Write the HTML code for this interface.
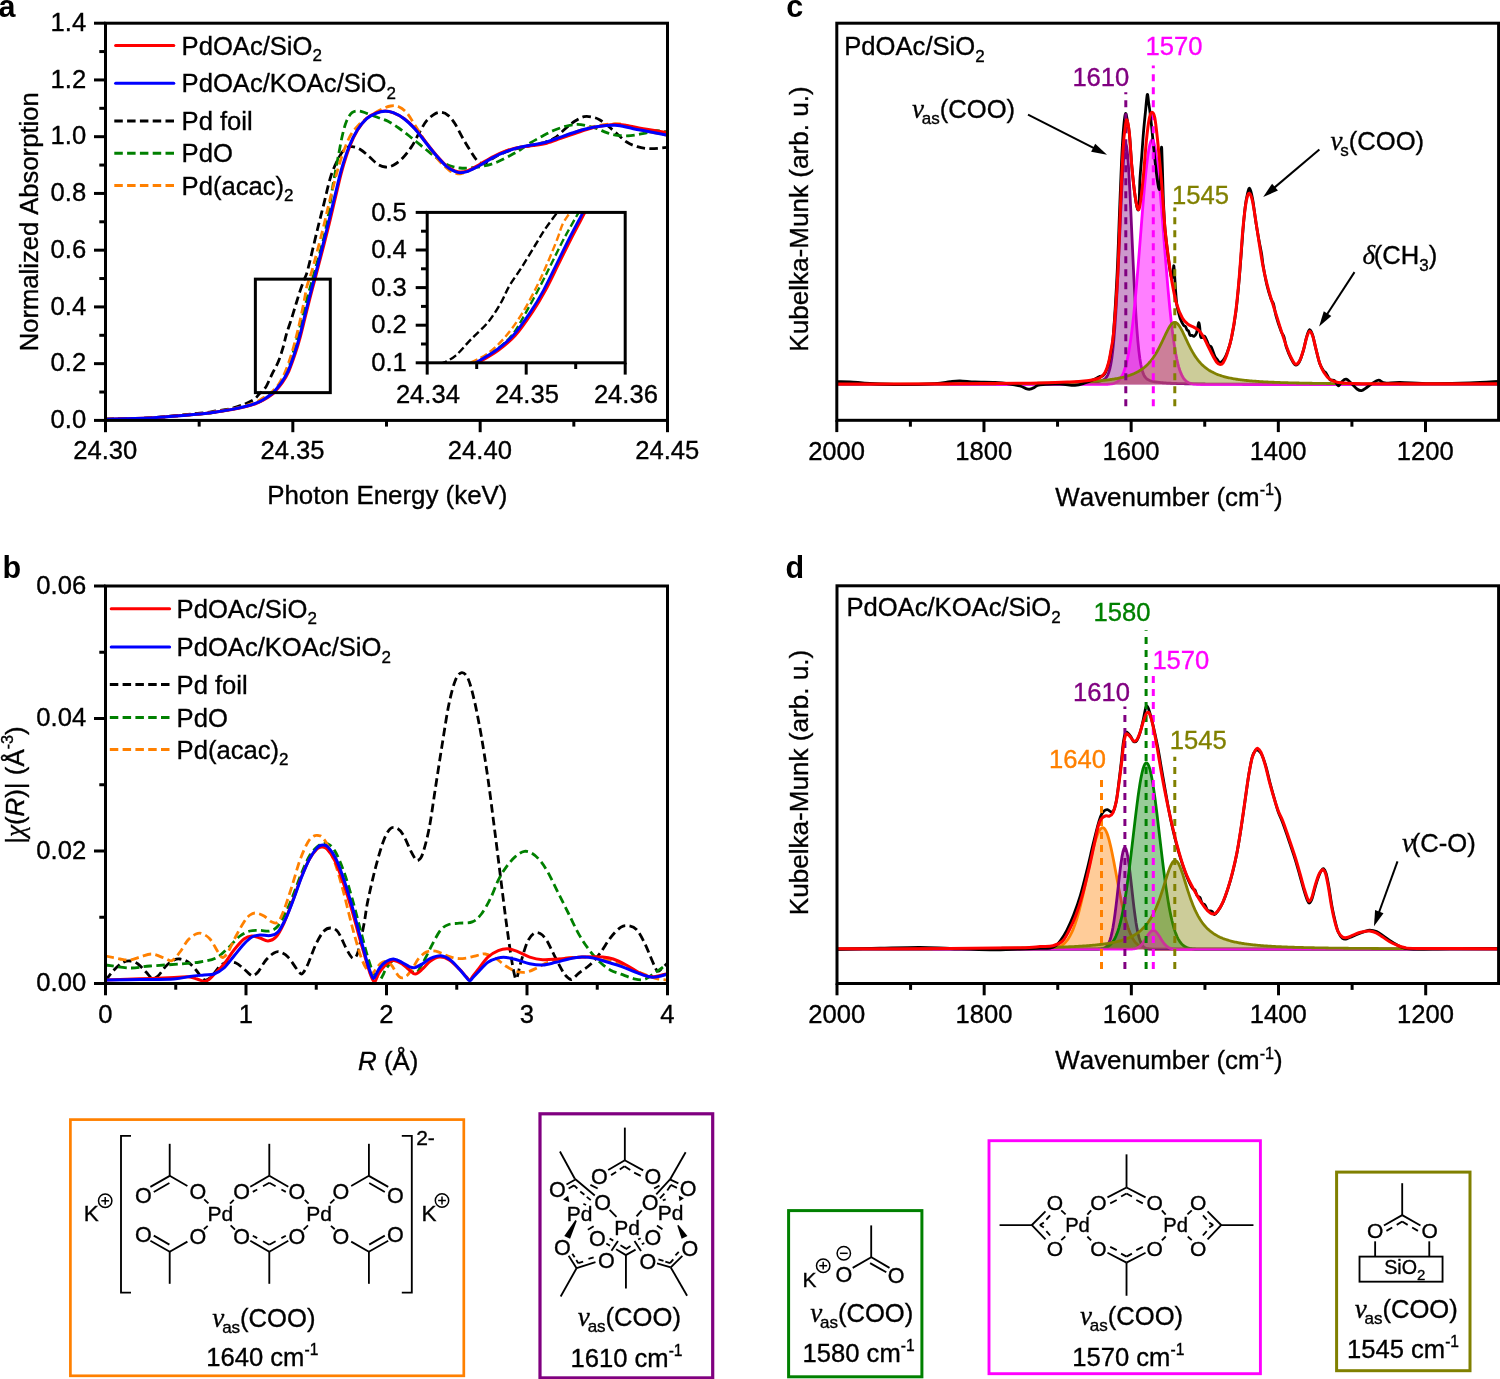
<!DOCTYPE html>
<html><head><meta charset="utf-8"><title>figure</title>
<style>
html,body{margin:0;padding:0;background:#fff;}
body{width:1500px;height:1379px;overflow:hidden;font-family:"Liberation Sans",sans-serif;}
svg{display:block;will-change:transform;}
text{white-space:pre;font-kerning:none;}
</style></head><body>
<svg width="1500" height="1379" viewBox="0 0 1500 1379">
<rect x="0" y="0" width="1500" height="1379" fill="#ffffff"/>
<clipPath id="ca"><rect x="105.5" y="23.2" width="562" height="397.2"/></clipPath>
<clipPath id="ci"><rect x="427.2" y="212.4" width="198" height="150.4"/></clipPath>
<g clip-path="url(#ca)">
<path d="M105.5 419.2C112.92 418.97 134.25 418.8 150 417.8C165.75 416.8 189 414.33 200 413.2C211 412.07 210.93 411.73 216 411C221.07 410.27 225.6 409.97 230.4 408.8C235.2 407.63 240.8 405.6 244.8 404C248.8 402.4 252.08 400.79 254.4 399.2C256.72 397.61 257.46 395.69 258.7 394.44C259.94 393.2 260.58 393.07 261.84 391.73C263.1 390.38 264.58 389.27 266.27 386.37C267.95 383.46 269.92 378.45 271.94 374.3C273.96 370.15 276.5 366.03 278.38 361.47C280.26 356.9 281.88 351.47 283.22 346.91C284.56 342.34 285.1 338.63 286.44 334.08C287.77 329.53 289.62 324.68 291.24 319.59C292.86 314.5 294.68 308.35 296.16 303.52C297.65 298.69 298.77 294.78 300.18 290.62C301.58 286.45 303.32 282.11 304.6 278.54C305.89 274.97 305.78 277.28 307.9 269.19C310.01 261.1 314.62 240.98 317.3 230C319.98 219.02 321.77 212.18 324 203.3C326.23 194.42 328.25 184.25 330.7 176.7C333.15 169.15 336.27 162.67 338.7 158C341.13 153.33 343.08 150.58 345.3 148.7C347.52 146.82 349.55 146.6 352 146.7C354.45 146.8 357.12 147.63 360 149.3C362.88 150.97 366.42 154.25 369.3 156.7C372.18 159.15 374.63 162.28 377.3 164C379.97 165.72 382.63 166.78 385.3 167C387.97 167.22 390.4 166.8 393.3 165.3C396.2 163.8 399.58 161.22 402.7 158C405.82 154.78 409.12 150.45 412 146C414.88 141.55 417.55 135.52 420 131.3C422.45 127.08 424.25 123.58 426.7 120.7C429.15 117.82 432.27 115.38 434.7 114C437.13 112.62 439.08 112.18 441.3 112.4C443.52 112.62 445.77 113.48 448 115.3C450.23 117.12 452.25 119.52 454.7 123.3C457.15 127.08 460.03 133.33 462.7 138C465.37 142.67 468.27 147.52 470.7 151.3C473.13 155.08 475.08 158.62 477.3 160.7C479.52 162.78 481.55 164.12 484 163.8C486.45 163.48 489 160.5 492 158.8C495 157.1 498.33 155.17 502 153.6C505.67 152.03 510 150.57 514 149.4C518 148.23 522.33 147.43 526 146.6C529.67 145.77 533 145.07 536 144.4C539 143.73 540.88 143.67 544 142.6C547.12 141.53 551.15 140.32 554.7 138C558.25 135.68 561.97 131.48 565.3 128.7C568.63 125.92 571.58 123.3 574.7 121.3C577.82 119.3 580.9 117.37 584 116.7C587.1 116.03 590.63 116.75 593.3 117.3C595.97 117.85 597.55 118.55 600 120C602.45 121.45 605.12 123.67 608 126C610.88 128.33 614.18 131.33 617.3 134C620.42 136.67 623.37 139.88 626.7 142C630.03 144.12 633.3 145.58 637.3 146.7C641.3 147.82 645.67 148.6 650.7 148.7C655.73 148.8 664.7 147.53 667.5 147.3" fill="none" stroke="#000000" stroke-width="2.8" stroke-dasharray="8.5 4.3"/>
<path d="M105.5 419.2C112.92 419 134.25 418.87 150 418C165.75 417.13 189 415 200 414C211 413 210.67 412.77 216 412C221.33 411.23 227.33 410.27 232 409.4C236.67 408.53 240 407.83 244 406.8C248 405.77 252.67 404.47 256 403.2C259.33 401.93 261.41 400.72 264 399.2C266.59 397.68 269.91 395.31 271.56 394.07C273.22 392.82 272.29 393.73 273.95 391.73C275.61 389.73 279.23 385.59 281.52 382.07C283.81 378.55 285.79 375.38 287.69 370.6C289.58 365.82 291.1 359.75 292.91 353.4C294.72 347.04 296.93 338.67 298.55 332.49C300.16 326.32 301.12 322.24 302.6 316.35C304.08 310.45 305.76 303.41 307.44 297.11C309.13 290.8 311.36 283.32 312.7 278.54C314.04 273.76 313.32 276.52 315.46 268.43C317.61 260.34 322.63 244.19 325.6 230C328.57 215.81 331.12 195.97 333.3 183.3C335.48 170.63 337.13 162.22 338.7 154C340.27 145.78 341.37 139.55 342.7 134C344.03 128.45 345.15 124.25 346.7 120.7C348.25 117.15 350 114.32 352 112.7C354 111.08 356.25 110.9 358.7 111C361.15 111.1 363.6 112.25 366.7 113.3C369.8 114.35 373.75 115.97 377.3 117.3C380.85 118.63 384.43 119.52 388 121.3C391.57 123.08 395.15 125.55 398.7 128C402.25 130.45 405.75 133.22 409.3 136C412.85 138.78 416.43 141.82 420 144.7C423.57 147.58 427.15 150.53 430.7 153.3C434.25 156.07 437.97 159.18 441.3 161.3C444.63 163.42 447.58 164.88 450.7 166C453.82 167.12 456.9 167.67 460 168C463.1 168.33 465.3 168.33 469.3 168C473.3 167.67 479.33 167 484 166C488.67 165 492.85 163.78 497.3 162C501.75 160.22 506.92 157.3 510.7 155.3C514.48 153.3 516.67 152.1 520 150C523.33 147.9 526.92 145.03 530.7 142.7C534.48 140.37 538.7 138.12 542.7 136C546.7 133.88 550.7 131.67 554.7 130C558.7 128.33 562.93 126.93 566.7 126C570.47 125.07 573.97 124.45 577.3 124.4C580.63 124.35 583.37 124.98 586.7 125.7C590.03 126.42 593.97 127.53 597.3 128.7C600.63 129.87 603.37 131.6 606.7 132.7C610.03 133.8 613.3 134.82 617.3 135.3C621.3 135.78 626.25 135.93 630.7 135.6C635.15 135.27 639.78 134.12 644 133.3C648.22 132.48 652.08 130.92 656 130.7C659.92 130.48 665.58 131.78 667.5 132" fill="none" stroke="#008000" stroke-width="2.8" stroke-dasharray="8.5 4.3"/>
<path d="M105.5 419.2C112.92 419 134.25 418.9 150 418C165.75 417.1 189 414.85 200 413.8C211 412.75 210.67 412.5 216 411.7C221.33 410.9 227.33 409.92 232 409C236.67 408.08 240 407.33 244 406.2C248 405.07 252.83 403.57 256 402.2C259.17 400.83 260.91 399.29 263 398C265.09 396.71 267.05 395.49 268.54 394.44C270.03 393.4 270.3 393.34 271.94 391.73C273.58 390.12 276.23 387.95 278.38 384.78C280.52 381.62 282.67 377.68 284.81 372.71C286.95 367.74 289.23 361.42 291.24 354.98C293.26 348.54 295.3 340.52 296.92 334.08C298.54 327.64 299.69 322.26 300.97 316.35C302.25 310.44 303.66 303.46 304.6 298.61C305.55 293.77 305.85 290.64 306.65 287.3C307.45 283.95 308.44 281.56 309.41 278.54C310.37 275.52 310.22 277.28 312.44 269.19C314.65 261.1 319.66 242.08 322.7 230C325.74 217.92 327.82 208.03 330.7 196.7C333.58 185.37 336.9 171.83 340 162C343.1 152.17 346.18 143.87 349.3 137.7C352.42 131.53 355.37 128.5 358.7 125C362.03 121.5 365.75 119.2 369.3 116.7C372.85 114.2 376.43 111.78 380 110C383.57 108.22 387.58 106.55 390.7 106C393.82 105.45 396.03 105.58 398.7 106.7C401.37 107.82 404.03 109.7 406.7 112.7C409.37 115.7 411.65 119.98 414.7 124.7C417.75 129.42 421.23 135.33 425 141C428.77 146.67 433.25 153.82 437.3 158.7C441.35 163.58 446.02 167.82 449.3 170.3C452.58 172.78 454.88 173.08 457 173.6C459.12 174.12 460.17 173.78 462 173.4C463.83 173.02 465.22 172.53 468 171.3C470.78 170.07 474.48 168.33 478.7 166C482.92 163.67 488.63 159.87 493.3 157.3C497.97 154.73 502.25 152.27 506.7 150.6C511.15 148.93 515.57 148.28 520 147.3C524.43 146.32 528.85 145.58 533.3 144.7C537.75 143.82 542.25 143.23 546.7 142C551.15 140.77 555.57 138.85 560 137.3C564.43 135.75 568.85 134.22 573.3 132.7C577.75 131.18 582.25 129.43 586.7 128.2C591.15 126.97 595.57 126.03 600 125.3C604.43 124.57 609.97 124.02 613.3 123.8C616.63 123.58 616.67 123.38 620 124C623.33 124.62 628.85 126.28 633.3 127.5C637.75 128.72 641 130 646.7 131.3C652.4 132.6 664.03 134.63 667.5 135.3" fill="none" stroke="#ff8000" stroke-width="2.8" stroke-dasharray="8.5 4.3"/>
<path d="M105.5 419.2C112.92 419 134.25 418.87 150 418C165.75 417.13 189 414.98 200 414C211 413.02 210.67 412.83 216 412.1C221.33 411.37 227.33 410.43 232 409.6C236.67 408.77 240 408.1 244 407.1C248 406.1 252.67 404.82 256 403.6C259.33 402.38 261.29 401.35 264 399.8C266.71 398.25 270.51 395.6 272.28 394.29C274.06 392.98 273 393.9 274.67 391.95C276.34 390 279.96 386.04 282.31 382.6C284.67 379.15 286.63 376.11 288.78 371.28C290.94 366.45 293.37 359.24 295.26 353.62C297.14 348 298.48 343.45 300.1 337.55C301.71 331.65 303.34 324.68 304.94 318.23C306.55 311.78 308.07 305.42 309.75 298.84C311.43 292.26 313.72 283.8 315.05 278.77C316.37 273.74 315.59 276.79 317.7 268.66C319.81 260.53 324.72 241.99 327.7 230C330.68 218.01 333.2 206.7 335.6 196.7C338 186.7 339.72 178.45 342.1 170C344.48 161.55 347.32 152.67 349.9 146C352.48 139.33 354.8 134.62 357.6 130C360.4 125.38 363.63 121.17 366.7 118.3C369.77 115.43 372.9 114.02 376 112.8C379.1 111.58 382.38 110.98 385.3 111C388.22 111.02 390.32 111.62 393.5 112.9C396.68 114.18 400.8 116.07 404.4 118.7C408 121.33 411.55 124.82 415.1 128.7C418.65 132.58 422.15 137.57 425.7 142C429.25 146.43 432.85 151.23 436.4 155.3C439.95 159.37 443.9 163.8 447 166.4C450.1 169 452.75 169.95 455 170.9C457.25 171.85 458.33 172.15 460.5 172.1C462.67 172.05 464.97 171.78 468 170.6C471.03 169.42 474.48 167.35 478.7 165C482.92 162.65 488.63 158.88 493.3 156.5C497.97 154.12 502.25 152.23 506.7 150.7C511.15 149.17 515.57 148.15 520 147.3C524.43 146.45 528.85 146.28 533.3 145.6C537.75 144.92 542.25 144.35 546.7 143.2C551.15 142.05 555.57 140.23 560 138.7C564.43 137.17 568.85 135.53 573.3 134C577.75 132.47 582.25 130.78 586.7 129.5C591.15 128.22 595.57 127.13 600 126.3C604.43 125.47 609.97 124.78 613.3 124.5C616.63 124.22 616.67 124.22 620 124.6C623.33 124.98 628.85 126.02 633.3 126.8C637.75 127.58 641 128.32 646.7 129.3C652.4 130.28 664.03 132.13 667.5 132.7" fill="none" stroke="#ff0000" stroke-width="3"/>
<path d="M105.5 419.2C112.92 419 134.25 418.87 150 418C165.75 417.13 189 415 200 414C211 413 210.67 412.77 216 412C221.33 411.23 227.33 410.27 232 409.4C236.67 408.53 240 407.83 244 406.8C248 405.77 252.67 404.47 256 403.2C259.33 401.93 261.41 400.72 264 399.2C266.59 397.68 269.91 395.31 271.56 394.07C273.22 392.82 272.28 393.68 273.95 391.73C275.62 389.78 279.24 385.82 281.59 382.37C283.95 378.92 285.91 375.88 288.06 371.05C290.22 366.22 292.65 359.02 294.54 353.4C296.42 347.77 297.77 343.22 299.38 337.32C301 331.42 302.62 324.46 304.22 318.01C305.83 311.55 307.35 305.19 309.03 298.61C310.72 292.04 313 283.57 314.33 278.54C315.65 273.51 314.92 276.52 316.98 268.43C319.04 260.34 323.75 241.96 326.7 230C329.65 218.04 332.27 206.7 334.7 196.7C337.13 186.7 338.87 178.45 341.3 170C343.73 161.55 346.63 152.67 349.3 146C351.97 139.33 354.4 134.55 357.3 130C360.2 125.45 363.58 121.48 366.7 118.7C369.82 115.92 372.9 114.53 376 113.3C379.1 112.07 382.42 111.4 385.3 111.3C388.18 111.2 390.18 111.47 393.3 112.7C396.42 113.93 400.43 116.03 404 118.7C407.57 121.37 411.15 124.82 414.7 128.7C418.25 132.58 421.75 137.57 425.3 142C428.85 146.43 432.43 151.18 436 155.3C439.57 159.42 443.58 164.03 446.7 166.7C449.82 169.37 452.48 170.3 454.7 171.3C456.92 172.3 457.78 172.7 460 172.7C462.22 172.7 464.88 172.42 468 171.3C471.12 170.18 474.48 168.33 478.7 166C482.92 163.67 488.63 159.75 493.3 157.3C497.97 154.85 502.25 152.97 506.7 151.3C511.15 149.63 515.57 148.4 520 147.3C524.43 146.2 528.85 145.58 533.3 144.7C537.75 143.82 542.25 143.23 546.7 142C551.15 140.77 555.57 138.85 560 137.3C564.43 135.75 568.85 134.13 573.3 132.7C577.75 131.27 582.25 129.77 586.7 128.7C591.15 127.63 595.57 126.87 600 126.3C604.43 125.73 609.97 125.4 613.3 125.3C616.63 125.2 616.67 125.13 620 125.7C623.33 126.27 628.85 127.77 633.3 128.7C637.75 129.63 641 130.2 646.7 131.3C652.4 132.4 664.03 134.63 667.5 135.3" fill="none" stroke="#0000ff" stroke-width="3"/>
</g>
<g clip-path="url(#ci)">
<path d="M399.28 378.67C403.51 377.61 418.53 374.42 424.65 372.3C430.77 370.19 432.72 367.65 436 366C439.28 364.35 440.97 364.18 444.3 362.4C447.63 360.62 451.55 359.15 456 355.3C460.45 351.45 465.67 344.8 471 339.3C476.33 333.8 483.03 328.35 488 322.3C492.97 316.25 497.25 309.05 500.8 303C504.35 296.95 505.77 292.03 509.3 286C512.83 279.97 517.72 273.55 522 266.8C526.28 260.05 531.07 251.9 535 245.5C538.93 239.1 541.88 233.92 545.6 228.4C549.32 222.88 553.9 217.13 557.3 212.4C560.7 207.67 560.41 210.72 566 200C571.59 189.28 583.76 162.62 590.85 148.07C597.94 133.51 602.65 124.46 608.55 112.68C614.45 100.91 619.78 87.44 626.26 77.43C632.73 67.42 640.97 58.83 647.4 52.65C653.83 46.46 661.93 42.38 664.84 40.32" fill="none" stroke="#000000" stroke-width="2.4" stroke-dasharray="7.5 3.4"/>
<path d="M397.17 382.38C402.45 381.58 420.07 379.28 428.87 377.61C437.68 375.93 443.16 374.32 450.01 372.3C456.87 370.29 465.62 367.15 470 365.5C474.38 363.85 471.92 365.05 476.3 362.4C480.68 359.75 490.25 354.27 496.3 349.6C502.35 344.93 507.58 340.73 512.6 334.4C517.62 328.07 521.62 320.02 526.4 311.6C531.18 303.18 537.03 292.08 541.3 283.9C545.57 275.72 548.08 270.32 552 262.5C555.92 254.68 560.35 245.35 564.8 237C569.25 228.65 575.17 218.73 578.7 212.4C582.23 206.07 580.32 209.72 586 199C591.68 188.28 604.93 166.87 612.78 148.07C620.64 129.26 627.36 102.96 633.13 86.18C638.9 69.39 643.26 58.24 647.4 47.35C651.54 36.46 654.44 28.2 657.97 20.84C661.49 13.49 666.77 6.15 668.53 3.21" fill="none" stroke="#008000" stroke-width="2.4" stroke-dasharray="7.5 3.4"/>
<path d="M397.17 381.58C402.45 380.7 420.51 378.09 428.87 376.28C437.24 374.47 441.85 372.43 447.37 370.71C452.89 369 458.06 367.39 462 366C465.94 364.61 466.67 364.53 471 362.4C475.33 360.27 482.33 357.4 488 353.2C493.67 349 499.33 343.78 505 337.2C510.67 330.62 516.67 322.23 522 313.7C527.33 305.17 532.72 294.53 537 286C541.28 277.47 544.32 270.33 547.7 262.5C551.08 254.67 554.8 245.42 557.3 239C559.8 232.58 560.58 228.43 562.7 224C564.82 219.57 567.45 216.4 570 212.4C572.55 208.4 572.15 210.72 578 200C583.85 189.28 597.08 164.08 605.12 148.07C613.16 132.06 618.64 118.96 626.26 103.94C633.88 88.92 646.74 65.61 650.83 57.95" fill="none" stroke="#ff8000" stroke-width="2.4" stroke-dasharray="7.5 3.4"/>
<path d="M397.17 382.77C402.45 382 420.07 379.75 428.87 378.14C437.68 376.52 442.84 375.16 450.01 373.1C457.18 371.04 467.2 367.53 471.9 365.8C476.6 364.07 473.78 365.28 478.2 362.7C482.62 360.12 492.18 354.87 498.4 350.3C504.62 345.73 509.8 341.7 515.5 335.3C521.2 328.9 527.62 319.35 532.6 311.9C537.58 304.45 541.13 298.42 545.4 290.6C549.67 282.78 553.95 273.55 558.2 265C562.45 256.45 566.45 248.02 570.9 239.3C575.35 230.58 581.4 219.37 584.9 212.7C588.4 206.03 586.33 210.07 591.9 199.3C597.47 188.53 610.45 163.96 618.33 148.07C626.21 132.17 632.86 117.19 639.2 103.94C645.55 90.68 653.52 74.45 656.38 68.55" fill="none" stroke="#ff0000" stroke-width="2.8"/>
<path d="M397.17 382.38C402.45 381.58 420.07 379.28 428.87 377.61C437.68 375.93 443.16 374.32 450.01 372.3C456.87 370.29 465.62 367.15 470 365.5C474.38 363.85 471.88 364.98 476.3 362.4C480.72 359.82 490.28 354.57 496.5 350C502.72 345.43 507.9 341.4 513.6 335C519.3 328.6 525.72 319.05 530.7 311.6C535.68 304.15 539.23 298.12 543.5 290.3C547.77 282.48 552.05 273.25 556.3 264.7C560.55 256.15 564.55 247.72 569 239C573.45 230.28 579.5 219.07 583 212.4C586.5 205.73 584.55 209.72 590 199C595.45 188.28 607.88 163.91 615.69 148.07C623.49 132.22 630.4 117.19 636.83 103.94C643.26 90.68 651.36 74.45 654.27 68.55" fill="none" stroke="#0000ff" stroke-width="2.8"/>
</g>
<rect x="255.37" y="279.14" width="74.93" height="113.49" fill="none" stroke="#000" stroke-width="3"/>
<rect x="105.5" y="23.2" width="562" height="397.2" fill="none" stroke="#000" stroke-width="3"/>
<line x1="94" y1="420.4" x2="105.5" y2="420.4" stroke="#000" stroke-width="3" />
<text x="86.2" y="428.1" font-family='"Liberation Sans", sans-serif' font-size="25.6" text-anchor="end" fill="#000" stroke="#000" stroke-width="0.35" >0.0</text>
<line x1="99.3" y1="392.03" x2="105.5" y2="392.03" stroke="#000" stroke-width="3" />
<line x1="94" y1="363.66" x2="105.5" y2="363.66" stroke="#000" stroke-width="3" />
<text x="86.2" y="371.36" font-family='"Liberation Sans", sans-serif' font-size="25.6" text-anchor="end" fill="#000" stroke="#000" stroke-width="0.35" >0.2</text>
<line x1="99.3" y1="335.29" x2="105.5" y2="335.29" stroke="#000" stroke-width="3" />
<line x1="94" y1="306.91" x2="105.5" y2="306.91" stroke="#000" stroke-width="3" />
<text x="86.2" y="314.61" font-family='"Liberation Sans", sans-serif' font-size="25.6" text-anchor="end" fill="#000" stroke="#000" stroke-width="0.35" >0.4</text>
<line x1="99.3" y1="278.54" x2="105.5" y2="278.54" stroke="#000" stroke-width="3" />
<line x1="94" y1="250.17" x2="105.5" y2="250.17" stroke="#000" stroke-width="3" />
<text x="86.2" y="257.87" font-family='"Liberation Sans", sans-serif' font-size="25.6" text-anchor="end" fill="#000" stroke="#000" stroke-width="0.35" >0.6</text>
<line x1="99.3" y1="221.8" x2="105.5" y2="221.8" stroke="#000" stroke-width="3" />
<line x1="94" y1="193.43" x2="105.5" y2="193.43" stroke="#000" stroke-width="3" />
<text x="86.2" y="201.13" font-family='"Liberation Sans", sans-serif' font-size="25.6" text-anchor="end" fill="#000" stroke="#000" stroke-width="0.35" >0.8</text>
<line x1="99.3" y1="165.06" x2="105.5" y2="165.06" stroke="#000" stroke-width="3" />
<line x1="94" y1="136.69" x2="105.5" y2="136.69" stroke="#000" stroke-width="3" />
<text x="86.2" y="144.39" font-family='"Liberation Sans", sans-serif' font-size="25.6" text-anchor="end" fill="#000" stroke="#000" stroke-width="0.35" >1.0</text>
<line x1="99.3" y1="108.31" x2="105.5" y2="108.31" stroke="#000" stroke-width="3" />
<line x1="94" y1="79.94" x2="105.5" y2="79.94" stroke="#000" stroke-width="3" />
<text x="86.2" y="87.64" font-family='"Liberation Sans", sans-serif' font-size="25.6" text-anchor="end" fill="#000" stroke="#000" stroke-width="0.35" >1.2</text>
<line x1="99.3" y1="51.57" x2="105.5" y2="51.57" stroke="#000" stroke-width="3" />
<line x1="94" y1="23.2" x2="105.5" y2="23.2" stroke="#000" stroke-width="3" />
<text x="86.2" y="30.9" font-family='"Liberation Sans", sans-serif' font-size="25.6" text-anchor="end" fill="#000" stroke="#000" stroke-width="0.35" >1.4</text>
<line x1="105.5" y1="420.4" x2="105.5" y2="432.2" stroke="#000" stroke-width="3" />
<text x="105.2" y="459.4" font-family='"Liberation Sans", sans-serif' font-size="25.6" text-anchor="middle" fill="#000" stroke="#000" stroke-width="0.35" >24.30</text>
<line x1="199.17" y1="420.4" x2="199.17" y2="426.6" stroke="#000" stroke-width="3" />
<line x1="292.83" y1="420.4" x2="292.83" y2="432.2" stroke="#000" stroke-width="3" />
<text x="292.53" y="459.4" font-family='"Liberation Sans", sans-serif' font-size="25.6" text-anchor="middle" fill="#000" stroke="#000" stroke-width="0.35" >24.35</text>
<line x1="386.5" y1="420.4" x2="386.5" y2="426.6" stroke="#000" stroke-width="3" />
<line x1="480.17" y1="420.4" x2="480.17" y2="432.2" stroke="#000" stroke-width="3" />
<text x="479.87" y="459.4" font-family='"Liberation Sans", sans-serif' font-size="25.6" text-anchor="middle" fill="#000" stroke="#000" stroke-width="0.35" >24.40</text>
<line x1="573.83" y1="420.4" x2="573.83" y2="426.6" stroke="#000" stroke-width="3" />
<line x1="667.5" y1="420.4" x2="667.5" y2="432.2" stroke="#000" stroke-width="3" />
<text x="667.2" y="459.4" font-family='"Liberation Sans", sans-serif' font-size="25.6" text-anchor="middle" fill="#000" stroke="#000" stroke-width="0.35" >24.45</text>
<rect x="427.2" y="212.4" width="198" height="150.4" fill="none" stroke="#000" stroke-width="3"/>
<line x1="415.7" y1="362.8" x2="427.2" y2="362.8" stroke="#000" stroke-width="3" />
<text x="406.8" y="370.9" font-family='"Liberation Sans", sans-serif' font-size="25.6" text-anchor="end" fill="#000" stroke="#000" stroke-width="0.35" >0.1</text>
<line x1="421" y1="344" x2="427.2" y2="344" stroke="#000" stroke-width="3" />
<line x1="415.7" y1="325.2" x2="427.2" y2="325.2" stroke="#000" stroke-width="3" />
<text x="406.8" y="333.3" font-family='"Liberation Sans", sans-serif' font-size="25.6" text-anchor="end" fill="#000" stroke="#000" stroke-width="0.35" >0.2</text>
<line x1="421" y1="306.4" x2="427.2" y2="306.4" stroke="#000" stroke-width="3" />
<line x1="415.7" y1="287.6" x2="427.2" y2="287.6" stroke="#000" stroke-width="3" />
<text x="406.8" y="295.7" font-family='"Liberation Sans", sans-serif' font-size="25.6" text-anchor="end" fill="#000" stroke="#000" stroke-width="0.35" >0.3</text>
<line x1="421" y1="268.8" x2="427.2" y2="268.8" stroke="#000" stroke-width="3" />
<line x1="415.7" y1="250" x2="427.2" y2="250" stroke="#000" stroke-width="3" />
<text x="406.8" y="258.1" font-family='"Liberation Sans", sans-serif' font-size="25.6" text-anchor="end" fill="#000" stroke="#000" stroke-width="0.35" >0.4</text>
<line x1="421" y1="231.2" x2="427.2" y2="231.2" stroke="#000" stroke-width="3" />
<line x1="415.7" y1="212.4" x2="427.2" y2="212.4" stroke="#000" stroke-width="3" />
<text x="406.8" y="220.5" font-family='"Liberation Sans", sans-serif' font-size="25.6" text-anchor="end" fill="#000" stroke="#000" stroke-width="0.35" >0.5</text>
<line x1="427.2" y1="362.8" x2="427.2" y2="374.6" stroke="#000" stroke-width="3" />
<text x="427.9" y="403.2" font-family='"Liberation Sans", sans-serif' font-size="25.6" text-anchor="middle" fill="#000" stroke="#000" stroke-width="0.35" >24.34</text>
<line x1="476.7" y1="362.8" x2="476.7" y2="369" stroke="#000" stroke-width="3" />
<line x1="526.2" y1="362.8" x2="526.2" y2="374.6" stroke="#000" stroke-width="3" />
<text x="526.9" y="403.2" font-family='"Liberation Sans", sans-serif' font-size="25.6" text-anchor="middle" fill="#000" stroke="#000" stroke-width="0.35" >24.35</text>
<line x1="575.7" y1="362.8" x2="575.7" y2="369" stroke="#000" stroke-width="3" />
<line x1="625.2" y1="362.8" x2="625.2" y2="374.6" stroke="#000" stroke-width="3" />
<text x="625.9" y="403.2" font-family='"Liberation Sans", sans-serif' font-size="25.6" text-anchor="middle" fill="#000" stroke="#000" stroke-width="0.35" >24.36</text>
<text x="-1.6" y="17" font-family='"Liberation Sans", sans-serif' font-size="30.5" text-anchor="start" fill="#000" font-weight="bold" >a</text>
<text x="387.3" y="503.6" font-family='"Liberation Sans", sans-serif' font-size="25.9" text-anchor="middle" fill="#000" stroke="#000" stroke-width="0.35" >Photon Energy (keV)</text>
<text transform="translate(38.4,221.8) rotate(-90)" font-family='"Liberation Sans", sans-serif' font-size="25.6" text-anchor="middle" stroke="#000" stroke-width="0.35">Normalized Absorption</text>
<path d="M115.6 45.4 H173.8" fill="none" stroke="#ff0000" stroke-width="3" stroke-linecap="round"/>
<text x="181.6" y="54.5" font-family='"Liberation Sans", sans-serif' font-size="25.6" text-anchor="start" fill="#000" stroke="#000" stroke-width="0.35" >PdOAc/SiO<tspan font-size="17" dy="6.5">2</tspan><tspan dy="-6.5" font-size="1">&#8203;</tspan></text>
<path d="M115.6 83.3 H173.8" fill="none" stroke="#0000ff" stroke-width="3" stroke-linecap="round"/>
<text x="181.6" y="92.4" font-family='"Liberation Sans", sans-serif' font-size="25.6" text-anchor="start" fill="#000" stroke="#000" stroke-width="0.35" >PdOAc/KOAc/SiO<tspan font-size="17" dy="6.5">2</tspan><tspan dy="-6.5" font-size="1">&#8203;</tspan></text>
<path d="M114.3 121 H175.4" fill="none" stroke="#000000" stroke-width="3" stroke-dasharray="8.5 4.3"/>
<text x="181.6" y="130.1" font-family='"Liberation Sans", sans-serif' font-size="25.6" text-anchor="start" fill="#000" stroke="#000" stroke-width="0.35" >Pd foil</text>
<path d="M114.3 153.3 H175.4" fill="none" stroke="#008000" stroke-width="3" stroke-dasharray="8.5 4.3"/>
<text x="181.6" y="162.4" font-family='"Liberation Sans", sans-serif' font-size="25.6" text-anchor="start" fill="#000" stroke="#000" stroke-width="0.35" >PdO</text>
<path d="M114.3 185.4 H175.4" fill="none" stroke="#ff8000" stroke-width="3" stroke-dasharray="8.5 4.3"/>
<text x="181.6" y="194.5" font-family='"Liberation Sans", sans-serif' font-size="25.6" text-anchor="start" fill="#000" stroke="#000" stroke-width="0.35" >Pd(acac)<tspan font-size="17" dy="6.5">2</tspan><tspan dy="-6.5" font-size="1">&#8203;</tspan></text>
<clipPath id="cb"><rect x="105.5" y="586" width="562" height="397.5"/></clipPath>
<g clip-path="url(#cb)">
<path d="M105.5 980.5C106.92 978.75 111.25 972.92 114 970C116.75 967.08 119.33 964.5 122 963C124.67 961.5 127.33 960.83 130 961C132.67 961.17 135.33 962.17 138 964C140.67 965.83 143.67 969.67 146 972C148.33 974.33 150 977.33 152 978C154 978.67 155.67 978 158 976C160.33 974 163.33 968.67 166 966C168.67 963.33 171.67 961.17 174 960C176.33 958.83 177.67 958.67 180 959C182.33 959.33 185.33 960.17 188 962C190.67 963.83 193.67 967.33 196 970C198.33 972.67 200.33 976.33 202 978C203.67 979.67 204.33 980.33 206 980C207.67 979.67 209.67 978.33 212 976C214.33 973.67 217.33 968.33 220 966C222.67 963.67 225.33 962.5 228 962C230.67 961.5 233.33 961.83 236 963C238.67 964.17 241.67 967.08 244 969C246.33 970.92 248.5 973.42 250 974.5C251.5 975.58 251.67 975.92 253 975.5C254.33 975.08 255.83 974.58 258 972C260.17 969.42 263.33 963.17 266 960C268.67 956.83 271.67 954.33 274 953C276.33 951.67 277.67 951.33 280 952C282.33 952.67 285.33 954.33 288 957C290.67 959.67 293.92 965.25 296 968C298.08 970.75 299.33 972.67 300.5 973.5C301.67 974.33 301.75 974.58 303 973C304.25 971.42 305.83 968.83 308 964C310.17 959.17 313.33 949.5 316 944C318.67 938.5 321.5 933.67 324 931C326.5 928.33 328.67 927.83 331 928C333.33 928.17 335.5 928.67 338 932C340.5 935.33 343.83 943.92 346 948C348.17 952.08 349.67 954.83 351 956.5C352.33 958.17 352.83 958.75 354 958C355.17 957.25 356.33 957.67 358 952C359.67 946.33 362.37 932.5 364 924C365.63 915.5 365.85 910.5 367.8 901C369.75 891.5 373.08 877 375.7 867C378.32 857 381.12 847.33 383.5 841C385.88 834.67 387.83 831.17 390 829C392.17 826.83 394.33 827.08 396.5 828C398.67 828.92 400.58 830.6 403 834.5C405.42 838.4 408.92 847.32 411 851.4C413.08 855.48 414.25 857.57 415.5 859C416.75 860.43 417.32 860.83 418.5 860C419.68 859.17 420.82 859.33 422.6 854C424.38 848.67 427.02 839.3 429.2 828C431.38 816.7 433.53 800.13 435.7 786.2C437.87 772.27 440.03 757.88 442.2 744.4C444.37 730.92 446.52 715.95 448.7 705.3C450.88 694.65 453.12 685.95 455.3 680.5C457.48 675.05 459.63 672.82 461.8 672.6C463.97 672.38 466.13 674.2 468.3 679.2C470.47 684.2 472.62 693.03 474.8 702.6C476.98 712.17 479.22 723.98 481.4 736.6C483.58 749.22 485.73 763.07 487.9 778.3C490.07 793.53 492.23 811.05 494.4 828C496.57 844.95 498.93 864.33 500.9 880C502.87 895.67 504.45 908.93 506.2 922C507.95 935.07 510.02 949.57 511.4 958.4C512.78 967.23 513.7 971.57 514.5 975C515.3 978.43 515.62 979.17 516.2 979C516.78 978.83 517.28 976.55 518 974C518.72 971.45 519 968.9 520.5 963.7C522 958.5 524.82 947.82 527 942.8C529.18 937.78 531.42 935.13 533.6 933.6C535.78 932.07 537.93 932.5 540.1 933.6C542.27 934.7 544.2 936.5 546.6 940.2C549 943.9 551.67 950.37 554.5 955.8C557.33 961.23 561.18 969.02 563.6 972.8C566.02 976.58 567.52 977.47 569 978.5C570.48 979.53 570.8 979.95 572.5 979C574.2 978.05 576.33 975.13 579.2 972.8C582.07 970.47 586.22 968.27 589.7 965C593.18 961.73 596.62 957.77 600.1 953.2C603.58 948.63 607.12 941.95 610.6 937.6C614.08 933.25 617.97 929.07 621 927.1C624.03 925.13 626.18 925.37 628.8 925.8C631.42 926.23 634.08 926.87 636.7 929.7C639.32 932.53 641.9 937.58 644.5 942.8C647.1 948.02 650.3 956.47 652.3 961C654.3 965.53 655.38 968.33 656.5 970C657.62 971.67 657.95 971.4 659 971C660.05 970.6 661.38 968.93 662.8 967.6C664.22 966.27 666.72 963.77 667.5 963" fill="none" stroke="#000000" stroke-width="2.8" stroke-dasharray="8.5 4.3"/>
<path d="M105.5 965C109.58 965.5 122.58 967.83 130 968C137.42 968.17 141.67 966.67 150 966C158.33 965.33 171.67 964.67 180 964C188.33 963.33 194 963 200 962C206 961 211.33 960.33 216 958C220.67 955.67 224 951.67 228 948C232 944.33 236.33 938.83 240 936C243.67 933.17 246.67 931.93 250 931C253.33 930.07 256.67 930.4 260 930.4C263.33 930.4 267 931.73 270 931C273 930.27 275.33 929.17 278 926C280.67 922.83 283.33 917.5 286 912C288.67 906.5 291.33 899.67 294 893C296.67 886.33 299.33 878.33 302 872C304.67 865.67 307.33 859.33 310 855C312.67 850.67 315.67 847.93 318 846C320.33 844.07 322 843.57 324 843.4C326 843.23 328 843.4 330 845C332 846.6 333.67 848.5 336 853C338.33 857.5 341.33 864.5 344 872C346.67 879.5 349.33 888.67 352 898C354.67 907.33 357.33 918 360 928C362.67 938 365.67 950.33 368 958C370.33 965.67 372.07 970.42 374 974C375.93 977.58 378.1 979.33 379.6 979.5C381.1 979.67 381.92 976.77 383 975C384.08 973.23 384.27 971.45 386.1 968.9C387.93 966.35 391.35 960.68 394 959.7C396.65 958.72 399.5 961.37 402 963C404.5 964.63 406.65 967.87 409 969.5C411.35 971.13 414.18 973.22 416.1 972.8C418.02 972.38 418.97 969.4 420.5 967C422.03 964.6 423.2 962.43 425.3 958.4C427.4 954.37 430.5 947.58 433.1 942.8C435.7 938.02 438.3 932.75 440.9 929.7C443.5 926.65 445.65 925.58 448.7 924.5C451.75 923.42 455.28 923.63 459.2 923.2C463.12 922.77 468.5 923.43 472.2 921.9C475.9 920.37 478.35 917.92 481.4 914C484.45 910.08 487.68 904.05 490.5 898.4C493.32 892.75 495.68 885.32 498.3 880.1C500.92 874.88 503.37 871.02 506.2 867.1C509.03 863.18 512.27 859.22 515.3 856.6C518.33 853.98 521.57 851.92 524.4 851.4C527.23 850.88 529.68 851.97 532.3 853.5C534.92 855.03 537.5 857.47 540.1 860.6C542.7 863.73 544.85 866.87 547.9 872.3C550.95 877.73 554.92 886.25 558.4 893.2C561.88 900.15 565.33 907.05 568.8 914C572.27 920.95 575.72 928.8 579.2 934.9C582.68 941 586.22 946.03 589.7 950.6C593.18 955.17 596.62 959.03 600.1 962.3C603.58 965.57 607.12 968.23 610.6 970.2C614.08 972.17 617.08 972.67 621 974.1C624.92 975.53 630.18 977.93 634.1 978.8C638.02 979.67 641.02 980.3 644.5 979.3C647.98 978.3 651.17 975.4 655 972.8C658.83 970.2 665.42 965.22 667.5 963.7" fill="none" stroke="#008000" stroke-width="2.8" stroke-dasharray="8.5 4.3"/>
<path d="M105.5 956C107.92 956.5 115.92 958.33 120 959C124.08 959.67 126.67 960.33 130 960C133.33 959.67 136.33 958 140 957C143.67 956 148 953.83 152 954C156 954.17 160.67 956.9 164 958C167.33 959.1 169.33 961.6 172 960.6C174.67 959.6 177.33 955.43 180 952C182.67 948.57 185.33 943 188 940C190.67 937 193.67 935.07 196 934C198.33 932.93 199.67 932.77 202 933.6C204.33 934.43 207.33 935.93 210 939C212.67 942.07 215.92 948.92 218 952C220.08 955.08 220.83 957.5 222.5 957.5C224.17 957.5 225.75 955.58 228 952C230.25 948.42 233.33 941 236 936C238.67 931 241.67 925.5 244 922C246.33 918.5 248 916.5 250 915C252 913.5 253.67 912.83 256 913C258.33 913.17 261.33 914.5 264 916C266.67 917.5 269.67 921 272 922C274.33 923 276 924 278 922C280 920 281.67 916 284 910C286.33 904 289.33 894.33 292 886C294.67 877.67 297.33 867.33 300 860C302.67 852.67 305.67 846 308 842C310.33 838 312.33 837.08 314 836C315.67 834.92 316.67 835.33 318 835.5C319.33 835.67 320.33 835.25 322 837C323.67 838.75 325.67 841.17 328 846C330.33 850.83 333.33 858 336 866C338.67 874 341.33 884 344 894C346.67 904 349.33 916 352 926C354.67 936 357.67 947 360 954C362.33 961 364 964.75 366 968C368 971.25 370.33 973.33 372 973.5C373.67 973.67 374.67 970.58 376 969C377.33 967.42 378.5 965.25 380 964C381.5 962.75 383.12 961.33 385 961.5C386.88 961.67 388.93 962.47 391.3 965C393.67 967.53 396.8 974.75 399.2 976.7C401.6 978.65 403.53 978 405.7 976.7C407.87 975.4 410.03 971.95 412.2 968.9C414.37 965.85 416.3 961.23 418.7 958.4C421.1 955.57 423.77 953.12 426.6 951.9C429.43 950.68 432.45 950.53 435.7 951.1C438.95 951.67 442.62 954.08 446.1 955.3C449.58 956.52 453.12 957.97 456.6 958.4C460.08 958.83 463.52 958.42 467 957.9C470.48 957.38 474.45 955.95 477.5 955.3C480.55 954.65 482.27 953.48 485.3 954C488.33 954.52 492.22 956.35 495.7 958.4C499.18 960.45 502.72 964.12 506.2 966.3C509.68 968.48 513.13 970.55 516.6 971.5C520.07 972.45 523.52 972.65 527 972C530.48 971.35 534.02 969.22 537.5 967.6C540.98 965.98 543.55 963.83 547.9 962.3C552.25 960.77 557.93 959.27 563.6 958.4C569.27 957.53 575.38 957 581.9 957.1C588.42 957.2 596.18 957.68 602.7 959C609.22 960.32 615.77 963.13 621 965C626.23 966.87 629.75 968.47 634.1 970.2C638.45 971.93 643.2 973.97 647.1 975.4C651 976.83 654.1 978.02 657.5 978.8C660.9 979.58 665.83 979.88 667.5 980.1" fill="none" stroke="#ff8000" stroke-width="2.8" stroke-dasharray="8.5 4.3"/>
<path d="M105.5 980C111.25 979.8 128.58 979.2 140 978.8C151.42 978.4 166 977.93 174 977.6C182 977.27 184.17 976.57 188 976.8C191.83 977.03 194.33 978.23 197 979C199.67 979.77 202 981.33 204 981.4C206 981.47 207.33 980.57 209 979.4C210.67 978.23 211.5 976.97 214 974.4C216.5 971.83 220.67 968.07 224 964C227.33 959.93 230.67 954.17 234 950C237.33 945.83 241 941.33 244 939C247 936.67 249.33 936.17 252 936C254.67 935.83 257.33 937.17 260 938C262.67 938.83 265.33 941.17 268 941C270.67 940.83 273.33 940 276 937C278.67 934 281.17 929.17 284 923C286.83 916.83 290.17 907.5 293 900C295.83 892.5 298.33 884.67 301 878C303.67 871.33 306.33 864.83 309 860C311.67 855.17 314.83 851.17 317 849C319.17 846.83 320.33 847 322 847C323.67 847 324.83 846.67 327 849C329.17 851.33 332.33 855.5 335 861C337.67 866.5 340.33 874.33 343 882C345.67 889.67 348.33 898 351 907C353.67 916 356.42 926.83 359 936C361.58 945.17 364.5 955.33 366.5 962C368.5 968.67 369.68 972.67 371 976C372.32 979.33 373.32 982 374.4 982C375.48 982 376.42 977.97 377.5 976C378.58 974.03 379.03 972.48 380.9 970.2C382.77 967.92 386.52 963.92 388.7 962.3C390.88 960.68 391.82 960.27 394 960.5C396.18 960.73 399.2 962.08 401.8 963.7C404.4 965.32 407.35 968.47 409.6 970.2C411.85 971.93 413.13 974.32 415.3 974.1C417.47 973.88 420.07 971.08 422.6 968.9C425.13 966.72 427.67 962.97 430.5 961C433.33 959.03 436.57 957.32 439.6 957.1C442.63 956.88 445.43 957.73 448.7 959.7C451.97 961.67 456.32 966.1 459.2 968.9C462.08 971.7 464.27 974.65 466 976.5C467.73 978.35 468.43 980.08 469.6 980C470.77 979.92 471.68 977.63 473 976C474.32 974.37 475.02 973.35 477.5 970.2C479.98 967.05 484.43 960.37 487.9 957.1C491.37 953.83 495.03 951.98 498.3 950.6C501.57 949.22 504.45 948.72 507.5 948.8C510.55 948.88 512.9 949.72 516.6 951.1C520.3 952.48 525.35 955.67 529.7 957.1C534.05 958.53 537.92 959.38 542.7 959.7C547.48 960.02 551.87 959.43 558.4 959C564.93 958.57 574.52 957.42 581.9 957.1C589.28 956.78 597.48 956.78 602.7 957.1C607.92 957.42 609.28 957.68 613.2 959C617.12 960.32 621.85 962.7 626.2 965C630.55 967.3 635.38 970.85 639.3 972.8C643.22 974.75 646.22 976.27 649.7 976.7C653.18 977.13 657.23 975.92 660.2 975.4C663.17 974.88 666.28 973.9 667.5 973.6" fill="none" stroke="#ff0000" stroke-width="3"/>
<path d="M105.5 980C111.25 979.93 128.58 979.77 140 979.6C151.42 979.43 165.67 979.53 174 979C182.33 978.47 185 977.07 190 976.4C195 975.73 200 975.4 204 975C208 974.6 210.67 975.17 214 974C217.33 972.83 220.67 971 224 968C227.33 965 230.67 960 234 956C237.33 952 241 947.17 244 944C247 940.83 249.33 938.5 252 937C254.67 935.5 257 935.23 260 935C263 934.77 267 936.1 270 935.6C273 935.1 275.33 934.93 278 932C280.67 929.07 283.33 923.67 286 918C288.67 912.33 291.33 905 294 898C296.67 891 299.33 882.67 302 876C304.67 869.33 307.33 862.83 310 858C312.67 853.17 315.83 849.17 318 847C320.17 844.83 321.33 845 323 845C324.67 845 325.83 844.67 328 847C330.17 849.33 333.33 853.5 336 859C338.67 864.5 341.33 872.17 344 880C346.67 887.83 349.33 896.67 352 906C354.67 915.33 357.58 927 360 936C362.42 945 364.75 953.92 366.5 960C368.25 966.08 369.33 969.42 370.5 972.5C371.67 975.58 372.5 978.33 373.5 978.5C374.5 978.67 375.42 975.33 376.5 973.5C377.58 971.67 378.4 969.48 380 967.5C381.6 965.52 383.87 963.02 386.1 961.6C388.33 960.18 390.78 958.88 393.4 959C396.02 959.12 399.1 961 401.8 962.3C404.5 963.6 407.43 965.92 409.6 966.8C411.77 967.68 412.63 968.12 414.8 967.6C416.97 967.08 419.98 965.23 422.6 963.7C425.22 962.17 427.45 959.72 430.5 958.4C433.55 957.08 437.63 955.58 440.9 955.8C444.17 956.02 447.05 957.52 450.1 959.7C453.15 961.88 456.55 966.02 459.2 968.9C461.85 971.78 464.27 975.02 466 977C467.73 978.98 468.43 980.72 469.6 980.8C470.77 980.88 471.68 978.83 473 977.5C474.32 976.17 475.02 975.33 477.5 972.8C479.98 970.27 484.43 964.78 487.9 962.3C491.37 959.82 495.25 958.72 498.3 957.9C501.35 957.08 503.15 957.1 506.2 957.4C509.25 957.7 512.68 958.65 516.6 959.7C520.52 960.75 525.35 962.82 529.7 963.7C534.05 964.58 538.35 965.23 542.7 965C547.05 964.77 551.45 963.3 555.8 962.3C560.15 961.3 564.45 959.87 568.8 959C573.15 958.13 577.55 957.2 581.9 957.1C586.25 957 590.55 957.53 594.9 958.4C599.25 959.27 603.65 960.98 608 962.3C612.35 963.62 616.65 964.77 621 966.3C625.35 967.83 630.18 969.98 634.1 971.5C638.02 973.02 641.47 974.45 644.5 975.4C647.53 976.35 649.68 977.07 652.3 977.2C654.92 977.33 657.67 976.72 660.2 976.2C662.73 975.68 666.28 974.45 667.5 974.1" fill="none" stroke="#0000ff" stroke-width="3"/>
</g>
<rect x="105.5" y="586" width="562" height="397.5" fill="none" stroke="#000" stroke-width="3"/>
<line x1="94" y1="983.5" x2="105.5" y2="983.5" stroke="#000" stroke-width="3" />
<text x="86.2" y="991.2" font-family='"Liberation Sans", sans-serif' font-size="25.6" text-anchor="end" fill="#000" stroke="#000" stroke-width="0.35" >0.00</text>
<line x1="99.3" y1="917.25" x2="105.5" y2="917.25" stroke="#000" stroke-width="3" />
<line x1="94" y1="851" x2="105.5" y2="851" stroke="#000" stroke-width="3" />
<text x="86.2" y="858.7" font-family='"Liberation Sans", sans-serif' font-size="25.6" text-anchor="end" fill="#000" stroke="#000" stroke-width="0.35" >0.02</text>
<line x1="99.3" y1="784.75" x2="105.5" y2="784.75" stroke="#000" stroke-width="3" />
<line x1="94" y1="718.5" x2="105.5" y2="718.5" stroke="#000" stroke-width="3" />
<text x="86.2" y="726.2" font-family='"Liberation Sans", sans-serif' font-size="25.6" text-anchor="end" fill="#000" stroke="#000" stroke-width="0.35" >0.04</text>
<line x1="99.3" y1="652.25" x2="105.5" y2="652.25" stroke="#000" stroke-width="3" />
<line x1="94" y1="586" x2="105.5" y2="586" stroke="#000" stroke-width="3" />
<text x="86.2" y="593.7" font-family='"Liberation Sans", sans-serif' font-size="25.6" text-anchor="end" fill="#000" stroke="#000" stroke-width="0.35" >0.06</text>
<line x1="105.5" y1="983.5" x2="105.5" y2="995.3" stroke="#000" stroke-width="3" />
<text x="105.3" y="1022.8" font-family='"Liberation Sans", sans-serif' font-size="25.6" text-anchor="middle" fill="#000" stroke="#000" stroke-width="0.35" >0</text>
<line x1="175.75" y1="983.5" x2="175.75" y2="989.7" stroke="#000" stroke-width="3" />
<line x1="246" y1="983.5" x2="246" y2="995.3" stroke="#000" stroke-width="3" />
<text x="245.8" y="1022.8" font-family='"Liberation Sans", sans-serif' font-size="25.6" text-anchor="middle" fill="#000" stroke="#000" stroke-width="0.35" >1</text>
<line x1="316.25" y1="983.5" x2="316.25" y2="989.7" stroke="#000" stroke-width="3" />
<line x1="386.5" y1="983.5" x2="386.5" y2="995.3" stroke="#000" stroke-width="3" />
<text x="386.3" y="1022.8" font-family='"Liberation Sans", sans-serif' font-size="25.6" text-anchor="middle" fill="#000" stroke="#000" stroke-width="0.35" >2</text>
<line x1="456.75" y1="983.5" x2="456.75" y2="989.7" stroke="#000" stroke-width="3" />
<line x1="527" y1="983.5" x2="527" y2="995.3" stroke="#000" stroke-width="3" />
<text x="526.8" y="1022.8" font-family='"Liberation Sans", sans-serif' font-size="25.6" text-anchor="middle" fill="#000" stroke="#000" stroke-width="0.35" >3</text>
<line x1="597.25" y1="983.5" x2="597.25" y2="989.7" stroke="#000" stroke-width="3" />
<line x1="667.5" y1="983.5" x2="667.5" y2="995.3" stroke="#000" stroke-width="3" />
<text x="667.3" y="1022.8" font-family='"Liberation Sans", sans-serif' font-size="25.6" text-anchor="middle" fill="#000" stroke="#000" stroke-width="0.35" >4</text>
<text x="2.6" y="578.4" font-family='"Liberation Sans", sans-serif' font-size="30.5" text-anchor="start" fill="#000" font-weight="bold" >b</text>
<text x="358" y="1070" font-family='"Liberation Sans", sans-serif' font-size="25.9" stroke="#000" stroke-width="0.35"><tspan font-style="italic">R</tspan> (&#197;)</text>
<text transform="translate(23.8,785) rotate(-90)" font-family='"Liberation Sans", sans-serif' font-size="25.9" text-anchor="middle" stroke="#000" stroke-width="0.35">|<tspan font-family='"Liberation Serif", serif' font-style="italic" font-size="27">&#967;</tspan>(<tspan font-style="italic">R</tspan>)| (&#197;<tspan font-size="16.2" dy="-10.8">-3</tspan><tspan dy="10.8" font-size="1">&#8203;</tspan>)</text>
<path d="M111.2 608.8 H169.6" fill="none" stroke="#ff0000" stroke-width="3" stroke-linecap="round"/>
<text x="176.6" y="617.9" font-family='"Liberation Sans", sans-serif' font-size="25.6" text-anchor="start" fill="#000" stroke="#000" stroke-width="0.35" >PdOAc/SiO<tspan font-size="17" dy="6.5">2</tspan><tspan dy="-6.5" font-size="1">&#8203;</tspan></text>
<path d="M111.2 647 H169.6" fill="none" stroke="#0000ff" stroke-width="3" stroke-linecap="round"/>
<text x="176.6" y="656.1" font-family='"Liberation Sans", sans-serif' font-size="25.6" text-anchor="start" fill="#000" stroke="#000" stroke-width="0.35" >PdOAc/KOAc/SiO<tspan font-size="17" dy="6.5">2</tspan><tspan dy="-6.5" font-size="1">&#8203;</tspan></text>
<path d="M109.8 684.5 H171" fill="none" stroke="#000000" stroke-width="3" stroke-dasharray="8.5 4.3"/>
<text x="176.6" y="693.6" font-family='"Liberation Sans", sans-serif' font-size="25.6" text-anchor="start" fill="#000" stroke="#000" stroke-width="0.35" >Pd foil</text>
<path d="M109.8 717.5 H171" fill="none" stroke="#008000" stroke-width="3" stroke-dasharray="8.5 4.3"/>
<text x="176.6" y="726.6" font-family='"Liberation Sans", sans-serif' font-size="25.6" text-anchor="start" fill="#000" stroke="#000" stroke-width="0.35" >PdO</text>
<path d="M109.8 749.5 H171" fill="none" stroke="#ff8000" stroke-width="3" stroke-dasharray="8.5 4.3"/>
<text x="176.6" y="758.6" font-family='"Liberation Sans", sans-serif' font-size="25.6" text-anchor="start" fill="#000" stroke="#000" stroke-width="0.35" >Pd(acac)<tspan font-size="17" dy="6.5">2</tspan><tspan dy="-6.5" font-size="1">&#8203;</tspan></text>
<clipPath id="cc"><rect x="836.8" y="23.2" width="663.2" height="397.1"/></clipPath>
<g clip-path="url(#cc)">
<path d="M836.8 384.37L837.8 384.37L838.8 384.37L839.8 384.37L840.8 384.37L841.8 384.37L842.8 384.37L843.8 384.37L844.8 384.37L845.8 384.37L846.8 384.37L847.8 384.37L848.8 384.37L849.8 384.37L850.8 384.37L851.8 384.37L852.8 384.37L853.8 384.37L854.8 384.37L855.8 384.37L856.8 384.37L857.8 384.37L858.8 384.37L859.8 384.37L860.8 384.37L861.8 384.37L862.8 384.37L863.8 384.37L864.8 384.37L865.8 384.36L866.8 384.36L867.8 384.36L868.8 384.36L869.8 384.36L870.8 384.36L871.8 384.36L872.8 384.36L873.8 384.36L874.8 384.36L875.8 384.36L876.8 384.36L877.8 384.36L878.8 384.36L879.8 384.36L880.8 384.36L881.8 384.36L882.8 384.36L883.8 384.36L884.8 384.36L885.8 384.36L886.8 384.36L887.8 384.36L888.8 384.36L889.8 384.36L890.8 384.36L891.8 384.36L892.8 384.36L893.8 384.36L894.8 384.36L895.8 384.36L896.8 384.35L897.8 384.35L898.8 384.35L899.8 384.35L900.8 384.35L901.8 384.35L902.8 384.35L903.8 384.35L904.8 384.35L905.8 384.35L906.8 384.35L907.8 384.35L908.8 384.35L909.8 384.35L910.8 384.35L911.8 384.35L912.8 384.35L913.8 384.35L914.8 384.35L915.8 384.35L916.8 384.35L917.8 384.35L918.8 384.34L919.8 384.34L920.8 384.34L921.8 384.34L922.8 384.34L923.8 384.34L924.8 384.34L925.8 384.34L926.8 384.34L927.8 384.34L928.8 384.34L929.8 384.34L930.8 384.34L931.8 384.34L932.8 384.34L933.8 384.34L934.8 384.34L935.8 384.33L936.8 384.33L937.8 384.33L938.8 384.33L939.8 384.33L940.8 384.33L941.8 384.33L942.8 384.33L943.8 384.33L944.8 384.33L945.8 384.33L946.8 384.33L947.8 384.33L948.8 384.32L949.8 384.32L950.8 384.32L951.8 384.32L952.8 384.32L953.8 384.32L954.8 384.32L955.8 384.32L956.8 384.32L957.8 384.32L958.8 384.32L959.8 384.31L960.8 384.31L961.8 384.31L962.8 384.31L963.8 384.31L964.8 384.31L965.8 384.31L966.8 384.31L967.8 384.31L968.8 384.3L969.8 384.3L970.8 384.3L971.8 384.3L972.8 384.3L973.8 384.3L974.8 384.3L975.8 384.29L976.8 384.29L977.8 384.29L978.8 384.29L979.8 384.29L980.8 384.29L981.8 384.29L982.8 384.28L983.8 384.28L984.8 384.28L985.8 384.28L986.8 384.28L987.8 384.28L988.8 384.27L989.8 384.27L990.8 384.27L991.8 384.27L992.8 384.27L993.8 384.26L994.8 384.26L995.8 384.26L996.8 384.26L997.8 384.26L998.8 384.25L999.8 384.25L1000.8 384.25L1001.8 384.25L1002.8 384.24L1003.8 384.24L1004.8 384.24L1005.8 384.24L1006.8 384.23L1007.8 384.23L1008.8 384.23L1009.8 384.22L1010.8 384.22L1011.8 384.22L1012.8 384.22L1013.8 384.21L1014.8 384.21L1015.8 384.2L1016.8 384.2L1017.8 384.2L1018.8 384.19L1019.8 384.19L1020.8 384.19L1021.8 384.18L1022.8 384.18L1023.8 384.17L1024.8 384.17L1025.8 384.16L1026.8 384.16L1027.8 384.15L1028.8 384.15L1029.8 384.14L1030.8 384.14L1031.8 384.13L1032.8 384.13L1033.8 384.12L1034.8 384.12L1035.8 384.11L1036.8 384.1L1037.8 384.1L1038.8 384.09L1039.8 384.08L1040.8 384.07L1041.8 384.07L1042.8 384.06L1043.8 384.05L1044.8 384.04L1045.8 384.03L1046.8 384.02L1047.8 384.01L1048.8 384L1049.8 383.99L1050.8 383.98L1051.8 383.97L1052.8 383.96L1053.8 383.95L1054.8 383.93L1055.8 383.92L1056.8 383.91L1057.8 383.89L1058.8 383.88L1059.8 383.86L1060.8 383.85L1061.8 383.83L1062.8 383.81L1063.8 383.79L1064.8 383.77L1065.8 383.75L1066.8 383.73L1067.8 383.71L1068.8 383.68L1069.8 383.66L1070.8 383.63L1071.8 383.6L1072.8 383.57L1073.8 383.54L1074.8 383.51L1075.8 383.47L1076.8 383.43L1077.8 383.39L1078.8 383.35L1079.8 383.31L1080.8 383.26L1081.8 383.21L1082.8 383.15L1083.8 383.1L1084.8 383.03L1085.8 382.97L1086.8 382.9L1087.8 382.82L1088.8 382.73L1089.8 382.65L1090.8 382.55L1091.8 382.44L1092.8 382.33L1093.8 382.2L1094.8 382.07L1095.8 381.91L1096.8 381.75L1097.8 381.56L1098.8 381.36L1099.8 381.12L1100.8 380.84L1101.8 380.5L1102.8 380.09L1103.8 379.56L1104.8 378.86L1105.8 377.91L1106.8 376.61L1107.8 374.81L1108.8 372.33L1109.8 368.93L1110.8 364.34L1111.8 358.25L1112.8 350.35L1113.8 340.33L1114.8 327.97L1115.8 313.13L1116.8 295.85L1117.8 276.38L1118.8 255.18L1119.8 232.98L1120.8 210.75L1121.8 189.69L1122.8 171.15L1123.8 156.54L1124.8 147.15L1125.8 143.9L1126.8 147.15L1127.8 156.54L1128.8 171.15L1129.8 189.69L1130.8 210.75L1131.8 232.98L1132.8 255.18L1133.8 276.38L1134.8 295.85L1135.8 313.13L1136.8 327.97L1137.8 340.33L1138.8 350.35L1139.8 358.25L1140.8 364.34L1141.8 368.93L1142.8 372.33L1143.8 374.81L1144.8 376.61L1145.8 377.91L1146.8 378.86L1147.8 379.56L1148.8 380.09L1149.8 380.5L1150.8 380.84L1151.8 381.12L1152.8 381.36L1153.8 381.56L1154.8 381.75L1155.8 381.91L1156.8 382.07L1157.8 382.2L1158.8 382.33L1159.8 382.44L1160.8 382.55L1161.8 382.65L1162.8 382.73L1163.8 382.82L1164.8 382.9L1165.8 382.97L1166.8 383.03L1167.8 383.1L1168.8 383.15L1169.8 383.21L1170.8 383.26L1171.8 383.31L1172.8 383.35L1173.8 383.39L1174.8 383.43L1175.8 383.47L1176.8 383.51L1177.8 383.54L1178.8 383.57L1179.8 383.6L1180.8 383.63L1181.8 383.66L1182.8 383.68L1183.8 383.71L1184.8 383.73L1185.8 383.75L1186.8 383.77L1187.8 383.79L1188.8 383.81L1189.8 383.83L1190.8 383.85L1191.8 383.86L1192.8 383.88L1193.8 383.89L1194.8 383.91L1195.8 383.92L1196.8 383.93L1197.8 383.95L1198.8 383.96L1199.8 383.97L1200.8 383.98L1201.8 383.99L1202.8 384L1203.8 384.01L1204.8 384.02L1205.8 384.03L1206.8 384.04L1207.8 384.05L1208.8 384.06L1209.8 384.07L1210.8 384.07L1211.8 384.08L1212.8 384.09L1213.8 384.1L1214.8 384.1L1215.8 384.11L1216.8 384.12L1217.8 384.12L1218.8 384.13L1219.8 384.13L1220.8 384.14L1221.8 384.14L1222.8 384.15L1223.8 384.15L1224.8 384.16L1225.8 384.16L1226.8 384.17L1227.8 384.17L1228.8 384.18L1229.8 384.18L1230.8 384.19L1231.8 384.19L1232.8 384.19L1233.8 384.2L1234.8 384.2L1235.8 384.2L1236.8 384.21L1237.8 384.21L1238.8 384.22L1239.8 384.22L1240.8 384.22L1241.8 384.22L1242.8 384.23L1243.8 384.23L1244.8 384.23L1245.8 384.24L1246.8 384.24L1247.8 384.24L1248.8 384.24L1249.8 384.25L1250.8 384.25L1251.8 384.25L1252.8 384.25L1253.8 384.26L1254.8 384.26L1255.8 384.26L1256.8 384.26L1257.8 384.26L1258.8 384.27L1259.8 384.27L1260.8 384.27L1261.8 384.27L1262.8 384.27L1263.8 384.28L1264.8 384.28L1265.8 384.28L1266.8 384.28L1267.8 384.28L1268.8 384.28L1269.8 384.29L1270.8 384.29L1271.8 384.29L1272.8 384.29L1273.8 384.29L1274.8 384.29L1275.8 384.29L1276.8 384.3L1277.8 384.3L1278.8 384.3L1279.8 384.3L1280.8 384.3L1281.8 384.3L1282.8 384.3L1283.8 384.31L1284.8 384.31L1285.8 384.31L1286.8 384.31L1287.8 384.31L1288.8 384.31L1289.8 384.31L1290.8 384.31L1291.8 384.31L1292.8 384.32L1293.8 384.32L1294.8 384.32L1295.8 384.32L1296.8 384.32L1297.8 384.32L1298.8 384.32L1299.8 384.32L1300.8 384.32L1301.8 384.32L1302.8 384.32L1303.8 384.33L1304.8 384.33L1305.8 384.33L1306.8 384.33L1307.8 384.33L1308.8 384.33L1309.8 384.33L1310.8 384.33L1311.8 384.33L1312.8 384.33L1313.8 384.33L1314.8 384.33L1315.8 384.33L1316.8 384.34L1317.8 384.34L1318.8 384.34L1319.8 384.34L1320.8 384.34L1321.8 384.34L1322.8 384.34L1323.8 384.34L1324.8 384.34L1325.8 384.34L1326.8 384.34L1327.8 384.34L1328.8 384.34L1329.8 384.34L1330.8 384.34L1331.8 384.34L1332.8 384.34L1333.8 384.35L1334.8 384.35L1335.8 384.35L1336.8 384.35L1337.8 384.35L1338.8 384.35L1339.8 384.35L1340.8 384.35L1341.8 384.35L1342.8 384.35L1343.8 384.35L1344.8 384.35L1345.8 384.35L1346.8 384.35L1347.8 384.35L1348.8 384.35L1349.8 384.35L1350.8 384.35L1351.8 384.35L1352.8 384.35L1353.8 384.35L1354.8 384.35L1355.8 384.36L1356.8 384.36L1357.8 384.36L1358.8 384.36L1359.8 384.36L1360.8 384.36L1361.8 384.36L1362.8 384.36L1363.8 384.36L1364.8 384.36L1365.8 384.36L1366.8 384.36L1367.8 384.36L1368.8 384.36L1369.8 384.36L1370.8 384.36L1371.8 384.36L1372.8 384.36L1373.8 384.36L1374.8 384.36L1375.8 384.36L1376.8 384.36L1377.8 384.36L1378.8 384.36L1379.8 384.36L1380.8 384.36L1381.8 384.36L1382.8 384.36L1383.8 384.36L1384.8 384.36L1385.8 384.36L1386.8 384.37L1387.8 384.37L1388.8 384.37L1389.8 384.37L1390.8 384.37L1391.8 384.37L1392.8 384.37L1393.8 384.37L1394.8 384.37L1395.8 384.37L1396.8 384.37L1397.8 384.37L1398.8 384.37L1399.8 384.37L1400.8 384.37L1401.8 384.37L1402.8 384.37L1403.8 384.37L1404.8 384.37L1405.8 384.37L1406.8 384.37L1407.8 384.37L1408.8 384.37L1409.8 384.37L1410.8 384.37L1411.8 384.37L1412.8 384.37L1413.8 384.37L1414.8 384.37L1415.8 384.37L1416.8 384.37L1417.8 384.37L1418.8 384.37L1419.8 384.37L1420.8 384.37L1421.8 384.37L1422.8 384.37L1423.8 384.37L1424.8 384.37L1425.8 384.37L1426.8 384.37L1427.8 384.37L1428.8 384.37L1429.8 384.37L1430.8 384.37L1431.8 384.37L1432.8 384.37L1433.8 384.38L1434.8 384.38L1435.8 384.38L1436.8 384.38L1437.8 384.38L1438.8 384.38L1439.8 384.38L1440.8 384.38L1441.8 384.38L1442.8 384.38L1443.8 384.38L1444.8 384.38L1445.8 384.38L1446.8 384.38L1447.8 384.38L1448.8 384.38L1449.8 384.38L1450.8 384.38L1451.8 384.38L1452.8 384.38L1453.8 384.38L1454.8 384.38L1455.8 384.38L1456.8 384.38L1457.8 384.38L1458.8 384.38L1459.8 384.38L1460.8 384.38L1461.8 384.38L1462.8 384.38L1463.8 384.38L1464.8 384.38L1465.8 384.38L1466.8 384.38L1467.8 384.38L1468.8 384.38L1469.8 384.38L1470.8 384.38L1471.8 384.38L1472.8 384.38L1473.8 384.38L1474.8 384.38L1475.8 384.38L1476.8 384.38L1477.8 384.38L1478.8 384.38L1479.8 384.38L1480.8 384.38L1481.8 384.38L1482.8 384.38L1483.8 384.38L1484.8 384.38L1485.8 384.38L1486.8 384.38L1487.8 384.38L1488.8 384.38L1489.8 384.38L1490.8 384.38L1491.8 384.38L1492.8 384.38L1493.8 384.38L1494.8 384.38L1495.8 384.38L1496.8 384.38L1497.8 384.38L1498.8 384.38L1499.8 384.38 L1500 384.4 L836.8 384.4 Z" fill="#800080" fill-opacity="0.4" stroke="none"/>
<path d="M836.8 384.37L837.8 384.37L838.8 384.37L839.8 384.37L840.8 384.37L841.8 384.37L842.8 384.37L843.8 384.37L844.8 384.37L845.8 384.37L846.8 384.37L847.8 384.37L848.8 384.37L849.8 384.37L850.8 384.37L851.8 384.37L852.8 384.37L853.8 384.37L854.8 384.37L855.8 384.37L856.8 384.37L857.8 384.37L858.8 384.37L859.8 384.37L860.8 384.37L861.8 384.37L862.8 384.37L863.8 384.37L864.8 384.37L865.8 384.36L866.8 384.36L867.8 384.36L868.8 384.36L869.8 384.36L870.8 384.36L871.8 384.36L872.8 384.36L873.8 384.36L874.8 384.36L875.8 384.36L876.8 384.36L877.8 384.36L878.8 384.36L879.8 384.36L880.8 384.36L881.8 384.36L882.8 384.36L883.8 384.36L884.8 384.36L885.8 384.36L886.8 384.36L887.8 384.36L888.8 384.36L889.8 384.36L890.8 384.36L891.8 384.36L892.8 384.36L893.8 384.36L894.8 384.36L895.8 384.36L896.8 384.35L897.8 384.35L898.8 384.35L899.8 384.35L900.8 384.35L901.8 384.35L902.8 384.35L903.8 384.35L904.8 384.35L905.8 384.35L906.8 384.35L907.8 384.35L908.8 384.35L909.8 384.35L910.8 384.35L911.8 384.35L912.8 384.35L913.8 384.35L914.8 384.35L915.8 384.35L916.8 384.35L917.8 384.35L918.8 384.34L919.8 384.34L920.8 384.34L921.8 384.34L922.8 384.34L923.8 384.34L924.8 384.34L925.8 384.34L926.8 384.34L927.8 384.34L928.8 384.34L929.8 384.34L930.8 384.34L931.8 384.34L932.8 384.34L933.8 384.34L934.8 384.34L935.8 384.33L936.8 384.33L937.8 384.33L938.8 384.33L939.8 384.33L940.8 384.33L941.8 384.33L942.8 384.33L943.8 384.33L944.8 384.33L945.8 384.33L946.8 384.33L947.8 384.33L948.8 384.32L949.8 384.32L950.8 384.32L951.8 384.32L952.8 384.32L953.8 384.32L954.8 384.32L955.8 384.32L956.8 384.32L957.8 384.32L958.8 384.32L959.8 384.31L960.8 384.31L961.8 384.31L962.8 384.31L963.8 384.31L964.8 384.31L965.8 384.31L966.8 384.31L967.8 384.31L968.8 384.3L969.8 384.3L970.8 384.3L971.8 384.3L972.8 384.3L973.8 384.3L974.8 384.3L975.8 384.29L976.8 384.29L977.8 384.29L978.8 384.29L979.8 384.29L980.8 384.29L981.8 384.29L982.8 384.28L983.8 384.28L984.8 384.28L985.8 384.28L986.8 384.28L987.8 384.28L988.8 384.27L989.8 384.27L990.8 384.27L991.8 384.27L992.8 384.27L993.8 384.26L994.8 384.26L995.8 384.26L996.8 384.26L997.8 384.26L998.8 384.25L999.8 384.25L1000.8 384.25L1001.8 384.25L1002.8 384.24L1003.8 384.24L1004.8 384.24L1005.8 384.24L1006.8 384.23L1007.8 384.23L1008.8 384.23L1009.8 384.22L1010.8 384.22L1011.8 384.22L1012.8 384.22L1013.8 384.21L1014.8 384.21L1015.8 384.2L1016.8 384.2L1017.8 384.2L1018.8 384.19L1019.8 384.19L1020.8 384.19L1021.8 384.18L1022.8 384.18L1023.8 384.17L1024.8 384.17L1025.8 384.16L1026.8 384.16L1027.8 384.15L1028.8 384.15L1029.8 384.14L1030.8 384.14L1031.8 384.13L1032.8 384.13L1033.8 384.12L1034.8 384.12L1035.8 384.11L1036.8 384.1L1037.8 384.1L1038.8 384.09L1039.8 384.08L1040.8 384.07L1041.8 384.07L1042.8 384.06L1043.8 384.05L1044.8 384.04L1045.8 384.03L1046.8 384.02L1047.8 384.01L1048.8 384L1049.8 383.99L1050.8 383.98L1051.8 383.97L1052.8 383.96L1053.8 383.95L1054.8 383.93L1055.8 383.92L1056.8 383.91L1057.8 383.89L1058.8 383.88L1059.8 383.86L1060.8 383.85L1061.8 383.83L1062.8 383.81L1063.8 383.79L1064.8 383.77L1065.8 383.75L1066.8 383.73L1067.8 383.71L1068.8 383.68L1069.8 383.66L1070.8 383.63L1071.8 383.6L1072.8 383.57L1073.8 383.54L1074.8 383.51L1075.8 383.47L1076.8 383.43L1077.8 383.39L1078.8 383.35L1079.8 383.31L1080.8 383.26L1081.8 383.21L1082.8 383.15L1083.8 383.1L1084.8 383.03L1085.8 382.97L1086.8 382.9L1087.8 382.82L1088.8 382.73L1089.8 382.65L1090.8 382.55L1091.8 382.44L1092.8 382.33L1093.8 382.2L1094.8 382.07L1095.8 381.91L1096.8 381.75L1097.8 381.56L1098.8 381.36L1099.8 381.12L1100.8 380.84L1101.8 380.5L1102.8 380.09L1103.8 379.56L1104.8 378.86L1105.8 377.91L1106.8 376.61L1107.8 374.81L1108.8 372.33L1109.8 368.93L1110.8 364.34L1111.8 358.25L1112.8 350.35L1113.8 340.33L1114.8 327.97L1115.8 313.13L1116.8 295.85L1117.8 276.38L1118.8 255.18L1119.8 232.98L1120.8 210.75L1121.8 189.69L1122.8 171.15L1123.8 156.54L1124.8 147.15L1125.8 143.9L1126.8 147.15L1127.8 156.54L1128.8 171.15L1129.8 189.69L1130.8 210.75L1131.8 232.98L1132.8 255.18L1133.8 276.38L1134.8 295.85L1135.8 313.13L1136.8 327.97L1137.8 340.33L1138.8 350.35L1139.8 358.25L1140.8 364.34L1141.8 368.93L1142.8 372.33L1143.8 374.81L1144.8 376.61L1145.8 377.91L1146.8 378.86L1147.8 379.56L1148.8 380.09L1149.8 380.5L1150.8 380.84L1151.8 381.12L1152.8 381.36L1153.8 381.56L1154.8 381.75L1155.8 381.91L1156.8 382.07L1157.8 382.2L1158.8 382.33L1159.8 382.44L1160.8 382.55L1161.8 382.65L1162.8 382.73L1163.8 382.82L1164.8 382.9L1165.8 382.97L1166.8 383.03L1167.8 383.1L1168.8 383.15L1169.8 383.21L1170.8 383.26L1171.8 383.31L1172.8 383.35L1173.8 383.39L1174.8 383.43L1175.8 383.47L1176.8 383.51L1177.8 383.54L1178.8 383.57L1179.8 383.6L1180.8 383.63L1181.8 383.66L1182.8 383.68L1183.8 383.71L1184.8 383.73L1185.8 383.75L1186.8 383.77L1187.8 383.79L1188.8 383.81L1189.8 383.83L1190.8 383.85L1191.8 383.86L1192.8 383.88L1193.8 383.89L1194.8 383.91L1195.8 383.92L1196.8 383.93L1197.8 383.95L1198.8 383.96L1199.8 383.97L1200.8 383.98L1201.8 383.99L1202.8 384L1203.8 384.01L1204.8 384.02L1205.8 384.03L1206.8 384.04L1207.8 384.05L1208.8 384.06L1209.8 384.07L1210.8 384.07L1211.8 384.08L1212.8 384.09L1213.8 384.1L1214.8 384.1L1215.8 384.11L1216.8 384.12L1217.8 384.12L1218.8 384.13L1219.8 384.13L1220.8 384.14L1221.8 384.14L1222.8 384.15L1223.8 384.15L1224.8 384.16L1225.8 384.16L1226.8 384.17L1227.8 384.17L1228.8 384.18L1229.8 384.18L1230.8 384.19L1231.8 384.19L1232.8 384.19L1233.8 384.2L1234.8 384.2L1235.8 384.2L1236.8 384.21L1237.8 384.21L1238.8 384.22L1239.8 384.22L1240.8 384.22L1241.8 384.22L1242.8 384.23L1243.8 384.23L1244.8 384.23L1245.8 384.24L1246.8 384.24L1247.8 384.24L1248.8 384.24L1249.8 384.25L1250.8 384.25L1251.8 384.25L1252.8 384.25L1253.8 384.26L1254.8 384.26L1255.8 384.26L1256.8 384.26L1257.8 384.26L1258.8 384.27L1259.8 384.27L1260.8 384.27L1261.8 384.27L1262.8 384.27L1263.8 384.28L1264.8 384.28L1265.8 384.28L1266.8 384.28L1267.8 384.28L1268.8 384.28L1269.8 384.29L1270.8 384.29L1271.8 384.29L1272.8 384.29L1273.8 384.29L1274.8 384.29L1275.8 384.29L1276.8 384.3L1277.8 384.3L1278.8 384.3L1279.8 384.3L1280.8 384.3L1281.8 384.3L1282.8 384.3L1283.8 384.31L1284.8 384.31L1285.8 384.31L1286.8 384.31L1287.8 384.31L1288.8 384.31L1289.8 384.31L1290.8 384.31L1291.8 384.31L1292.8 384.32L1293.8 384.32L1294.8 384.32L1295.8 384.32L1296.8 384.32L1297.8 384.32L1298.8 384.32L1299.8 384.32L1300.8 384.32L1301.8 384.32L1302.8 384.32L1303.8 384.33L1304.8 384.33L1305.8 384.33L1306.8 384.33L1307.8 384.33L1308.8 384.33L1309.8 384.33L1310.8 384.33L1311.8 384.33L1312.8 384.33L1313.8 384.33L1314.8 384.33L1315.8 384.33L1316.8 384.34L1317.8 384.34L1318.8 384.34L1319.8 384.34L1320.8 384.34L1321.8 384.34L1322.8 384.34L1323.8 384.34L1324.8 384.34L1325.8 384.34L1326.8 384.34L1327.8 384.34L1328.8 384.34L1329.8 384.34L1330.8 384.34L1331.8 384.34L1332.8 384.34L1333.8 384.35L1334.8 384.35L1335.8 384.35L1336.8 384.35L1337.8 384.35L1338.8 384.35L1339.8 384.35L1340.8 384.35L1341.8 384.35L1342.8 384.35L1343.8 384.35L1344.8 384.35L1345.8 384.35L1346.8 384.35L1347.8 384.35L1348.8 384.35L1349.8 384.35L1350.8 384.35L1351.8 384.35L1352.8 384.35L1353.8 384.35L1354.8 384.35L1355.8 384.36L1356.8 384.36L1357.8 384.36L1358.8 384.36L1359.8 384.36L1360.8 384.36L1361.8 384.36L1362.8 384.36L1363.8 384.36L1364.8 384.36L1365.8 384.36L1366.8 384.36L1367.8 384.36L1368.8 384.36L1369.8 384.36L1370.8 384.36L1371.8 384.36L1372.8 384.36L1373.8 384.36L1374.8 384.36L1375.8 384.36L1376.8 384.36L1377.8 384.36L1378.8 384.36L1379.8 384.36L1380.8 384.36L1381.8 384.36L1382.8 384.36L1383.8 384.36L1384.8 384.36L1385.8 384.36L1386.8 384.37L1387.8 384.37L1388.8 384.37L1389.8 384.37L1390.8 384.37L1391.8 384.37L1392.8 384.37L1393.8 384.37L1394.8 384.37L1395.8 384.37L1396.8 384.37L1397.8 384.37L1398.8 384.37L1399.8 384.37L1400.8 384.37L1401.8 384.37L1402.8 384.37L1403.8 384.37L1404.8 384.37L1405.8 384.37L1406.8 384.37L1407.8 384.37L1408.8 384.37L1409.8 384.37L1410.8 384.37L1411.8 384.37L1412.8 384.37L1413.8 384.37L1414.8 384.37L1415.8 384.37L1416.8 384.37L1417.8 384.37L1418.8 384.37L1419.8 384.37L1420.8 384.37L1421.8 384.37L1422.8 384.37L1423.8 384.37L1424.8 384.37L1425.8 384.37L1426.8 384.37L1427.8 384.37L1428.8 384.37L1429.8 384.37L1430.8 384.37L1431.8 384.37L1432.8 384.37L1433.8 384.38L1434.8 384.38L1435.8 384.38L1436.8 384.38L1437.8 384.38L1438.8 384.38L1439.8 384.38L1440.8 384.38L1441.8 384.38L1442.8 384.38L1443.8 384.38L1444.8 384.38L1445.8 384.38L1446.8 384.38L1447.8 384.38L1448.8 384.38L1449.8 384.38L1450.8 384.38L1451.8 384.38L1452.8 384.38L1453.8 384.38L1454.8 384.38L1455.8 384.38L1456.8 384.38L1457.8 384.38L1458.8 384.38L1459.8 384.38L1460.8 384.38L1461.8 384.38L1462.8 384.38L1463.8 384.38L1464.8 384.38L1465.8 384.38L1466.8 384.38L1467.8 384.38L1468.8 384.38L1469.8 384.38L1470.8 384.38L1471.8 384.38L1472.8 384.38L1473.8 384.38L1474.8 384.38L1475.8 384.38L1476.8 384.38L1477.8 384.38L1478.8 384.38L1479.8 384.38L1480.8 384.38L1481.8 384.38L1482.8 384.38L1483.8 384.38L1484.8 384.38L1485.8 384.38L1486.8 384.38L1487.8 384.38L1488.8 384.38L1489.8 384.38L1490.8 384.38L1491.8 384.38L1492.8 384.38L1493.8 384.38L1494.8 384.38L1495.8 384.38L1496.8 384.38L1497.8 384.38L1498.8 384.38L1499.8 384.38" fill="none" stroke="#800080" stroke-width="2.8"/>
<path d="M836.8 384.4L837.8 384.4L838.8 384.4L839.8 384.4L840.8 384.4L841.8 384.4L842.8 384.4L843.8 384.4L844.8 384.4L845.8 384.4L846.8 384.4L847.8 384.4L848.8 384.4L849.8 384.4L850.8 384.4L851.8 384.4L852.8 384.4L853.8 384.4L854.8 384.4L855.8 384.4L856.8 384.4L857.8 384.4L858.8 384.4L859.8 384.4L860.8 384.4L861.8 384.4L862.8 384.4L863.8 384.4L864.8 384.4L865.8 384.4L866.8 384.4L867.8 384.4L868.8 384.4L869.8 384.4L870.8 384.4L871.8 384.4L872.8 384.4L873.8 384.4L874.8 384.4L875.8 384.4L876.8 384.4L877.8 384.4L878.8 384.4L879.8 384.4L880.8 384.4L881.8 384.4L882.8 384.4L883.8 384.4L884.8 384.4L885.8 384.4L886.8 384.4L887.8 384.4L888.8 384.4L889.8 384.4L890.8 384.4L891.8 384.4L892.8 384.4L893.8 384.4L894.8 384.4L895.8 384.4L896.8 384.4L897.8 384.4L898.8 384.4L899.8 384.4L900.8 384.4L901.8 384.4L902.8 384.4L903.8 384.4L904.8 384.4L905.8 384.4L906.8 384.4L907.8 384.4L908.8 384.4L909.8 384.4L910.8 384.4L911.8 384.4L912.8 384.4L913.8 384.4L914.8 384.4L915.8 384.4L916.8 384.4L917.8 384.4L918.8 384.4L919.8 384.4L920.8 384.4L921.8 384.4L922.8 384.4L923.8 384.4L924.8 384.4L925.8 384.4L926.8 384.4L927.8 384.4L928.8 384.4L929.8 384.4L930.8 384.4L931.8 384.4L932.8 384.4L933.8 384.4L934.8 384.4L935.8 384.4L936.8 384.4L937.8 384.4L938.8 384.4L939.8 384.4L940.8 384.4L941.8 384.4L942.8 384.4L943.8 384.4L944.8 384.4L945.8 384.4L946.8 384.4L947.8 384.4L948.8 384.4L949.8 384.4L950.8 384.4L951.8 384.4L952.8 384.4L953.8 384.4L954.8 384.4L955.8 384.4L956.8 384.4L957.8 384.4L958.8 384.4L959.8 384.4L960.8 384.4L961.8 384.4L962.8 384.4L963.8 384.4L964.8 384.4L965.8 384.4L966.8 384.4L967.8 384.4L968.8 384.4L969.8 384.4L970.8 384.4L971.8 384.4L972.8 384.4L973.8 384.4L974.8 384.4L975.8 384.4L976.8 384.4L977.8 384.4L978.8 384.4L979.8 384.4L980.8 384.4L981.8 384.4L982.8 384.4L983.8 384.4L984.8 384.4L985.8 384.4L986.8 384.4L987.8 384.4L988.8 384.4L989.8 384.4L990.8 384.4L991.8 384.4L992.8 384.4L993.8 384.4L994.8 384.4L995.8 384.4L996.8 384.4L997.8 384.4L998.8 384.4L999.8 384.4L1000.8 384.4L1001.8 384.4L1002.8 384.4L1003.8 384.4L1004.8 384.4L1005.8 384.4L1006.8 384.4L1007.8 384.4L1008.8 384.4L1009.8 384.4L1010.8 384.4L1011.8 384.4L1012.8 384.4L1013.8 384.4L1014.8 384.4L1015.8 384.4L1016.8 384.4L1017.8 384.4L1018.8 384.4L1019.8 384.4L1020.8 384.4L1021.8 384.4L1022.8 384.4L1023.8 384.4L1024.8 384.4L1025.8 384.4L1026.8 384.4L1027.8 384.4L1028.8 384.4L1029.8 384.4L1030.8 384.4L1031.8 384.4L1032.8 384.4L1033.8 384.4L1034.8 384.4L1035.8 384.4L1036.8 384.4L1037.8 384.4L1038.8 384.4L1039.8 384.4L1040.8 384.4L1041.8 384.4L1042.8 384.4L1043.8 384.4L1044.8 384.4L1045.8 384.4L1046.8 384.4L1047.8 384.4L1048.8 384.4L1049.8 384.4L1050.8 384.4L1051.8 384.4L1052.8 384.4L1053.8 384.4L1054.8 384.4L1055.8 384.4L1056.8 384.4L1057.8 384.4L1058.8 384.4L1059.8 384.4L1060.8 384.4L1061.8 384.4L1062.8 384.4L1063.8 384.4L1064.8 384.4L1065.8 384.4L1066.8 384.4L1067.8 384.4L1068.8 384.4L1069.8 384.4L1070.8 384.4L1071.8 384.4L1072.8 384.4L1073.8 384.4L1074.8 384.4L1075.8 384.4L1076.8 384.4L1077.8 384.4L1078.8 384.4L1079.8 384.4L1080.8 384.4L1081.8 384.4L1082.8 384.4L1083.8 384.4L1084.8 384.4L1085.8 384.4L1086.8 384.4L1087.8 384.4L1088.8 384.4L1089.8 384.4L1090.8 384.4L1091.8 384.4L1092.8 384.4L1093.8 384.4L1094.8 384.4L1095.8 384.4L1096.8 384.4L1097.8 384.4L1098.8 384.39L1099.8 384.39L1100.8 384.39L1101.8 384.38L1102.8 384.37L1103.8 384.36L1104.8 384.34L1105.8 384.32L1106.8 384.28L1107.8 384.23L1108.8 384.17L1109.8 384.08L1110.8 383.97L1111.8 383.81L1112.8 383.61L1113.8 383.35L1114.8 383.01L1115.8 382.57L1116.8 382.02L1117.8 381.31L1118.8 380.43L1119.8 379.33L1120.8 377.98L1121.8 376.33L1122.8 374.33L1123.8 371.93L1124.8 369.07L1125.8 365.69L1126.8 361.74L1127.8 357.15L1128.8 351.88L1129.8 345.87L1130.8 339.1L1131.8 331.52L1132.8 323.14L1133.8 313.96L1134.8 303.99L1135.8 293.3L1136.8 281.95L1137.8 270.04L1138.8 257.69L1139.8 245.04L1140.8 232.27L1141.8 219.56L1142.8 207.1L1143.8 195.12L1144.8 183.82L1145.8 173.43L1146.8 164.13L1147.8 156.13L1148.8 149.6L1149.8 144.66L1150.8 141.43L1151.8 139.98L1152.8 140.34L1153.8 142.51L1154.8 146.43L1155.8 152.03L1156.8 159.17L1157.8 167.71L1158.8 177.46L1159.8 188.25L1160.8 199.84L1161.8 212.04L1162.8 224.62L1163.8 237.38L1164.8 250.12L1165.8 262.67L1166.8 274.86L1167.8 286.56L1168.8 297.66L1169.8 308.07L1170.8 317.72L1171.8 326.59L1172.8 334.65L1173.8 341.9L1174.8 348.36L1175.8 354.07L1176.8 359.06L1177.8 363.39L1178.8 367.11L1179.8 370.27L1180.8 372.94L1181.8 375.18L1182.8 377.03L1183.8 378.56L1184.8 379.8L1185.8 380.81L1186.8 381.61L1187.8 382.25L1188.8 382.76L1189.8 383.16L1190.8 383.46L1191.8 383.7L1192.8 383.88L1193.8 384.02L1194.8 384.12L1195.8 384.2L1196.8 384.25L1197.8 384.3L1198.8 384.33L1199.8 384.35L1200.8 384.36L1201.8 384.37L1202.8 384.38L1203.8 384.39L1204.8 384.39L1205.8 384.39L1206.8 384.4L1207.8 384.4L1208.8 384.4L1209.8 384.4L1210.8 384.4L1211.8 384.4L1212.8 384.4L1213.8 384.4L1214.8 384.4L1215.8 384.4L1216.8 384.4L1217.8 384.4L1218.8 384.4L1219.8 384.4L1220.8 384.4L1221.8 384.4L1222.8 384.4L1223.8 384.4L1224.8 384.4L1225.8 384.4L1226.8 384.4L1227.8 384.4L1228.8 384.4L1229.8 384.4L1230.8 384.4L1231.8 384.4L1232.8 384.4L1233.8 384.4L1234.8 384.4L1235.8 384.4L1236.8 384.4L1237.8 384.4L1238.8 384.4L1239.8 384.4L1240.8 384.4L1241.8 384.4L1242.8 384.4L1243.8 384.4L1244.8 384.4L1245.8 384.4L1246.8 384.4L1247.8 384.4L1248.8 384.4L1249.8 384.4L1250.8 384.4L1251.8 384.4L1252.8 384.4L1253.8 384.4L1254.8 384.4L1255.8 384.4L1256.8 384.4L1257.8 384.4L1258.8 384.4L1259.8 384.4L1260.8 384.4L1261.8 384.4L1262.8 384.4L1263.8 384.4L1264.8 384.4L1265.8 384.4L1266.8 384.4L1267.8 384.4L1268.8 384.4L1269.8 384.4L1270.8 384.4L1271.8 384.4L1272.8 384.4L1273.8 384.4L1274.8 384.4L1275.8 384.4L1276.8 384.4L1277.8 384.4L1278.8 384.4L1279.8 384.4L1280.8 384.4L1281.8 384.4L1282.8 384.4L1283.8 384.4L1284.8 384.4L1285.8 384.4L1286.8 384.4L1287.8 384.4L1288.8 384.4L1289.8 384.4L1290.8 384.4L1291.8 384.4L1292.8 384.4L1293.8 384.4L1294.8 384.4L1295.8 384.4L1296.8 384.4L1297.8 384.4L1298.8 384.4L1299.8 384.4L1300.8 384.4L1301.8 384.4L1302.8 384.4L1303.8 384.4L1304.8 384.4L1305.8 384.4L1306.8 384.4L1307.8 384.4L1308.8 384.4L1309.8 384.4L1310.8 384.4L1311.8 384.4L1312.8 384.4L1313.8 384.4L1314.8 384.4L1315.8 384.4L1316.8 384.4L1317.8 384.4L1318.8 384.4L1319.8 384.4L1320.8 384.4L1321.8 384.4L1322.8 384.4L1323.8 384.4L1324.8 384.4L1325.8 384.4L1326.8 384.4L1327.8 384.4L1328.8 384.4L1329.8 384.4L1330.8 384.4L1331.8 384.4L1332.8 384.4L1333.8 384.4L1334.8 384.4L1335.8 384.4L1336.8 384.4L1337.8 384.4L1338.8 384.4L1339.8 384.4L1340.8 384.4L1341.8 384.4L1342.8 384.4L1343.8 384.4L1344.8 384.4L1345.8 384.4L1346.8 384.4L1347.8 384.4L1348.8 384.4L1349.8 384.4L1350.8 384.4L1351.8 384.4L1352.8 384.4L1353.8 384.4L1354.8 384.4L1355.8 384.4L1356.8 384.4L1357.8 384.4L1358.8 384.4L1359.8 384.4L1360.8 384.4L1361.8 384.4L1362.8 384.4L1363.8 384.4L1364.8 384.4L1365.8 384.4L1366.8 384.4L1367.8 384.4L1368.8 384.4L1369.8 384.4L1370.8 384.4L1371.8 384.4L1372.8 384.4L1373.8 384.4L1374.8 384.4L1375.8 384.4L1376.8 384.4L1377.8 384.4L1378.8 384.4L1379.8 384.4L1380.8 384.4L1381.8 384.4L1382.8 384.4L1383.8 384.4L1384.8 384.4L1385.8 384.4L1386.8 384.4L1387.8 384.4L1388.8 384.4L1389.8 384.4L1390.8 384.4L1391.8 384.4L1392.8 384.4L1393.8 384.4L1394.8 384.4L1395.8 384.4L1396.8 384.4L1397.8 384.4L1398.8 384.4L1399.8 384.4L1400.8 384.4L1401.8 384.4L1402.8 384.4L1403.8 384.4L1404.8 384.4L1405.8 384.4L1406.8 384.4L1407.8 384.4L1408.8 384.4L1409.8 384.4L1410.8 384.4L1411.8 384.4L1412.8 384.4L1413.8 384.4L1414.8 384.4L1415.8 384.4L1416.8 384.4L1417.8 384.4L1418.8 384.4L1419.8 384.4L1420.8 384.4L1421.8 384.4L1422.8 384.4L1423.8 384.4L1424.8 384.4L1425.8 384.4L1426.8 384.4L1427.8 384.4L1428.8 384.4L1429.8 384.4L1430.8 384.4L1431.8 384.4L1432.8 384.4L1433.8 384.4L1434.8 384.4L1435.8 384.4L1436.8 384.4L1437.8 384.4L1438.8 384.4L1439.8 384.4L1440.8 384.4L1441.8 384.4L1442.8 384.4L1443.8 384.4L1444.8 384.4L1445.8 384.4L1446.8 384.4L1447.8 384.4L1448.8 384.4L1449.8 384.4L1450.8 384.4L1451.8 384.4L1452.8 384.4L1453.8 384.4L1454.8 384.4L1455.8 384.4L1456.8 384.4L1457.8 384.4L1458.8 384.4L1459.8 384.4L1460.8 384.4L1461.8 384.4L1462.8 384.4L1463.8 384.4L1464.8 384.4L1465.8 384.4L1466.8 384.4L1467.8 384.4L1468.8 384.4L1469.8 384.4L1470.8 384.4L1471.8 384.4L1472.8 384.4L1473.8 384.4L1474.8 384.4L1475.8 384.4L1476.8 384.4L1477.8 384.4L1478.8 384.4L1479.8 384.4L1480.8 384.4L1481.8 384.4L1482.8 384.4L1483.8 384.4L1484.8 384.4L1485.8 384.4L1486.8 384.4L1487.8 384.4L1488.8 384.4L1489.8 384.4L1490.8 384.4L1491.8 384.4L1492.8 384.4L1493.8 384.4L1494.8 384.4L1495.8 384.4L1496.8 384.4L1497.8 384.4L1498.8 384.4L1499.8 384.4 L1500 384.4 L836.8 384.4 Z" fill="#ff00ff" fill-opacity="0.5" stroke="none"/>
<path d="M836.8 384.4L837.8 384.4L838.8 384.4L839.8 384.4L840.8 384.4L841.8 384.4L842.8 384.4L843.8 384.4L844.8 384.4L845.8 384.4L846.8 384.4L847.8 384.4L848.8 384.4L849.8 384.4L850.8 384.4L851.8 384.4L852.8 384.4L853.8 384.4L854.8 384.4L855.8 384.4L856.8 384.4L857.8 384.4L858.8 384.4L859.8 384.4L860.8 384.4L861.8 384.4L862.8 384.4L863.8 384.4L864.8 384.4L865.8 384.4L866.8 384.4L867.8 384.4L868.8 384.4L869.8 384.4L870.8 384.4L871.8 384.4L872.8 384.4L873.8 384.4L874.8 384.4L875.8 384.4L876.8 384.4L877.8 384.4L878.8 384.4L879.8 384.4L880.8 384.4L881.8 384.4L882.8 384.4L883.8 384.4L884.8 384.4L885.8 384.4L886.8 384.4L887.8 384.4L888.8 384.4L889.8 384.4L890.8 384.4L891.8 384.4L892.8 384.4L893.8 384.4L894.8 384.4L895.8 384.4L896.8 384.4L897.8 384.4L898.8 384.4L899.8 384.4L900.8 384.4L901.8 384.4L902.8 384.4L903.8 384.4L904.8 384.4L905.8 384.4L906.8 384.4L907.8 384.4L908.8 384.4L909.8 384.4L910.8 384.4L911.8 384.4L912.8 384.4L913.8 384.4L914.8 384.4L915.8 384.4L916.8 384.4L917.8 384.4L918.8 384.4L919.8 384.4L920.8 384.4L921.8 384.4L922.8 384.4L923.8 384.4L924.8 384.4L925.8 384.4L926.8 384.4L927.8 384.4L928.8 384.4L929.8 384.4L930.8 384.4L931.8 384.4L932.8 384.4L933.8 384.4L934.8 384.4L935.8 384.4L936.8 384.4L937.8 384.4L938.8 384.4L939.8 384.4L940.8 384.4L941.8 384.4L942.8 384.4L943.8 384.4L944.8 384.4L945.8 384.4L946.8 384.4L947.8 384.4L948.8 384.4L949.8 384.4L950.8 384.4L951.8 384.4L952.8 384.4L953.8 384.4L954.8 384.4L955.8 384.4L956.8 384.4L957.8 384.4L958.8 384.4L959.8 384.4L960.8 384.4L961.8 384.4L962.8 384.4L963.8 384.4L964.8 384.4L965.8 384.4L966.8 384.4L967.8 384.4L968.8 384.4L969.8 384.4L970.8 384.4L971.8 384.4L972.8 384.4L973.8 384.4L974.8 384.4L975.8 384.4L976.8 384.4L977.8 384.4L978.8 384.4L979.8 384.4L980.8 384.4L981.8 384.4L982.8 384.4L983.8 384.4L984.8 384.4L985.8 384.4L986.8 384.4L987.8 384.4L988.8 384.4L989.8 384.4L990.8 384.4L991.8 384.4L992.8 384.4L993.8 384.4L994.8 384.4L995.8 384.4L996.8 384.4L997.8 384.4L998.8 384.4L999.8 384.4L1000.8 384.4L1001.8 384.4L1002.8 384.4L1003.8 384.4L1004.8 384.4L1005.8 384.4L1006.8 384.4L1007.8 384.4L1008.8 384.4L1009.8 384.4L1010.8 384.4L1011.8 384.4L1012.8 384.4L1013.8 384.4L1014.8 384.4L1015.8 384.4L1016.8 384.4L1017.8 384.4L1018.8 384.4L1019.8 384.4L1020.8 384.4L1021.8 384.4L1022.8 384.4L1023.8 384.4L1024.8 384.4L1025.8 384.4L1026.8 384.4L1027.8 384.4L1028.8 384.4L1029.8 384.4L1030.8 384.4L1031.8 384.4L1032.8 384.4L1033.8 384.4L1034.8 384.4L1035.8 384.4L1036.8 384.4L1037.8 384.4L1038.8 384.4L1039.8 384.4L1040.8 384.4L1041.8 384.4L1042.8 384.4L1043.8 384.4L1044.8 384.4L1045.8 384.4L1046.8 384.4L1047.8 384.4L1048.8 384.4L1049.8 384.4L1050.8 384.4L1051.8 384.4L1052.8 384.4L1053.8 384.4L1054.8 384.4L1055.8 384.4L1056.8 384.4L1057.8 384.4L1058.8 384.4L1059.8 384.4L1060.8 384.4L1061.8 384.4L1062.8 384.4L1063.8 384.4L1064.8 384.4L1065.8 384.4L1066.8 384.4L1067.8 384.4L1068.8 384.4L1069.8 384.4L1070.8 384.4L1071.8 384.4L1072.8 384.4L1073.8 384.4L1074.8 384.4L1075.8 384.4L1076.8 384.4L1077.8 384.4L1078.8 384.4L1079.8 384.4L1080.8 384.4L1081.8 384.4L1082.8 384.4L1083.8 384.4L1084.8 384.4L1085.8 384.4L1086.8 384.4L1087.8 384.4L1088.8 384.4L1089.8 384.4L1090.8 384.4L1091.8 384.4L1092.8 384.4L1093.8 384.4L1094.8 384.4L1095.8 384.4L1096.8 384.4L1097.8 384.4L1098.8 384.39L1099.8 384.39L1100.8 384.39L1101.8 384.38L1102.8 384.37L1103.8 384.36L1104.8 384.34L1105.8 384.32L1106.8 384.28L1107.8 384.23L1108.8 384.17L1109.8 384.08L1110.8 383.97L1111.8 383.81L1112.8 383.61L1113.8 383.35L1114.8 383.01L1115.8 382.57L1116.8 382.02L1117.8 381.31L1118.8 380.43L1119.8 379.33L1120.8 377.98L1121.8 376.33L1122.8 374.33L1123.8 371.93L1124.8 369.07L1125.8 365.69L1126.8 361.74L1127.8 357.15L1128.8 351.88L1129.8 345.87L1130.8 339.1L1131.8 331.52L1132.8 323.14L1133.8 313.96L1134.8 303.99L1135.8 293.3L1136.8 281.95L1137.8 270.04L1138.8 257.69L1139.8 245.04L1140.8 232.27L1141.8 219.56L1142.8 207.1L1143.8 195.12L1144.8 183.82L1145.8 173.43L1146.8 164.13L1147.8 156.13L1148.8 149.6L1149.8 144.66L1150.8 141.43L1151.8 139.98L1152.8 140.34L1153.8 142.51L1154.8 146.43L1155.8 152.03L1156.8 159.17L1157.8 167.71L1158.8 177.46L1159.8 188.25L1160.8 199.84L1161.8 212.04L1162.8 224.62L1163.8 237.38L1164.8 250.12L1165.8 262.67L1166.8 274.86L1167.8 286.56L1168.8 297.66L1169.8 308.07L1170.8 317.72L1171.8 326.59L1172.8 334.65L1173.8 341.9L1174.8 348.36L1175.8 354.07L1176.8 359.06L1177.8 363.39L1178.8 367.11L1179.8 370.27L1180.8 372.94L1181.8 375.18L1182.8 377.03L1183.8 378.56L1184.8 379.8L1185.8 380.81L1186.8 381.61L1187.8 382.25L1188.8 382.76L1189.8 383.16L1190.8 383.46L1191.8 383.7L1192.8 383.88L1193.8 384.02L1194.8 384.12L1195.8 384.2L1196.8 384.25L1197.8 384.3L1198.8 384.33L1199.8 384.35L1200.8 384.36L1201.8 384.37L1202.8 384.38L1203.8 384.39L1204.8 384.39L1205.8 384.39L1206.8 384.4L1207.8 384.4L1208.8 384.4L1209.8 384.4L1210.8 384.4L1211.8 384.4L1212.8 384.4L1213.8 384.4L1214.8 384.4L1215.8 384.4L1216.8 384.4L1217.8 384.4L1218.8 384.4L1219.8 384.4L1220.8 384.4L1221.8 384.4L1222.8 384.4L1223.8 384.4L1224.8 384.4L1225.8 384.4L1226.8 384.4L1227.8 384.4L1228.8 384.4L1229.8 384.4L1230.8 384.4L1231.8 384.4L1232.8 384.4L1233.8 384.4L1234.8 384.4L1235.8 384.4L1236.8 384.4L1237.8 384.4L1238.8 384.4L1239.8 384.4L1240.8 384.4L1241.8 384.4L1242.8 384.4L1243.8 384.4L1244.8 384.4L1245.8 384.4L1246.8 384.4L1247.8 384.4L1248.8 384.4L1249.8 384.4L1250.8 384.4L1251.8 384.4L1252.8 384.4L1253.8 384.4L1254.8 384.4L1255.8 384.4L1256.8 384.4L1257.8 384.4L1258.8 384.4L1259.8 384.4L1260.8 384.4L1261.8 384.4L1262.8 384.4L1263.8 384.4L1264.8 384.4L1265.8 384.4L1266.8 384.4L1267.8 384.4L1268.8 384.4L1269.8 384.4L1270.8 384.4L1271.8 384.4L1272.8 384.4L1273.8 384.4L1274.8 384.4L1275.8 384.4L1276.8 384.4L1277.8 384.4L1278.8 384.4L1279.8 384.4L1280.8 384.4L1281.8 384.4L1282.8 384.4L1283.8 384.4L1284.8 384.4L1285.8 384.4L1286.8 384.4L1287.8 384.4L1288.8 384.4L1289.8 384.4L1290.8 384.4L1291.8 384.4L1292.8 384.4L1293.8 384.4L1294.8 384.4L1295.8 384.4L1296.8 384.4L1297.8 384.4L1298.8 384.4L1299.8 384.4L1300.8 384.4L1301.8 384.4L1302.8 384.4L1303.8 384.4L1304.8 384.4L1305.8 384.4L1306.8 384.4L1307.8 384.4L1308.8 384.4L1309.8 384.4L1310.8 384.4L1311.8 384.4L1312.8 384.4L1313.8 384.4L1314.8 384.4L1315.8 384.4L1316.8 384.4L1317.8 384.4L1318.8 384.4L1319.8 384.4L1320.8 384.4L1321.8 384.4L1322.8 384.4L1323.8 384.4L1324.8 384.4L1325.8 384.4L1326.8 384.4L1327.8 384.4L1328.8 384.4L1329.8 384.4L1330.8 384.4L1331.8 384.4L1332.8 384.4L1333.8 384.4L1334.8 384.4L1335.8 384.4L1336.8 384.4L1337.8 384.4L1338.8 384.4L1339.8 384.4L1340.8 384.4L1341.8 384.4L1342.8 384.4L1343.8 384.4L1344.8 384.4L1345.8 384.4L1346.8 384.4L1347.8 384.4L1348.8 384.4L1349.8 384.4L1350.8 384.4L1351.8 384.4L1352.8 384.4L1353.8 384.4L1354.8 384.4L1355.8 384.4L1356.8 384.4L1357.8 384.4L1358.8 384.4L1359.8 384.4L1360.8 384.4L1361.8 384.4L1362.8 384.4L1363.8 384.4L1364.8 384.4L1365.8 384.4L1366.8 384.4L1367.8 384.4L1368.8 384.4L1369.8 384.4L1370.8 384.4L1371.8 384.4L1372.8 384.4L1373.8 384.4L1374.8 384.4L1375.8 384.4L1376.8 384.4L1377.8 384.4L1378.8 384.4L1379.8 384.4L1380.8 384.4L1381.8 384.4L1382.8 384.4L1383.8 384.4L1384.8 384.4L1385.8 384.4L1386.8 384.4L1387.8 384.4L1388.8 384.4L1389.8 384.4L1390.8 384.4L1391.8 384.4L1392.8 384.4L1393.8 384.4L1394.8 384.4L1395.8 384.4L1396.8 384.4L1397.8 384.4L1398.8 384.4L1399.8 384.4L1400.8 384.4L1401.8 384.4L1402.8 384.4L1403.8 384.4L1404.8 384.4L1405.8 384.4L1406.8 384.4L1407.8 384.4L1408.8 384.4L1409.8 384.4L1410.8 384.4L1411.8 384.4L1412.8 384.4L1413.8 384.4L1414.8 384.4L1415.8 384.4L1416.8 384.4L1417.8 384.4L1418.8 384.4L1419.8 384.4L1420.8 384.4L1421.8 384.4L1422.8 384.4L1423.8 384.4L1424.8 384.4L1425.8 384.4L1426.8 384.4L1427.8 384.4L1428.8 384.4L1429.8 384.4L1430.8 384.4L1431.8 384.4L1432.8 384.4L1433.8 384.4L1434.8 384.4L1435.8 384.4L1436.8 384.4L1437.8 384.4L1438.8 384.4L1439.8 384.4L1440.8 384.4L1441.8 384.4L1442.8 384.4L1443.8 384.4L1444.8 384.4L1445.8 384.4L1446.8 384.4L1447.8 384.4L1448.8 384.4L1449.8 384.4L1450.8 384.4L1451.8 384.4L1452.8 384.4L1453.8 384.4L1454.8 384.4L1455.8 384.4L1456.8 384.4L1457.8 384.4L1458.8 384.4L1459.8 384.4L1460.8 384.4L1461.8 384.4L1462.8 384.4L1463.8 384.4L1464.8 384.4L1465.8 384.4L1466.8 384.4L1467.8 384.4L1468.8 384.4L1469.8 384.4L1470.8 384.4L1471.8 384.4L1472.8 384.4L1473.8 384.4L1474.8 384.4L1475.8 384.4L1476.8 384.4L1477.8 384.4L1478.8 384.4L1479.8 384.4L1480.8 384.4L1481.8 384.4L1482.8 384.4L1483.8 384.4L1484.8 384.4L1485.8 384.4L1486.8 384.4L1487.8 384.4L1488.8 384.4L1489.8 384.4L1490.8 384.4L1491.8 384.4L1492.8 384.4L1493.8 384.4L1494.8 384.4L1495.8 384.4L1496.8 384.4L1497.8 384.4L1498.8 384.4L1499.8 384.4" fill="none" stroke="#ff00ff" stroke-width="2.8"/>
<path d="M836.8 384.21L837.8 384.21L838.8 384.21L839.8 384.21L840.8 384.21L841.8 384.2L842.8 384.2L843.8 384.2L844.8 384.2L845.8 384.2L846.8 384.2L847.8 384.2L848.8 384.2L849.8 384.2L850.8 384.19L851.8 384.19L852.8 384.19L853.8 384.19L854.8 384.19L855.8 384.19L856.8 384.19L857.8 384.18L858.8 384.18L859.8 384.18L860.8 384.18L861.8 384.18L862.8 384.18L863.8 384.18L864.8 384.18L865.8 384.17L866.8 384.17L867.8 384.17L868.8 384.17L869.8 384.17L870.8 384.17L871.8 384.16L872.8 384.16L873.8 384.16L874.8 384.16L875.8 384.16L876.8 384.16L877.8 384.16L878.8 384.15L879.8 384.15L880.8 384.15L881.8 384.15L882.8 384.15L883.8 384.14L884.8 384.14L885.8 384.14L886.8 384.14L887.8 384.14L888.8 384.14L889.8 384.13L890.8 384.13L891.8 384.13L892.8 384.13L893.8 384.13L894.8 384.12L895.8 384.12L896.8 384.12L897.8 384.12L898.8 384.12L899.8 384.11L900.8 384.11L901.8 384.11L902.8 384.11L903.8 384.11L904.8 384.1L905.8 384.1L906.8 384.1L907.8 384.1L908.8 384.09L909.8 384.09L910.8 384.09L911.8 384.09L912.8 384.09L913.8 384.08L914.8 384.08L915.8 384.08L916.8 384.08L917.8 384.07L918.8 384.07L919.8 384.07L920.8 384.07L921.8 384.06L922.8 384.06L923.8 384.06L924.8 384.05L925.8 384.05L926.8 384.05L927.8 384.05L928.8 384.04L929.8 384.04L930.8 384.04L931.8 384.03L932.8 384.03L933.8 384.03L934.8 384.03L935.8 384.02L936.8 384.02L937.8 384.02L938.8 384.01L939.8 384.01L940.8 384.01L941.8 384L942.8 384L943.8 384L944.8 383.99L945.8 383.99L946.8 383.99L947.8 383.98L948.8 383.98L949.8 383.97L950.8 383.97L951.8 383.97L952.8 383.96L953.8 383.96L954.8 383.95L955.8 383.95L956.8 383.95L957.8 383.94L958.8 383.94L959.8 383.93L960.8 383.93L961.8 383.93L962.8 383.92L963.8 383.92L964.8 383.91L965.8 383.91L966.8 383.9L967.8 383.9L968.8 383.89L969.8 383.89L970.8 383.88L971.8 383.88L972.8 383.87L973.8 383.87L974.8 383.86L975.8 383.86L976.8 383.85L977.8 383.85L978.8 383.84L979.8 383.83L980.8 383.83L981.8 383.82L982.8 383.82L983.8 383.81L984.8 383.8L985.8 383.8L986.8 383.79L987.8 383.79L988.8 383.78L989.8 383.77L990.8 383.77L991.8 383.76L992.8 383.75L993.8 383.74L994.8 383.74L995.8 383.73L996.8 383.72L997.8 383.71L998.8 383.71L999.8 383.7L1000.8 383.69L1001.8 383.68L1002.8 383.67L1003.8 383.67L1004.8 383.66L1005.8 383.65L1006.8 383.64L1007.8 383.63L1008.8 383.62L1009.8 383.61L1010.8 383.6L1011.8 383.59L1012.8 383.58L1013.8 383.57L1014.8 383.56L1015.8 383.55L1016.8 383.54L1017.8 383.53L1018.8 383.52L1019.8 383.51L1020.8 383.5L1021.8 383.49L1022.8 383.47L1023.8 383.46L1024.8 383.45L1025.8 383.44L1026.8 383.42L1027.8 383.41L1028.8 383.4L1029.8 383.38L1030.8 383.37L1031.8 383.36L1032.8 383.34L1033.8 383.33L1034.8 383.31L1035.8 383.3L1036.8 383.28L1037.8 383.26L1038.8 383.25L1039.8 383.23L1040.8 383.21L1041.8 383.2L1042.8 383.18L1043.8 383.16L1044.8 383.14L1045.8 383.12L1046.8 383.1L1047.8 383.08L1048.8 383.06L1049.8 383.04L1050.8 383.02L1051.8 383L1052.8 382.97L1053.8 382.95L1054.8 382.93L1055.8 382.9L1056.8 382.88L1057.8 382.85L1058.8 382.83L1059.8 382.8L1060.8 382.77L1061.8 382.74L1062.8 382.72L1063.8 382.69L1064.8 382.66L1065.8 382.62L1066.8 382.59L1067.8 382.56L1068.8 382.53L1069.8 382.49L1070.8 382.45L1071.8 382.42L1072.8 382.38L1073.8 382.34L1074.8 382.3L1075.8 382.26L1076.8 382.22L1077.8 382.17L1078.8 382.13L1079.8 382.08L1080.8 382.03L1081.8 381.99L1082.8 381.93L1083.8 381.88L1084.8 381.83L1085.8 381.77L1086.8 381.72L1087.8 381.66L1088.8 381.59L1089.8 381.53L1090.8 381.47L1091.8 381.4L1092.8 381.33L1093.8 381.26L1094.8 381.18L1095.8 381.1L1096.8 381.02L1097.8 380.94L1098.8 380.85L1099.8 380.76L1100.8 380.67L1101.8 380.57L1102.8 380.47L1103.8 380.37L1104.8 380.26L1105.8 380.15L1106.8 380.03L1107.8 379.91L1108.8 379.78L1109.8 379.65L1110.8 379.51L1111.8 379.37L1112.8 379.21L1113.8 379.06L1114.8 378.89L1115.8 378.72L1116.8 378.54L1117.8 378.36L1118.8 378.16L1119.8 377.95L1120.8 377.74L1121.8 377.51L1122.8 377.28L1123.8 377.03L1124.8 376.77L1125.8 376.49L1126.8 376.2L1127.8 375.9L1128.8 375.57L1129.8 375.24L1130.8 374.88L1131.8 374.5L1132.8 374.1L1133.8 373.68L1134.8 373.23L1135.8 372.76L1136.8 372.26L1137.8 371.73L1138.8 371.17L1139.8 370.57L1140.8 369.94L1141.8 369.26L1142.8 368.54L1143.8 367.78L1144.8 366.97L1145.8 366.1L1146.8 365.18L1147.8 364.2L1148.8 363.15L1149.8 362.04L1150.8 360.86L1151.8 359.6L1152.8 358.26L1153.8 356.83L1154.8 355.33L1155.8 353.73L1156.8 352.05L1157.8 350.27L1158.8 348.42L1159.8 346.48L1160.8 344.46L1161.8 342.39L1162.8 340.27L1163.8 338.12L1164.8 335.97L1165.8 333.85L1166.8 331.79L1167.8 329.83L1168.8 328.01L1169.8 326.38L1170.8 324.98L1171.8 323.86L1172.8 323.03L1173.8 322.54L1174.8 322.4L1175.8 322.61L1176.8 323.17L1177.8 324.06L1178.8 325.24L1179.8 326.69L1180.8 328.36L1181.8 330.21L1182.8 332.19L1183.8 334.27L1184.8 336.4L1185.8 338.55L1186.8 340.7L1187.8 342.81L1188.8 344.87L1189.8 346.87L1190.8 348.79L1191.8 350.63L1192.8 352.39L1193.8 354.06L1194.8 355.63L1195.8 357.13L1196.8 358.53L1197.8 359.85L1198.8 361.1L1199.8 362.27L1200.8 363.37L1201.8 364.4L1202.8 365.37L1203.8 366.28L1204.8 367.13L1205.8 367.94L1206.8 368.69L1207.8 369.4L1208.8 370.07L1209.8 370.69L1210.8 371.28L1211.8 371.84L1212.8 372.36L1213.8 372.86L1214.8 373.33L1215.8 373.77L1216.8 374.18L1217.8 374.58L1218.8 374.95L1219.8 375.3L1220.8 375.64L1221.8 375.96L1222.8 376.26L1223.8 376.55L1224.8 376.82L1225.8 377.08L1226.8 377.32L1227.8 377.56L1228.8 377.78L1229.8 378L1230.8 378.2L1231.8 378.39L1232.8 378.58L1233.8 378.76L1234.8 378.93L1235.8 379.09L1236.8 379.25L1237.8 379.39L1238.8 379.54L1239.8 379.67L1240.8 379.81L1241.8 379.93L1242.8 380.05L1243.8 380.17L1244.8 380.28L1245.8 380.39L1246.8 380.49L1247.8 380.59L1248.8 380.69L1249.8 380.78L1250.8 380.87L1251.8 380.96L1252.8 381.04L1253.8 381.12L1254.8 381.2L1255.8 381.27L1256.8 381.34L1257.8 381.41L1258.8 381.48L1259.8 381.54L1260.8 381.61L1261.8 381.67L1262.8 381.73L1263.8 381.78L1264.8 381.84L1265.8 381.89L1266.8 381.95L1267.8 382L1268.8 382.04L1269.8 382.09L1270.8 382.14L1271.8 382.18L1272.8 382.23L1273.8 382.27L1274.8 382.31L1275.8 382.35L1276.8 382.39L1277.8 382.43L1278.8 382.46L1279.8 382.5L1280.8 382.53L1281.8 382.57L1282.8 382.6L1283.8 382.63L1284.8 382.66L1285.8 382.69L1286.8 382.72L1287.8 382.75L1288.8 382.78L1289.8 382.81L1290.8 382.83L1291.8 382.86L1292.8 382.88L1293.8 382.91L1294.8 382.93L1295.8 382.96L1296.8 382.98L1297.8 383L1298.8 383.02L1299.8 383.04L1300.8 383.07L1301.8 383.09L1302.8 383.11L1303.8 383.13L1304.8 383.15L1305.8 383.16L1306.8 383.18L1307.8 383.2L1308.8 383.22L1309.8 383.23L1310.8 383.25L1311.8 383.27L1312.8 383.28L1313.8 383.3L1314.8 383.31L1315.8 383.33L1316.8 383.34L1317.8 383.36L1318.8 383.37L1319.8 383.39L1320.8 383.4L1321.8 383.41L1322.8 383.43L1323.8 383.44L1324.8 383.45L1325.8 383.46L1326.8 383.48L1327.8 383.49L1328.8 383.5L1329.8 383.51L1330.8 383.52L1331.8 383.53L1332.8 383.54L1333.8 383.56L1334.8 383.57L1335.8 383.58L1336.8 383.59L1337.8 383.6L1338.8 383.61L1339.8 383.61L1340.8 383.62L1341.8 383.63L1342.8 383.64L1343.8 383.65L1344.8 383.66L1345.8 383.67L1346.8 383.68L1347.8 383.68L1348.8 383.69L1349.8 383.7L1350.8 383.71L1351.8 383.72L1352.8 383.72L1353.8 383.73L1354.8 383.74L1355.8 383.75L1356.8 383.75L1357.8 383.76L1358.8 383.77L1359.8 383.77L1360.8 383.78L1361.8 383.79L1362.8 383.79L1363.8 383.8L1364.8 383.81L1365.8 383.81L1366.8 383.82L1367.8 383.82L1368.8 383.83L1369.8 383.84L1370.8 383.84L1371.8 383.85L1372.8 383.85L1373.8 383.86L1374.8 383.86L1375.8 383.87L1376.8 383.87L1377.8 383.88L1378.8 383.88L1379.8 383.89L1380.8 383.89L1381.8 383.9L1382.8 383.9L1383.8 383.91L1384.8 383.91L1385.8 383.92L1386.8 383.92L1387.8 383.93L1388.8 383.93L1389.8 383.93L1390.8 383.94L1391.8 383.94L1392.8 383.95L1393.8 383.95L1394.8 383.96L1395.8 383.96L1396.8 383.96L1397.8 383.97L1398.8 383.97L1399.8 383.98L1400.8 383.98L1401.8 383.98L1402.8 383.99L1403.8 383.99L1404.8 383.99L1405.8 384L1406.8 384L1407.8 384L1408.8 384.01L1409.8 384.01L1410.8 384.01L1411.8 384.02L1412.8 384.02L1413.8 384.02L1414.8 384.03L1415.8 384.03L1416.8 384.03L1417.8 384.04L1418.8 384.04L1419.8 384.04L1420.8 384.04L1421.8 384.05L1422.8 384.05L1423.8 384.05L1424.8 384.06L1425.8 384.06L1426.8 384.06L1427.8 384.06L1428.8 384.07L1429.8 384.07L1430.8 384.07L1431.8 384.07L1432.8 384.08L1433.8 384.08L1434.8 384.08L1435.8 384.08L1436.8 384.09L1437.8 384.09L1438.8 384.09L1439.8 384.09L1440.8 384.1L1441.8 384.1L1442.8 384.1L1443.8 384.1L1444.8 384.1L1445.8 384.11L1446.8 384.11L1447.8 384.11L1448.8 384.11L1449.8 384.11L1450.8 384.12L1451.8 384.12L1452.8 384.12L1453.8 384.12L1454.8 384.12L1455.8 384.13L1456.8 384.13L1457.8 384.13L1458.8 384.13L1459.8 384.13L1460.8 384.14L1461.8 384.14L1462.8 384.14L1463.8 384.14L1464.8 384.14L1465.8 384.15L1466.8 384.15L1467.8 384.15L1468.8 384.15L1469.8 384.15L1470.8 384.15L1471.8 384.16L1472.8 384.16L1473.8 384.16L1474.8 384.16L1475.8 384.16L1476.8 384.16L1477.8 384.16L1478.8 384.17L1479.8 384.17L1480.8 384.17L1481.8 384.17L1482.8 384.17L1483.8 384.17L1484.8 384.18L1485.8 384.18L1486.8 384.18L1487.8 384.18L1488.8 384.18L1489.8 384.18L1490.8 384.18L1491.8 384.19L1492.8 384.19L1493.8 384.19L1494.8 384.19L1495.8 384.19L1496.8 384.19L1497.8 384.19L1498.8 384.19L1499.8 384.2 L1500 384.4 L836.8 384.4 Z" fill="#808000" fill-opacity="0.4" stroke="none"/>
<path d="M836.8 384.21L837.8 384.21L838.8 384.21L839.8 384.21L840.8 384.21L841.8 384.2L842.8 384.2L843.8 384.2L844.8 384.2L845.8 384.2L846.8 384.2L847.8 384.2L848.8 384.2L849.8 384.2L850.8 384.19L851.8 384.19L852.8 384.19L853.8 384.19L854.8 384.19L855.8 384.19L856.8 384.19L857.8 384.18L858.8 384.18L859.8 384.18L860.8 384.18L861.8 384.18L862.8 384.18L863.8 384.18L864.8 384.18L865.8 384.17L866.8 384.17L867.8 384.17L868.8 384.17L869.8 384.17L870.8 384.17L871.8 384.16L872.8 384.16L873.8 384.16L874.8 384.16L875.8 384.16L876.8 384.16L877.8 384.16L878.8 384.15L879.8 384.15L880.8 384.15L881.8 384.15L882.8 384.15L883.8 384.14L884.8 384.14L885.8 384.14L886.8 384.14L887.8 384.14L888.8 384.14L889.8 384.13L890.8 384.13L891.8 384.13L892.8 384.13L893.8 384.13L894.8 384.12L895.8 384.12L896.8 384.12L897.8 384.12L898.8 384.12L899.8 384.11L900.8 384.11L901.8 384.11L902.8 384.11L903.8 384.11L904.8 384.1L905.8 384.1L906.8 384.1L907.8 384.1L908.8 384.09L909.8 384.09L910.8 384.09L911.8 384.09L912.8 384.09L913.8 384.08L914.8 384.08L915.8 384.08L916.8 384.08L917.8 384.07L918.8 384.07L919.8 384.07L920.8 384.07L921.8 384.06L922.8 384.06L923.8 384.06L924.8 384.05L925.8 384.05L926.8 384.05L927.8 384.05L928.8 384.04L929.8 384.04L930.8 384.04L931.8 384.03L932.8 384.03L933.8 384.03L934.8 384.03L935.8 384.02L936.8 384.02L937.8 384.02L938.8 384.01L939.8 384.01L940.8 384.01L941.8 384L942.8 384L943.8 384L944.8 383.99L945.8 383.99L946.8 383.99L947.8 383.98L948.8 383.98L949.8 383.97L950.8 383.97L951.8 383.97L952.8 383.96L953.8 383.96L954.8 383.95L955.8 383.95L956.8 383.95L957.8 383.94L958.8 383.94L959.8 383.93L960.8 383.93L961.8 383.93L962.8 383.92L963.8 383.92L964.8 383.91L965.8 383.91L966.8 383.9L967.8 383.9L968.8 383.89L969.8 383.89L970.8 383.88L971.8 383.88L972.8 383.87L973.8 383.87L974.8 383.86L975.8 383.86L976.8 383.85L977.8 383.85L978.8 383.84L979.8 383.83L980.8 383.83L981.8 383.82L982.8 383.82L983.8 383.81L984.8 383.8L985.8 383.8L986.8 383.79L987.8 383.79L988.8 383.78L989.8 383.77L990.8 383.77L991.8 383.76L992.8 383.75L993.8 383.74L994.8 383.74L995.8 383.73L996.8 383.72L997.8 383.71L998.8 383.71L999.8 383.7L1000.8 383.69L1001.8 383.68L1002.8 383.67L1003.8 383.67L1004.8 383.66L1005.8 383.65L1006.8 383.64L1007.8 383.63L1008.8 383.62L1009.8 383.61L1010.8 383.6L1011.8 383.59L1012.8 383.58L1013.8 383.57L1014.8 383.56L1015.8 383.55L1016.8 383.54L1017.8 383.53L1018.8 383.52L1019.8 383.51L1020.8 383.5L1021.8 383.49L1022.8 383.47L1023.8 383.46L1024.8 383.45L1025.8 383.44L1026.8 383.42L1027.8 383.41L1028.8 383.4L1029.8 383.38L1030.8 383.37L1031.8 383.36L1032.8 383.34L1033.8 383.33L1034.8 383.31L1035.8 383.3L1036.8 383.28L1037.8 383.26L1038.8 383.25L1039.8 383.23L1040.8 383.21L1041.8 383.2L1042.8 383.18L1043.8 383.16L1044.8 383.14L1045.8 383.12L1046.8 383.1L1047.8 383.08L1048.8 383.06L1049.8 383.04L1050.8 383.02L1051.8 383L1052.8 382.97L1053.8 382.95L1054.8 382.93L1055.8 382.9L1056.8 382.88L1057.8 382.85L1058.8 382.83L1059.8 382.8L1060.8 382.77L1061.8 382.74L1062.8 382.72L1063.8 382.69L1064.8 382.66L1065.8 382.62L1066.8 382.59L1067.8 382.56L1068.8 382.53L1069.8 382.49L1070.8 382.45L1071.8 382.42L1072.8 382.38L1073.8 382.34L1074.8 382.3L1075.8 382.26L1076.8 382.22L1077.8 382.17L1078.8 382.13L1079.8 382.08L1080.8 382.03L1081.8 381.99L1082.8 381.93L1083.8 381.88L1084.8 381.83L1085.8 381.77L1086.8 381.72L1087.8 381.66L1088.8 381.59L1089.8 381.53L1090.8 381.47L1091.8 381.4L1092.8 381.33L1093.8 381.26L1094.8 381.18L1095.8 381.1L1096.8 381.02L1097.8 380.94L1098.8 380.85L1099.8 380.76L1100.8 380.67L1101.8 380.57L1102.8 380.47L1103.8 380.37L1104.8 380.26L1105.8 380.15L1106.8 380.03L1107.8 379.91L1108.8 379.78L1109.8 379.65L1110.8 379.51L1111.8 379.37L1112.8 379.21L1113.8 379.06L1114.8 378.89L1115.8 378.72L1116.8 378.54L1117.8 378.36L1118.8 378.16L1119.8 377.95L1120.8 377.74L1121.8 377.51L1122.8 377.28L1123.8 377.03L1124.8 376.77L1125.8 376.49L1126.8 376.2L1127.8 375.9L1128.8 375.57L1129.8 375.24L1130.8 374.88L1131.8 374.5L1132.8 374.1L1133.8 373.68L1134.8 373.23L1135.8 372.76L1136.8 372.26L1137.8 371.73L1138.8 371.17L1139.8 370.57L1140.8 369.94L1141.8 369.26L1142.8 368.54L1143.8 367.78L1144.8 366.97L1145.8 366.1L1146.8 365.18L1147.8 364.2L1148.8 363.15L1149.8 362.04L1150.8 360.86L1151.8 359.6L1152.8 358.26L1153.8 356.83L1154.8 355.33L1155.8 353.73L1156.8 352.05L1157.8 350.27L1158.8 348.42L1159.8 346.48L1160.8 344.46L1161.8 342.39L1162.8 340.27L1163.8 338.12L1164.8 335.97L1165.8 333.85L1166.8 331.79L1167.8 329.83L1168.8 328.01L1169.8 326.38L1170.8 324.98L1171.8 323.86L1172.8 323.03L1173.8 322.54L1174.8 322.4L1175.8 322.61L1176.8 323.17L1177.8 324.06L1178.8 325.24L1179.8 326.69L1180.8 328.36L1181.8 330.21L1182.8 332.19L1183.8 334.27L1184.8 336.4L1185.8 338.55L1186.8 340.7L1187.8 342.81L1188.8 344.87L1189.8 346.87L1190.8 348.79L1191.8 350.63L1192.8 352.39L1193.8 354.06L1194.8 355.63L1195.8 357.13L1196.8 358.53L1197.8 359.85L1198.8 361.1L1199.8 362.27L1200.8 363.37L1201.8 364.4L1202.8 365.37L1203.8 366.28L1204.8 367.13L1205.8 367.94L1206.8 368.69L1207.8 369.4L1208.8 370.07L1209.8 370.69L1210.8 371.28L1211.8 371.84L1212.8 372.36L1213.8 372.86L1214.8 373.33L1215.8 373.77L1216.8 374.18L1217.8 374.58L1218.8 374.95L1219.8 375.3L1220.8 375.64L1221.8 375.96L1222.8 376.26L1223.8 376.55L1224.8 376.82L1225.8 377.08L1226.8 377.32L1227.8 377.56L1228.8 377.78L1229.8 378L1230.8 378.2L1231.8 378.39L1232.8 378.58L1233.8 378.76L1234.8 378.93L1235.8 379.09L1236.8 379.25L1237.8 379.39L1238.8 379.54L1239.8 379.67L1240.8 379.81L1241.8 379.93L1242.8 380.05L1243.8 380.17L1244.8 380.28L1245.8 380.39L1246.8 380.49L1247.8 380.59L1248.8 380.69L1249.8 380.78L1250.8 380.87L1251.8 380.96L1252.8 381.04L1253.8 381.12L1254.8 381.2L1255.8 381.27L1256.8 381.34L1257.8 381.41L1258.8 381.48L1259.8 381.54L1260.8 381.61L1261.8 381.67L1262.8 381.73L1263.8 381.78L1264.8 381.84L1265.8 381.89L1266.8 381.95L1267.8 382L1268.8 382.04L1269.8 382.09L1270.8 382.14L1271.8 382.18L1272.8 382.23L1273.8 382.27L1274.8 382.31L1275.8 382.35L1276.8 382.39L1277.8 382.43L1278.8 382.46L1279.8 382.5L1280.8 382.53L1281.8 382.57L1282.8 382.6L1283.8 382.63L1284.8 382.66L1285.8 382.69L1286.8 382.72L1287.8 382.75L1288.8 382.78L1289.8 382.81L1290.8 382.83L1291.8 382.86L1292.8 382.88L1293.8 382.91L1294.8 382.93L1295.8 382.96L1296.8 382.98L1297.8 383L1298.8 383.02L1299.8 383.04L1300.8 383.07L1301.8 383.09L1302.8 383.11L1303.8 383.13L1304.8 383.15L1305.8 383.16L1306.8 383.18L1307.8 383.2L1308.8 383.22L1309.8 383.23L1310.8 383.25L1311.8 383.27L1312.8 383.28L1313.8 383.3L1314.8 383.31L1315.8 383.33L1316.8 383.34L1317.8 383.36L1318.8 383.37L1319.8 383.39L1320.8 383.4L1321.8 383.41L1322.8 383.43L1323.8 383.44L1324.8 383.45L1325.8 383.46L1326.8 383.48L1327.8 383.49L1328.8 383.5L1329.8 383.51L1330.8 383.52L1331.8 383.53L1332.8 383.54L1333.8 383.56L1334.8 383.57L1335.8 383.58L1336.8 383.59L1337.8 383.6L1338.8 383.61L1339.8 383.61L1340.8 383.62L1341.8 383.63L1342.8 383.64L1343.8 383.65L1344.8 383.66L1345.8 383.67L1346.8 383.68L1347.8 383.68L1348.8 383.69L1349.8 383.7L1350.8 383.71L1351.8 383.72L1352.8 383.72L1353.8 383.73L1354.8 383.74L1355.8 383.75L1356.8 383.75L1357.8 383.76L1358.8 383.77L1359.8 383.77L1360.8 383.78L1361.8 383.79L1362.8 383.79L1363.8 383.8L1364.8 383.81L1365.8 383.81L1366.8 383.82L1367.8 383.82L1368.8 383.83L1369.8 383.84L1370.8 383.84L1371.8 383.85L1372.8 383.85L1373.8 383.86L1374.8 383.86L1375.8 383.87L1376.8 383.87L1377.8 383.88L1378.8 383.88L1379.8 383.89L1380.8 383.89L1381.8 383.9L1382.8 383.9L1383.8 383.91L1384.8 383.91L1385.8 383.92L1386.8 383.92L1387.8 383.93L1388.8 383.93L1389.8 383.93L1390.8 383.94L1391.8 383.94L1392.8 383.95L1393.8 383.95L1394.8 383.96L1395.8 383.96L1396.8 383.96L1397.8 383.97L1398.8 383.97L1399.8 383.98L1400.8 383.98L1401.8 383.98L1402.8 383.99L1403.8 383.99L1404.8 383.99L1405.8 384L1406.8 384L1407.8 384L1408.8 384.01L1409.8 384.01L1410.8 384.01L1411.8 384.02L1412.8 384.02L1413.8 384.02L1414.8 384.03L1415.8 384.03L1416.8 384.03L1417.8 384.04L1418.8 384.04L1419.8 384.04L1420.8 384.04L1421.8 384.05L1422.8 384.05L1423.8 384.05L1424.8 384.06L1425.8 384.06L1426.8 384.06L1427.8 384.06L1428.8 384.07L1429.8 384.07L1430.8 384.07L1431.8 384.07L1432.8 384.08L1433.8 384.08L1434.8 384.08L1435.8 384.08L1436.8 384.09L1437.8 384.09L1438.8 384.09L1439.8 384.09L1440.8 384.1L1441.8 384.1L1442.8 384.1L1443.8 384.1L1444.8 384.1L1445.8 384.11L1446.8 384.11L1447.8 384.11L1448.8 384.11L1449.8 384.11L1450.8 384.12L1451.8 384.12L1452.8 384.12L1453.8 384.12L1454.8 384.12L1455.8 384.13L1456.8 384.13L1457.8 384.13L1458.8 384.13L1459.8 384.13L1460.8 384.14L1461.8 384.14L1462.8 384.14L1463.8 384.14L1464.8 384.14L1465.8 384.15L1466.8 384.15L1467.8 384.15L1468.8 384.15L1469.8 384.15L1470.8 384.15L1471.8 384.16L1472.8 384.16L1473.8 384.16L1474.8 384.16L1475.8 384.16L1476.8 384.16L1477.8 384.16L1478.8 384.17L1479.8 384.17L1480.8 384.17L1481.8 384.17L1482.8 384.17L1483.8 384.17L1484.8 384.18L1485.8 384.18L1486.8 384.18L1487.8 384.18L1488.8 384.18L1489.8 384.18L1490.8 384.18L1491.8 384.19L1492.8 384.19L1493.8 384.19L1494.8 384.19L1495.8 384.19L1496.8 384.19L1497.8 384.19L1498.8 384.19L1499.8 384.2" fill="none" stroke="#808000" stroke-width="2.8"/>
<path d="M836.8 381.6C839 381.63 844.47 381.48 850 381.8C855.53 382.12 861.67 383.03 870 383.5C878.33 383.97 889.17 384.58 900 384.6C910.83 384.62 926.67 384.1 935 383.6C943.33 383.1 945.83 382.05 950 381.6C954.17 381.15 955.83 380.83 960 380.9C964.17 380.97 969.17 381.75 975 382C980.83 382.25 989.17 382.07 995 382.4C1000.83 382.73 1005.83 383.4 1010 384C1014.17 384.6 1017.33 385.23 1020 386C1022.67 386.77 1024.33 388.07 1026 388.6C1027.67 389.13 1028.67 389.37 1030 389.2C1031.33 389.03 1032.33 388.33 1034 387.6C1035.67 386.87 1035.67 385.37 1040 384.8C1044.33 384.23 1054.17 384.1 1060 384.2C1065.83 384.3 1070.83 385.6 1075 385.4C1079.17 385.2 1081.67 384.07 1085 383C1088.33 381.93 1092.5 380.12 1095 379C1097.5 377.88 1098.67 376.83 1100 376.3C1101.33 375.77 1102.08 376.43 1103 375.8C1103.92 375.17 1104.58 374.47 1105.5 372.5C1106.42 370.53 1107.58 367.42 1108.5 364C1109.42 360.58 1110.18 357 1111 352C1111.82 347 1112.37 347.33 1113.4 334C1114.43 320.67 1116.13 293.5 1117.2 272C1118.27 250.5 1118.93 226.17 1119.8 205C1120.67 183.83 1121.5 160.08 1122.4 145C1123.3 129.92 1124.33 118.33 1125.2 114.5C1126.07 110.67 1126.87 118.42 1127.6 122C1128.33 125.58 1128.87 128.33 1129.6 136C1130.33 143.67 1131.07 157.83 1132 168C1132.93 178.17 1134.22 190 1135.2 197C1136.18 204 1137.23 209.5 1137.9 210C1138.57 210.5 1138.85 205.23 1139.2 200C1139.55 194.77 1139.57 186.03 1140 178.6C1140.43 171.17 1141.22 163.13 1141.8 155.4C1142.38 147.67 1142.88 139.55 1143.5 132.2C1144.12 124.85 1144.87 117.58 1145.5 111.3C1146.13 105.02 1146.77 95.85 1147.3 94.5C1147.83 93.15 1148.27 100.4 1148.7 103.2C1149.13 106 1149.42 107.43 1149.9 111.3C1150.38 115.17 1151.02 120.78 1151.6 126.4C1152.18 132.02 1152.72 138.23 1153.4 145C1154.08 151.77 1154.93 160.43 1155.7 167C1156.47 173.57 1157.35 180.73 1158 184.4C1158.65 188.07 1159.15 190.73 1159.6 189C1160.05 187.27 1160.38 180.95 1160.7 174C1161.02 167.05 1161.25 149.3 1161.5 147.3C1161.75 145.3 1161.97 155.72 1162.2 162C1162.43 168.28 1162.67 177.83 1162.9 185C1163.13 192.17 1163.23 197.5 1163.6 205C1163.97 212.5 1164.27 220.83 1165.1 230C1165.93 239.17 1167.62 252.33 1168.6 260C1169.58 267.67 1170.33 273.17 1171 276C1171.67 278.83 1172.22 278 1172.6 277C1172.98 276 1173.08 271.83 1173.3 270C1173.52 268.17 1173.65 264.67 1173.9 266C1174.15 267.33 1174.52 273.83 1174.8 278C1175.08 282.17 1175.27 286.58 1175.6 291C1175.93 295.42 1176.33 301 1176.8 304.5C1177.27 308 1177.83 309.68 1178.4 312C1178.97 314.32 1179.33 316.18 1180.2 318.4C1181.07 320.62 1182.72 323.95 1183.6 325.3C1184.48 326.65 1184.92 325.72 1185.5 326.5C1186.08 327.28 1186.6 329.25 1187.1 330C1187.6 330.75 1188.02 330.13 1188.5 331C1188.98 331.87 1189.42 334.47 1190 335.2C1190.58 335.93 1191.32 335.22 1192 335.4C1192.68 335.58 1193.37 336.67 1194.1 336.3C1194.83 335.93 1195.82 334.58 1196.4 333.2C1196.98 331.82 1197.22 329.77 1197.6 328C1197.98 326.23 1198.35 322.77 1198.7 322.6C1199.05 322.43 1199.38 324.68 1199.7 327C1200.02 329.32 1200.18 334.75 1200.6 336.5C1201.02 338.25 1201.55 337.53 1202.2 337.5C1202.85 337.47 1203.73 335.82 1204.5 336.3C1205.27 336.78 1206.12 338.95 1206.8 340.4C1207.48 341.85 1208.07 344.07 1208.6 345C1209.13 345.93 1209.52 345.6 1210 346C1210.48 346.4 1210.97 346.4 1211.5 347.4C1212.03 348.4 1212.62 350.45 1213.2 352C1213.78 353.55 1214.32 355.43 1215 356.7C1215.68 357.97 1216.53 358.63 1217.3 359.6C1218.07 360.57 1218.83 362.18 1219.6 362.5C1220.37 362.82 1221.1 362.17 1221.9 361.5C1222.7 360.83 1223.48 360.08 1224.4 358.5C1225.32 356.92 1226.2 355.5 1227.4 352C1228.6 348.5 1230.17 344.33 1231.6 337.5C1233.03 330.67 1234.68 321.25 1236 311C1237.32 300.75 1238.33 289.5 1239.5 276C1240.67 262.5 1242.05 241.5 1243 230C1243.95 218.5 1244.47 213 1245.2 207C1245.93 201 1246.65 197.1 1247.4 194C1248.15 190.9 1248.83 187.57 1249.7 188.4C1250.57 189.23 1251.55 193.23 1252.6 199C1253.65 204.77 1254.95 216.17 1256 223C1257.05 229.83 1257.97 234.83 1258.9 240C1259.83 245.17 1260.88 249.67 1261.6 254C1262.32 258.33 1262.3 260.75 1263.2 266C1264.1 271.25 1265.7 280 1267 285.5C1268.3 291 1269.92 295.92 1271 299C1272.08 302.08 1272.65 301.17 1273.5 304C1274.35 306.83 1274.82 311.42 1276.1 316C1277.38 320.58 1279.88 328 1281.2 331.5C1282.52 335 1283.15 334.42 1284 337C1284.85 339.58 1285.08 343.33 1286.3 347C1287.52 350.67 1289.78 356 1291.3 359C1292.82 362 1294.03 364.58 1295.4 365C1296.77 365.42 1298.15 364 1299.5 361.5C1300.85 359 1302.32 354.08 1303.5 350C1304.68 345.92 1305.58 340.4 1306.6 337C1307.62 333.6 1308.6 329.93 1309.6 329.6C1310.6 329.27 1311.58 331.93 1312.6 335C1313.62 338.07 1314.52 343.25 1315.7 348C1316.88 352.75 1318.35 359.67 1319.7 363.5C1321.05 367.33 1322.75 369.42 1323.8 371C1324.85 372.58 1324.98 371.57 1326 373C1327.02 374.43 1328.48 378.33 1329.9 379.6C1331.32 380.87 1333.1 379.57 1334.5 380.6C1335.9 381.63 1337.13 385.57 1338.3 385.8C1339.47 386.03 1340.2 383.1 1341.5 382C1342.8 380.9 1344.35 378.87 1346.1 379.2C1347.85 379.53 1350.18 382.37 1352 384C1353.82 385.63 1355.43 387.9 1357 389C1358.57 390.1 1359.9 390.77 1361.4 390.6C1362.9 390.43 1364.23 389.17 1366 388C1367.77 386.83 1369.9 384.9 1372 383.6C1374.1 382.3 1376.43 380.3 1378.6 380.2C1380.77 380.1 1381.43 382.63 1385 383C1388.57 383.37 1392.5 382.3 1400 382.4C1407.5 382.5 1418.33 383.5 1430 383.6C1441.67 383.7 1458.57 383.37 1470 383C1481.43 382.63 1493.83 381.67 1498.6 381.4" fill="none" stroke="#000" stroke-width="2.8" stroke-linejoin="round"/>
<path d="M1125.8 406.3 V92.2" fill="none" stroke="#800080" stroke-width="3" stroke-dasharray="7.1 5.9"/>
<path d="M1153.3 406.3 V65.6" fill="none" stroke="#ff00ff" stroke-width="3" stroke-dasharray="7.1 5.9"/>
<path d="M1174.8 406.3 V207.5" fill="none" stroke="#808000" stroke-width="3" stroke-dasharray="7.1 5.9"/>
<path d="M836.8 384C855.67 383.97 917.8 383.93 950 383.8C982.2 383.67 1010 383.5 1030 383.2C1050 382.9 1060.53 382.4 1070 382C1079.47 381.6 1082.63 381.25 1086.8 380.8C1090.97 380.35 1092.75 379.85 1095 379.3C1097.25 378.75 1098.63 378.63 1100.3 377.5C1101.97 376.37 1103.63 374.92 1105 372.5C1106.37 370.08 1107.5 366.75 1108.5 363C1109.5 359.25 1110.13 355.17 1111 350C1111.87 344.83 1112.58 344.53 1113.7 332C1114.82 319.47 1116.58 295.52 1117.7 274.8C1118.82 254.08 1119.5 228.73 1120.4 207.7C1121.3 186.67 1122.23 162.53 1123.1 148.6C1123.97 134.67 1124.93 128.8 1125.6 124.1C1126.27 119.4 1126.48 119 1127.1 120.4C1127.72 121.8 1128.5 124.67 1129.3 132.5C1130.1 140.33 1130.92 156.67 1131.9 167.4C1132.88 178.13 1134.2 189.97 1135.2 196.9C1136.2 203.83 1137.1 207.65 1137.9 209C1138.7 210.35 1139.12 210.15 1140 205C1140.88 199.85 1142.13 188.85 1143.2 178.1C1144.27 167.35 1145.37 150.57 1146.4 140.5C1147.43 130.43 1148.45 122.4 1149.4 117.7C1150.35 113 1151.2 112.3 1152.1 112.3C1153 112.3 1153.88 113 1154.8 117.7C1155.72 122.4 1156.53 130.43 1157.6 140.5C1158.67 150.57 1159.95 163.18 1161.2 178.1C1162.45 193.02 1163.87 216.52 1165.1 230C1166.33 243.48 1167.45 250.3 1168.6 259C1169.75 267.7 1170.65 274.67 1172 282.2C1173.35 289.73 1174.95 298.2 1176.7 304.2C1178.45 310.2 1180.57 314.82 1182.5 318.2C1184.43 321.58 1186.37 322.97 1188.3 324.5C1190.23 326.03 1192.37 326.43 1194.1 327.4C1195.83 328.37 1197.15 328.75 1198.7 330.3C1200.25 331.85 1201.85 334.08 1203.4 336.7C1204.95 339.32 1206.47 342.9 1208 346C1209.53 349.1 1211.15 352.6 1212.6 355.3C1214.05 358 1215.43 360.65 1216.7 362.2C1217.97 363.75 1219.13 364.5 1220.2 364.6C1221.27 364.7 1222.03 364.35 1223.1 362.8C1224.17 361.25 1225.25 359.27 1226.6 355.3C1227.95 351.33 1229.67 346.35 1231.2 339C1232.73 331.65 1234.45 321.63 1235.8 311.2C1237.15 300.77 1238.13 289.93 1239.3 276.4C1240.47 262.87 1241.82 241.4 1242.8 230C1243.78 218.6 1244.42 213.67 1245.2 208C1245.98 202.33 1246.75 198.4 1247.5 196C1248.25 193.6 1248.88 192.82 1249.7 193.6C1250.52 194.38 1251.38 196.13 1252.4 200.7C1253.42 205.27 1254.72 214.23 1255.8 221C1256.88 227.77 1257.72 233.85 1258.9 241.3C1260.08 248.75 1261.55 258.58 1262.9 265.7C1264.25 272.82 1265.65 278.58 1267 284C1268.35 289.42 1269.48 293.13 1271 298.2C1272.52 303.27 1274.4 309 1276.1 314.4C1277.8 319.8 1279.5 325.35 1281.2 330.6C1282.9 335.85 1284.62 341.33 1286.3 345.9C1287.98 350.47 1289.78 354.97 1291.3 358C1292.82 361.03 1294.03 363.58 1295.4 364.1C1296.77 364.62 1298.15 363.47 1299.5 361.1C1300.85 358.73 1302.32 353.8 1303.5 349.9C1304.68 346 1305.58 340.82 1306.6 337.7C1307.62 334.58 1308.6 331.53 1309.6 331.2C1310.6 330.87 1311.58 332.92 1312.6 335.7C1313.62 338.48 1314.52 343.33 1315.7 347.9C1316.88 352.47 1318.35 359.05 1319.7 363.1C1321.05 367.15 1322.1 369.48 1323.8 372.2C1325.5 374.92 1327.53 377.7 1329.9 379.4C1332.27 381.1 1334.28 381.73 1338 382.4C1341.72 383.07 1341.87 383.18 1352.2 383.4C1362.53 383.62 1375.6 383.63 1400 383.7C1424.4 383.77 1482.17 383.78 1498.6 383.8" fill="none" stroke="#ff0000" stroke-width="3" stroke-linejoin="round"/>
</g>
<rect x="836.8" y="23.2" width="661.8" height="397.1" fill="none" stroke="#000" stroke-width="3"/>
<line x1="836.8" y1="420.3" x2="836.8" y2="432.1" stroke="#000" stroke-width="3" />
<text x="836.6" y="459.6" font-family='"Liberation Sans", sans-serif' font-size="25.6" text-anchor="middle" fill="#000" stroke="#000" stroke-width="0.35" >2000</text>
<line x1="910.39" y1="420.3" x2="910.39" y2="426.7" stroke="#000" stroke-width="3" />
<line x1="983.97" y1="420.3" x2="983.97" y2="432.1" stroke="#000" stroke-width="3" />
<text x="983.77" y="459.6" font-family='"Liberation Sans", sans-serif' font-size="25.6" text-anchor="middle" fill="#000" stroke="#000" stroke-width="0.35" >1800</text>
<line x1="1057.56" y1="420.3" x2="1057.56" y2="426.7" stroke="#000" stroke-width="3" />
<line x1="1131.15" y1="420.3" x2="1131.15" y2="432.1" stroke="#000" stroke-width="3" />
<text x="1130.95" y="459.6" font-family='"Liberation Sans", sans-serif' font-size="25.6" text-anchor="middle" fill="#000" stroke="#000" stroke-width="0.35" >1600</text>
<line x1="1204.74" y1="420.3" x2="1204.74" y2="426.7" stroke="#000" stroke-width="3" />
<line x1="1278.32" y1="420.3" x2="1278.32" y2="432.1" stroke="#000" stroke-width="3" />
<text x="1278.12" y="459.6" font-family='"Liberation Sans", sans-serif' font-size="25.6" text-anchor="middle" fill="#000" stroke="#000" stroke-width="0.35" >1400</text>
<line x1="1351.91" y1="420.3" x2="1351.91" y2="426.7" stroke="#000" stroke-width="3" />
<line x1="1425.5" y1="420.3" x2="1425.5" y2="432.1" stroke="#000" stroke-width="3" />
<text x="1425.3" y="459.6" font-family='"Liberation Sans", sans-serif' font-size="25.6" text-anchor="middle" fill="#000" stroke="#000" stroke-width="0.35" >1200</text>
<text x="786.3" y="16.6" font-family='"Liberation Sans", sans-serif' font-size="30.5" text-anchor="start" fill="#000" font-weight="bold" >c</text>
<text x="1169" y="505.6" font-family='"Liberation Sans", sans-serif' font-size="25.9" text-anchor="middle" fill="#000" stroke="#000" stroke-width="0.35" >Wavenumber (cm<tspan font-size="16.2" dy="-10.8">-1</tspan><tspan dy="10.8" font-size="1">&#8203;</tspan>)</text>
<text transform="translate(808.4,219) rotate(-90)" font-family='"Liberation Sans", sans-serif' font-size="26.1" text-anchor="middle" stroke="#000" stroke-width="0.35">Kubelka-Munk (arb. u.)</text>
<text x="844.3" y="55.2" font-family='"Liberation Sans", sans-serif' font-size="25.6" text-anchor="start" fill="#000" stroke="#000" stroke-width="0.35" >PdOAc/SiO<tspan font-size="17" dy="6.5">2</tspan><tspan dy="-6.5" font-size="1">&#8203;</tspan></text>
<text x="1072.4" y="85.6" font-family='"Liberation Sans", sans-serif' font-size="25.6" text-anchor="start" fill="#800080" stroke="#800080" stroke-width="0.35" >1610</text>
<text x="1145.6" y="54.6" font-family='"Liberation Sans", sans-serif' font-size="25.6" text-anchor="start" fill="#ff00ff" stroke="#ff00ff" stroke-width="0.35" >1570</text>
<text x="1172" y="203.8" font-family='"Liberation Sans", sans-serif' font-size="25.6" text-anchor="start" fill="#808000" stroke="#808000" stroke-width="0.35" >1545</text>
<text x="912" y="118.4" font-family='"Liberation Sans", sans-serif' font-size="25.6" text-anchor="start" fill="#000" stroke="#000" stroke-width="0.35" ><tspan font-family='"Liberation Serif", serif' font-style="italic" font-size="27" letter-spacing="-2.2">&#957;</tspan><tspan font-size="17" dy="6">as</tspan><tspan dy="-6" font-size="1">&#8203;</tspan>(COO)</text>
<text x="1330.5" y="149.6" font-family='"Liberation Sans", sans-serif' font-size="25.6" text-anchor="start" fill="#000" stroke="#000" stroke-width="0.35" ><tspan font-family='"Liberation Serif", serif' font-style="italic" font-size="27" letter-spacing="-2.2">&#957;</tspan><tspan font-size="17" dy="6">s</tspan><tspan dy="-6" font-size="1">&#8203;</tspan>(COO)</text>
<text x="1362.6" y="264.2" font-family='"Liberation Sans", sans-serif' font-size="25.6" text-anchor="start" fill="#000" stroke="#000" stroke-width="0.35" ><tspan font-family='"Liberation Serif", serif' font-style="italic" font-size="27" letter-spacing="-1.5">&#948;</tspan>(CH<tspan font-size="17" dy="6.5">3</tspan><tspan dy="-6.5" font-size="1">&#8203;</tspan>)</text>
<line x1="1028" y1="114.7" x2="1094.96" y2="148.6" stroke="#000" stroke-width="2" /><polygon points="1107,154.7 1091.14,151.71 1095.2,143.68" fill="#000"/>
<line x1="1319.4" y1="149.5" x2="1273.5" y2="188.37" stroke="#000" stroke-width="2" /><polygon points="1263.2,197.1 1272.12,183.65 1277.94,190.52" fill="#000"/>
<line x1="1354.5" y1="272.1" x2="1326.45" y2="315.28" stroke="#000" stroke-width="2" /><polygon points="1319.1,326.6 1323.77,311.15 1331.32,316.05" fill="#000"/>
<clipPath id="cd"><rect x="837" y="585.8" width="663" height="397.7"/></clipPath>
<g clip-path="url(#cd)">
<path d="M837 949.2L838 949.2L839 949.2L840 949.2L841 949.2L842 949.2L843 949.2L844 949.2L845 949.2L846 949.2L847 949.2L848 949.2L849 949.2L850 949.2L851 949.2L852 949.2L853 949.2L854 949.2L855 949.2L856 949.2L857 949.2L858 949.2L859 949.2L860 949.2L861 949.2L862 949.2L863 949.2L864 949.2L865 949.2L866 949.2L867 949.2L868 949.2L869 949.2L870 949.2L871 949.2L872 949.2L873 949.2L874 949.2L875 949.2L876 949.2L877 949.2L878 949.2L879 949.2L880 949.2L881 949.2L882 949.2L883 949.2L884 949.2L885 949.2L886 949.2L887 949.2L888 949.2L889 949.2L890 949.2L891 949.2L892 949.2L893 949.2L894 949.2L895 949.2L896 949.2L897 949.2L898 949.2L899 949.2L900 949.2L901 949.2L902 949.2L903 949.2L904 949.2L905 949.2L906 949.2L907 949.2L908 949.2L909 949.2L910 949.2L911 949.2L912 949.2L913 949.2L914 949.2L915 949.2L916 949.2L917 949.2L918 949.2L919 949.2L920 949.2L921 949.2L922 949.2L923 949.2L924 949.2L925 949.2L926 949.2L927 949.2L928 949.2L929 949.2L930 949.2L931 949.2L932 949.2L933 949.2L934 949.2L935 949.2L936 949.2L937 949.2L938 949.2L939 949.2L940 949.2L941 949.2L942 949.2L943 949.2L944 949.2L945 949.2L946 949.2L947 949.2L948 949.2L949 949.2L950 949.2L951 949.2L952 949.2L953 949.2L954 949.2L955 949.2L956 949.2L957 949.2L958 949.2L959 949.2L960 949.2L961 949.2L962 949.2L963 949.2L964 949.2L965 949.2L966 949.2L967 949.2L968 949.2L969 949.2L970 949.2L971 949.2L972 949.2L973 949.2L974 949.2L975 949.2L976 949.2L977 949.2L978 949.2L979 949.2L980 949.2L981 949.2L982 949.2L983 949.2L984 949.2L985 949.2L986 949.2L987 949.2L988 949.2L989 949.2L990 949.2L991 949.2L992 949.2L993 949.2L994 949.2L995 949.2L996 949.2L997 949.2L998 949.2L999 949.2L1000 949.2L1001 949.2L1002 949.2L1003 949.2L1004 949.2L1005 949.2L1006 949.2L1007 949.2L1008 949.2L1009 949.2L1010 949.2L1011 949.2L1012 949.2L1013 949.2L1014 949.2L1015 949.2L1016 949.2L1017 949.2L1018 949.2L1019 949.2L1020 949.2L1021 949.2L1022 949.2L1023 949.2L1024 949.2L1025 949.2L1026 949.2L1027 949.2L1028 949.2L1029 949.2L1030 949.2L1031 949.2L1032 949.2L1033 949.19L1034 949.19L1035 949.19L1036 949.19L1037 949.18L1038 949.18L1039 949.17L1040 949.16L1041 949.15L1042 949.14L1043 949.12L1044 949.1L1045 949.07L1046 949.04L1047 949L1048 948.95L1049 948.88L1050 948.8L1051 948.71L1052 948.59L1053 948.46L1054 948.29L1055 948.09L1056 947.85L1057 947.57L1058 947.23L1059 946.84L1060 946.38L1061 945.85L1062 945.23L1063 944.51L1064 943.69L1065 942.75L1066 941.68L1067 940.47L1068 939.11L1069 937.58L1070 935.88L1071 933.99L1072 931.9L1073 929.6L1074 927.1L1075 924.37L1076 921.42L1077 918.25L1078 914.86L1079 911.26L1080 907.44L1081 903.44L1082 899.25L1083 894.9L1084 890.42L1085 885.83L1086 881.16L1087 876.45L1088 871.73L1089 867.04L1090 862.43L1091 857.93L1092 853.59L1093 849.46L1094 845.57L1095 841.98L1096 838.71L1097 835.81L1098 833.32L1099 831.25L1100 829.64L1101 828.51L1102 827.86L1103 827.71L1104 828.17L1105 829.28L1106 831.02L1107 833.36L1108 836.26L1109 839.69L1110 843.59L1111 847.89L1112 852.55L1113 857.49L1114 862.64L1115 867.95L1116 873.34L1117 878.76L1118 884.14L1119 889.43L1120 894.59L1121 899.58L1122 904.35L1123 908.88L1124 913.15L1125 917.14L1126 920.84L1127 924.25L1128 927.37L1129 930.2L1130 932.76L1131 935.04L1132 937.08L1133 938.88L1134 940.46L1135 941.83L1136 943.03L1137 944.05L1138 944.94L1139 945.68L1140 946.32L1141 946.85L1142 947.29L1143 947.66L1144 947.96L1145 948.21L1146 948.42L1147 948.58L1148 948.71L1149 948.82L1150 948.91L1151 948.97L1152 949.03L1153 949.07L1154 949.1L1155 949.12L1156 949.14L1157 949.16L1158 949.17L1159 949.18L1160 949.18L1161 949.19L1162 949.19L1163 949.19L1164 949.2L1165 949.2L1166 949.2L1167 949.2L1168 949.2L1169 949.2L1170 949.2L1171 949.2L1172 949.2L1173 949.2L1174 949.2L1175 949.2L1176 949.2L1177 949.2L1178 949.2L1179 949.2L1180 949.2L1181 949.2L1182 949.2L1183 949.2L1184 949.2L1185 949.2L1186 949.2L1187 949.2L1188 949.2L1189 949.2L1190 949.2L1191 949.2L1192 949.2L1193 949.2L1194 949.2L1195 949.2L1196 949.2L1197 949.2L1198 949.2L1199 949.2L1200 949.2L1201 949.2L1202 949.2L1203 949.2L1204 949.2L1205 949.2L1206 949.2L1207 949.2L1208 949.2L1209 949.2L1210 949.2L1211 949.2L1212 949.2L1213 949.2L1214 949.2L1215 949.2L1216 949.2L1217 949.2L1218 949.2L1219 949.2L1220 949.2L1221 949.2L1222 949.2L1223 949.2L1224 949.2L1225 949.2L1226 949.2L1227 949.2L1228 949.2L1229 949.2L1230 949.2L1231 949.2L1232 949.2L1233 949.2L1234 949.2L1235 949.2L1236 949.2L1237 949.2L1238 949.2L1239 949.2L1240 949.2L1241 949.2L1242 949.2L1243 949.2L1244 949.2L1245 949.2L1246 949.2L1247 949.2L1248 949.2L1249 949.2L1250 949.2L1251 949.2L1252 949.2L1253 949.2L1254 949.2L1255 949.2L1256 949.2L1257 949.2L1258 949.2L1259 949.2L1260 949.2L1261 949.2L1262 949.2L1263 949.2L1264 949.2L1265 949.2L1266 949.2L1267 949.2L1268 949.2L1269 949.2L1270 949.2L1271 949.2L1272 949.2L1273 949.2L1274 949.2L1275 949.2L1276 949.2L1277 949.2L1278 949.2L1279 949.2L1280 949.2L1281 949.2L1282 949.2L1283 949.2L1284 949.2L1285 949.2L1286 949.2L1287 949.2L1288 949.2L1289 949.2L1290 949.2L1291 949.2L1292 949.2L1293 949.2L1294 949.2L1295 949.2L1296 949.2L1297 949.2L1298 949.2L1299 949.2L1300 949.2L1301 949.2L1302 949.2L1303 949.2L1304 949.2L1305 949.2L1306 949.2L1307 949.2L1308 949.2L1309 949.2L1310 949.2L1311 949.2L1312 949.2L1313 949.2L1314 949.2L1315 949.2L1316 949.2L1317 949.2L1318 949.2L1319 949.2L1320 949.2L1321 949.2L1322 949.2L1323 949.2L1324 949.2L1325 949.2L1326 949.2L1327 949.2L1328 949.2L1329 949.2L1330 949.2L1331 949.2L1332 949.2L1333 949.2L1334 949.2L1335 949.2L1336 949.2L1337 949.2L1338 949.2L1339 949.2L1340 949.2L1341 949.2L1342 949.2L1343 949.2L1344 949.2L1345 949.2L1346 949.2L1347 949.2L1348 949.2L1349 949.2L1350 949.2L1351 949.2L1352 949.2L1353 949.2L1354 949.2L1355 949.2L1356 949.2L1357 949.2L1358 949.2L1359 949.2L1360 949.2L1361 949.2L1362 949.2L1363 949.2L1364 949.2L1365 949.2L1366 949.2L1367 949.2L1368 949.2L1369 949.2L1370 949.2L1371 949.2L1372 949.2L1373 949.2L1374 949.2L1375 949.2L1376 949.2L1377 949.2L1378 949.2L1379 949.2L1380 949.2L1381 949.2L1382 949.2L1383 949.2L1384 949.2L1385 949.2L1386 949.2L1387 949.2L1388 949.2L1389 949.2L1390 949.2L1391 949.2L1392 949.2L1393 949.2L1394 949.2L1395 949.2L1396 949.2L1397 949.2L1398 949.2L1399 949.2L1400 949.2L1401 949.2L1402 949.2L1403 949.2L1404 949.2L1405 949.2L1406 949.2L1407 949.2L1408 949.2L1409 949.2L1410 949.2L1411 949.2L1412 949.2L1413 949.2L1414 949.2L1415 949.2L1416 949.2L1417 949.2L1418 949.2L1419 949.2L1420 949.2L1421 949.2L1422 949.2L1423 949.2L1424 949.2L1425 949.2L1426 949.2L1427 949.2L1428 949.2L1429 949.2L1430 949.2L1431 949.2L1432 949.2L1433 949.2L1434 949.2L1435 949.2L1436 949.2L1437 949.2L1438 949.2L1439 949.2L1440 949.2L1441 949.2L1442 949.2L1443 949.2L1444 949.2L1445 949.2L1446 949.2L1447 949.2L1448 949.2L1449 949.2L1450 949.2L1451 949.2L1452 949.2L1453 949.2L1454 949.2L1455 949.2L1456 949.2L1457 949.2L1458 949.2L1459 949.2L1460 949.2L1461 949.2L1462 949.2L1463 949.2L1464 949.2L1465 949.2L1466 949.2L1467 949.2L1468 949.2L1469 949.2L1470 949.2L1471 949.2L1472 949.2L1473 949.2L1474 949.2L1475 949.2L1476 949.2L1477 949.2L1478 949.2L1479 949.2L1480 949.2L1481 949.2L1482 949.2L1483 949.2L1484 949.2L1485 949.2L1486 949.2L1487 949.2L1488 949.2L1489 949.2L1490 949.2L1491 949.2L1492 949.2L1493 949.2L1494 949.2L1495 949.2L1496 949.2L1497 949.2L1498 949.2L1499 949.2L1500 949.2 L1500 949.2 L837 949.2 Z" fill="#ff8000" fill-opacity="0.4" stroke="none"/>
<path d="M837 949.2L838 949.2L839 949.2L840 949.2L841 949.2L842 949.2L843 949.2L844 949.2L845 949.2L846 949.2L847 949.2L848 949.2L849 949.2L850 949.2L851 949.2L852 949.2L853 949.2L854 949.2L855 949.2L856 949.2L857 949.2L858 949.2L859 949.2L860 949.2L861 949.2L862 949.2L863 949.2L864 949.2L865 949.2L866 949.2L867 949.2L868 949.2L869 949.2L870 949.2L871 949.2L872 949.2L873 949.2L874 949.2L875 949.2L876 949.2L877 949.2L878 949.2L879 949.2L880 949.2L881 949.2L882 949.2L883 949.2L884 949.2L885 949.2L886 949.2L887 949.2L888 949.2L889 949.2L890 949.2L891 949.2L892 949.2L893 949.2L894 949.2L895 949.2L896 949.2L897 949.2L898 949.2L899 949.2L900 949.2L901 949.2L902 949.2L903 949.2L904 949.2L905 949.2L906 949.2L907 949.2L908 949.2L909 949.2L910 949.2L911 949.2L912 949.2L913 949.2L914 949.2L915 949.2L916 949.2L917 949.2L918 949.2L919 949.2L920 949.2L921 949.2L922 949.2L923 949.2L924 949.2L925 949.2L926 949.2L927 949.2L928 949.2L929 949.2L930 949.2L931 949.2L932 949.2L933 949.2L934 949.2L935 949.2L936 949.2L937 949.2L938 949.2L939 949.2L940 949.2L941 949.2L942 949.2L943 949.2L944 949.2L945 949.2L946 949.2L947 949.2L948 949.2L949 949.2L950 949.2L951 949.2L952 949.2L953 949.2L954 949.2L955 949.2L956 949.2L957 949.2L958 949.2L959 949.2L960 949.2L961 949.2L962 949.2L963 949.2L964 949.2L965 949.2L966 949.2L967 949.2L968 949.2L969 949.2L970 949.2L971 949.2L972 949.2L973 949.2L974 949.2L975 949.2L976 949.2L977 949.2L978 949.2L979 949.2L980 949.2L981 949.2L982 949.2L983 949.2L984 949.2L985 949.2L986 949.2L987 949.2L988 949.2L989 949.2L990 949.2L991 949.2L992 949.2L993 949.2L994 949.2L995 949.2L996 949.2L997 949.2L998 949.2L999 949.2L1000 949.2L1001 949.2L1002 949.2L1003 949.2L1004 949.2L1005 949.2L1006 949.2L1007 949.2L1008 949.2L1009 949.2L1010 949.2L1011 949.2L1012 949.2L1013 949.2L1014 949.2L1015 949.2L1016 949.2L1017 949.2L1018 949.2L1019 949.2L1020 949.2L1021 949.2L1022 949.2L1023 949.2L1024 949.2L1025 949.2L1026 949.2L1027 949.2L1028 949.2L1029 949.2L1030 949.2L1031 949.2L1032 949.2L1033 949.19L1034 949.19L1035 949.19L1036 949.19L1037 949.18L1038 949.18L1039 949.17L1040 949.16L1041 949.15L1042 949.14L1043 949.12L1044 949.1L1045 949.07L1046 949.04L1047 949L1048 948.95L1049 948.88L1050 948.8L1051 948.71L1052 948.59L1053 948.46L1054 948.29L1055 948.09L1056 947.85L1057 947.57L1058 947.23L1059 946.84L1060 946.38L1061 945.85L1062 945.23L1063 944.51L1064 943.69L1065 942.75L1066 941.68L1067 940.47L1068 939.11L1069 937.58L1070 935.88L1071 933.99L1072 931.9L1073 929.6L1074 927.1L1075 924.37L1076 921.42L1077 918.25L1078 914.86L1079 911.26L1080 907.44L1081 903.44L1082 899.25L1083 894.9L1084 890.42L1085 885.83L1086 881.16L1087 876.45L1088 871.73L1089 867.04L1090 862.43L1091 857.93L1092 853.59L1093 849.46L1094 845.57L1095 841.98L1096 838.71L1097 835.81L1098 833.32L1099 831.25L1100 829.64L1101 828.51L1102 827.86L1103 827.71L1104 828.17L1105 829.28L1106 831.02L1107 833.36L1108 836.26L1109 839.69L1110 843.59L1111 847.89L1112 852.55L1113 857.49L1114 862.64L1115 867.95L1116 873.34L1117 878.76L1118 884.14L1119 889.43L1120 894.59L1121 899.58L1122 904.35L1123 908.88L1124 913.15L1125 917.14L1126 920.84L1127 924.25L1128 927.37L1129 930.2L1130 932.76L1131 935.04L1132 937.08L1133 938.88L1134 940.46L1135 941.83L1136 943.03L1137 944.05L1138 944.94L1139 945.68L1140 946.32L1141 946.85L1142 947.29L1143 947.66L1144 947.96L1145 948.21L1146 948.42L1147 948.58L1148 948.71L1149 948.82L1150 948.91L1151 948.97L1152 949.03L1153 949.07L1154 949.1L1155 949.12L1156 949.14L1157 949.16L1158 949.17L1159 949.18L1160 949.18L1161 949.19L1162 949.19L1163 949.19L1164 949.2L1165 949.2L1166 949.2L1167 949.2L1168 949.2L1169 949.2L1170 949.2L1171 949.2L1172 949.2L1173 949.2L1174 949.2L1175 949.2L1176 949.2L1177 949.2L1178 949.2L1179 949.2L1180 949.2L1181 949.2L1182 949.2L1183 949.2L1184 949.2L1185 949.2L1186 949.2L1187 949.2L1188 949.2L1189 949.2L1190 949.2L1191 949.2L1192 949.2L1193 949.2L1194 949.2L1195 949.2L1196 949.2L1197 949.2L1198 949.2L1199 949.2L1200 949.2L1201 949.2L1202 949.2L1203 949.2L1204 949.2L1205 949.2L1206 949.2L1207 949.2L1208 949.2L1209 949.2L1210 949.2L1211 949.2L1212 949.2L1213 949.2L1214 949.2L1215 949.2L1216 949.2L1217 949.2L1218 949.2L1219 949.2L1220 949.2L1221 949.2L1222 949.2L1223 949.2L1224 949.2L1225 949.2L1226 949.2L1227 949.2L1228 949.2L1229 949.2L1230 949.2L1231 949.2L1232 949.2L1233 949.2L1234 949.2L1235 949.2L1236 949.2L1237 949.2L1238 949.2L1239 949.2L1240 949.2L1241 949.2L1242 949.2L1243 949.2L1244 949.2L1245 949.2L1246 949.2L1247 949.2L1248 949.2L1249 949.2L1250 949.2L1251 949.2L1252 949.2L1253 949.2L1254 949.2L1255 949.2L1256 949.2L1257 949.2L1258 949.2L1259 949.2L1260 949.2L1261 949.2L1262 949.2L1263 949.2L1264 949.2L1265 949.2L1266 949.2L1267 949.2L1268 949.2L1269 949.2L1270 949.2L1271 949.2L1272 949.2L1273 949.2L1274 949.2L1275 949.2L1276 949.2L1277 949.2L1278 949.2L1279 949.2L1280 949.2L1281 949.2L1282 949.2L1283 949.2L1284 949.2L1285 949.2L1286 949.2L1287 949.2L1288 949.2L1289 949.2L1290 949.2L1291 949.2L1292 949.2L1293 949.2L1294 949.2L1295 949.2L1296 949.2L1297 949.2L1298 949.2L1299 949.2L1300 949.2L1301 949.2L1302 949.2L1303 949.2L1304 949.2L1305 949.2L1306 949.2L1307 949.2L1308 949.2L1309 949.2L1310 949.2L1311 949.2L1312 949.2L1313 949.2L1314 949.2L1315 949.2L1316 949.2L1317 949.2L1318 949.2L1319 949.2L1320 949.2L1321 949.2L1322 949.2L1323 949.2L1324 949.2L1325 949.2L1326 949.2L1327 949.2L1328 949.2L1329 949.2L1330 949.2L1331 949.2L1332 949.2L1333 949.2L1334 949.2L1335 949.2L1336 949.2L1337 949.2L1338 949.2L1339 949.2L1340 949.2L1341 949.2L1342 949.2L1343 949.2L1344 949.2L1345 949.2L1346 949.2L1347 949.2L1348 949.2L1349 949.2L1350 949.2L1351 949.2L1352 949.2L1353 949.2L1354 949.2L1355 949.2L1356 949.2L1357 949.2L1358 949.2L1359 949.2L1360 949.2L1361 949.2L1362 949.2L1363 949.2L1364 949.2L1365 949.2L1366 949.2L1367 949.2L1368 949.2L1369 949.2L1370 949.2L1371 949.2L1372 949.2L1373 949.2L1374 949.2L1375 949.2L1376 949.2L1377 949.2L1378 949.2L1379 949.2L1380 949.2L1381 949.2L1382 949.2L1383 949.2L1384 949.2L1385 949.2L1386 949.2L1387 949.2L1388 949.2L1389 949.2L1390 949.2L1391 949.2L1392 949.2L1393 949.2L1394 949.2L1395 949.2L1396 949.2L1397 949.2L1398 949.2L1399 949.2L1400 949.2L1401 949.2L1402 949.2L1403 949.2L1404 949.2L1405 949.2L1406 949.2L1407 949.2L1408 949.2L1409 949.2L1410 949.2L1411 949.2L1412 949.2L1413 949.2L1414 949.2L1415 949.2L1416 949.2L1417 949.2L1418 949.2L1419 949.2L1420 949.2L1421 949.2L1422 949.2L1423 949.2L1424 949.2L1425 949.2L1426 949.2L1427 949.2L1428 949.2L1429 949.2L1430 949.2L1431 949.2L1432 949.2L1433 949.2L1434 949.2L1435 949.2L1436 949.2L1437 949.2L1438 949.2L1439 949.2L1440 949.2L1441 949.2L1442 949.2L1443 949.2L1444 949.2L1445 949.2L1446 949.2L1447 949.2L1448 949.2L1449 949.2L1450 949.2L1451 949.2L1452 949.2L1453 949.2L1454 949.2L1455 949.2L1456 949.2L1457 949.2L1458 949.2L1459 949.2L1460 949.2L1461 949.2L1462 949.2L1463 949.2L1464 949.2L1465 949.2L1466 949.2L1467 949.2L1468 949.2L1469 949.2L1470 949.2L1471 949.2L1472 949.2L1473 949.2L1474 949.2L1475 949.2L1476 949.2L1477 949.2L1478 949.2L1479 949.2L1480 949.2L1481 949.2L1482 949.2L1483 949.2L1484 949.2L1485 949.2L1486 949.2L1487 949.2L1488 949.2L1489 949.2L1490 949.2L1491 949.2L1492 949.2L1493 949.2L1494 949.2L1495 949.2L1496 949.2L1497 949.2L1498 949.2L1499 949.2L1500 949.2" fill="none" stroke="#ff8000" stroke-width="2.8"/>
<path d="M837 949.2L838 949.2L839 949.2L840 949.2L841 949.2L842 949.2L843 949.2L844 949.2L845 949.2L846 949.2L847 949.2L848 949.2L849 949.2L850 949.2L851 949.2L852 949.2L853 949.2L854 949.2L855 949.2L856 949.2L857 949.2L858 949.2L859 949.2L860 949.2L861 949.2L862 949.2L863 949.2L864 949.2L865 949.2L866 949.2L867 949.2L868 949.2L869 949.2L870 949.2L871 949.2L872 949.2L873 949.2L874 949.2L875 949.2L876 949.2L877 949.2L878 949.2L879 949.2L880 949.2L881 949.2L882 949.2L883 949.2L884 949.2L885 949.2L886 949.2L887 949.2L888 949.2L889 949.2L890 949.2L891 949.2L892 949.2L893 949.2L894 949.2L895 949.2L896 949.2L897 949.2L898 949.2L899 949.2L900 949.2L901 949.2L902 949.2L903 949.2L904 949.2L905 949.2L906 949.2L907 949.2L908 949.2L909 949.2L910 949.2L911 949.2L912 949.2L913 949.2L914 949.2L915 949.2L916 949.2L917 949.2L918 949.2L919 949.2L920 949.2L921 949.2L922 949.2L923 949.2L924 949.2L925 949.2L926 949.2L927 949.2L928 949.2L929 949.2L930 949.2L931 949.2L932 949.2L933 949.2L934 949.2L935 949.2L936 949.2L937 949.2L938 949.2L939 949.2L940 949.2L941 949.2L942 949.2L943 949.2L944 949.2L945 949.2L946 949.2L947 949.2L948 949.2L949 949.2L950 949.2L951 949.2L952 949.2L953 949.2L954 949.2L955 949.2L956 949.2L957 949.2L958 949.2L959 949.2L960 949.2L961 949.2L962 949.2L963 949.2L964 949.2L965 949.2L966 949.2L967 949.2L968 949.2L969 949.2L970 949.2L971 949.2L972 949.2L973 949.2L974 949.2L975 949.2L976 949.2L977 949.2L978 949.2L979 949.2L980 949.2L981 949.2L982 949.2L983 949.2L984 949.2L985 949.2L986 949.2L987 949.2L988 949.2L989 949.2L990 949.2L991 949.2L992 949.2L993 949.2L994 949.2L995 949.2L996 949.2L997 949.2L998 949.2L999 949.2L1000 949.2L1001 949.2L1002 949.2L1003 949.2L1004 949.2L1005 949.2L1006 949.2L1007 949.2L1008 949.2L1009 949.2L1010 949.2L1011 949.2L1012 949.2L1013 949.2L1014 949.2L1015 949.2L1016 949.2L1017 949.2L1018 949.2L1019 949.2L1020 949.2L1021 949.2L1022 949.2L1023 949.2L1024 949.2L1025 949.2L1026 949.2L1027 949.2L1028 949.2L1029 949.2L1030 949.2L1031 949.2L1032 949.2L1033 949.2L1034 949.2L1035 949.2L1036 949.2L1037 949.2L1038 949.2L1039 949.2L1040 949.2L1041 949.2L1042 949.2L1043 949.2L1044 949.2L1045 949.2L1046 949.2L1047 949.2L1048 949.2L1049 949.2L1050 949.2L1051 949.2L1052 949.2L1053 949.2L1054 949.2L1055 949.2L1056 949.2L1057 949.2L1058 949.2L1059 949.2L1060 949.2L1061 949.2L1062 949.2L1063 949.2L1064 949.2L1065 949.2L1066 949.2L1067 949.2L1068 949.2L1069 949.2L1070 949.2L1071 949.2L1072 949.2L1073 949.2L1074 949.2L1075 949.2L1076 949.2L1077 949.2L1078 949.2L1079 949.2L1080 949.2L1081 949.2L1082 949.2L1083 949.2L1084 949.2L1085 949.2L1086 949.2L1087 949.2L1088 949.2L1089 949.2L1090 949.2L1091 949.2L1092 949.2L1093 949.2L1094 949.2L1095 949.19L1096 949.19L1097 949.18L1098 949.16L1099 949.13L1100 949.08L1101 948.99L1102 948.85L1103 948.63L1104 948.3L1105 947.8L1106 947.07L1107 946.03L1108 944.58L1109 942.61L1110 940.01L1111 936.65L1112 932.43L1113 927.27L1114 921.14L1115 914.06L1116 906.14L1117 897.56L1118 888.6L1119 879.61L1120 870.99L1121 863.18L1122 856.61L1123 851.68L1124 848.68L1125 847.81L1126 849.12L1127 852.52L1128 857.81L1129 864.65L1130 872.66L1131 881.39L1132 890.41L1133 899.32L1134 907.79L1135 915.55L1136 922.44L1137 928.38L1138 933.35L1139 937.39L1140 940.58L1141 943.05L1142 944.91L1143 946.27L1144 947.24L1145 947.92L1146 948.38L1147 948.68L1148 948.88L1149 949.01L1150 949.09L1151 949.14L1152 949.16L1153 949.18L1154 949.19L1155 949.19L1156 949.2L1157 949.2L1158 949.2L1159 949.2L1160 949.2L1161 949.2L1162 949.2L1163 949.2L1164 949.2L1165 949.2L1166 949.2L1167 949.2L1168 949.2L1169 949.2L1170 949.2L1171 949.2L1172 949.2L1173 949.2L1174 949.2L1175 949.2L1176 949.2L1177 949.2L1178 949.2L1179 949.2L1180 949.2L1181 949.2L1182 949.2L1183 949.2L1184 949.2L1185 949.2L1186 949.2L1187 949.2L1188 949.2L1189 949.2L1190 949.2L1191 949.2L1192 949.2L1193 949.2L1194 949.2L1195 949.2L1196 949.2L1197 949.2L1198 949.2L1199 949.2L1200 949.2L1201 949.2L1202 949.2L1203 949.2L1204 949.2L1205 949.2L1206 949.2L1207 949.2L1208 949.2L1209 949.2L1210 949.2L1211 949.2L1212 949.2L1213 949.2L1214 949.2L1215 949.2L1216 949.2L1217 949.2L1218 949.2L1219 949.2L1220 949.2L1221 949.2L1222 949.2L1223 949.2L1224 949.2L1225 949.2L1226 949.2L1227 949.2L1228 949.2L1229 949.2L1230 949.2L1231 949.2L1232 949.2L1233 949.2L1234 949.2L1235 949.2L1236 949.2L1237 949.2L1238 949.2L1239 949.2L1240 949.2L1241 949.2L1242 949.2L1243 949.2L1244 949.2L1245 949.2L1246 949.2L1247 949.2L1248 949.2L1249 949.2L1250 949.2L1251 949.2L1252 949.2L1253 949.2L1254 949.2L1255 949.2L1256 949.2L1257 949.2L1258 949.2L1259 949.2L1260 949.2L1261 949.2L1262 949.2L1263 949.2L1264 949.2L1265 949.2L1266 949.2L1267 949.2L1268 949.2L1269 949.2L1270 949.2L1271 949.2L1272 949.2L1273 949.2L1274 949.2L1275 949.2L1276 949.2L1277 949.2L1278 949.2L1279 949.2L1280 949.2L1281 949.2L1282 949.2L1283 949.2L1284 949.2L1285 949.2L1286 949.2L1287 949.2L1288 949.2L1289 949.2L1290 949.2L1291 949.2L1292 949.2L1293 949.2L1294 949.2L1295 949.2L1296 949.2L1297 949.2L1298 949.2L1299 949.2L1300 949.2L1301 949.2L1302 949.2L1303 949.2L1304 949.2L1305 949.2L1306 949.2L1307 949.2L1308 949.2L1309 949.2L1310 949.2L1311 949.2L1312 949.2L1313 949.2L1314 949.2L1315 949.2L1316 949.2L1317 949.2L1318 949.2L1319 949.2L1320 949.2L1321 949.2L1322 949.2L1323 949.2L1324 949.2L1325 949.2L1326 949.2L1327 949.2L1328 949.2L1329 949.2L1330 949.2L1331 949.2L1332 949.2L1333 949.2L1334 949.2L1335 949.2L1336 949.2L1337 949.2L1338 949.2L1339 949.2L1340 949.2L1341 949.2L1342 949.2L1343 949.2L1344 949.2L1345 949.2L1346 949.2L1347 949.2L1348 949.2L1349 949.2L1350 949.2L1351 949.2L1352 949.2L1353 949.2L1354 949.2L1355 949.2L1356 949.2L1357 949.2L1358 949.2L1359 949.2L1360 949.2L1361 949.2L1362 949.2L1363 949.2L1364 949.2L1365 949.2L1366 949.2L1367 949.2L1368 949.2L1369 949.2L1370 949.2L1371 949.2L1372 949.2L1373 949.2L1374 949.2L1375 949.2L1376 949.2L1377 949.2L1378 949.2L1379 949.2L1380 949.2L1381 949.2L1382 949.2L1383 949.2L1384 949.2L1385 949.2L1386 949.2L1387 949.2L1388 949.2L1389 949.2L1390 949.2L1391 949.2L1392 949.2L1393 949.2L1394 949.2L1395 949.2L1396 949.2L1397 949.2L1398 949.2L1399 949.2L1400 949.2L1401 949.2L1402 949.2L1403 949.2L1404 949.2L1405 949.2L1406 949.2L1407 949.2L1408 949.2L1409 949.2L1410 949.2L1411 949.2L1412 949.2L1413 949.2L1414 949.2L1415 949.2L1416 949.2L1417 949.2L1418 949.2L1419 949.2L1420 949.2L1421 949.2L1422 949.2L1423 949.2L1424 949.2L1425 949.2L1426 949.2L1427 949.2L1428 949.2L1429 949.2L1430 949.2L1431 949.2L1432 949.2L1433 949.2L1434 949.2L1435 949.2L1436 949.2L1437 949.2L1438 949.2L1439 949.2L1440 949.2L1441 949.2L1442 949.2L1443 949.2L1444 949.2L1445 949.2L1446 949.2L1447 949.2L1448 949.2L1449 949.2L1450 949.2L1451 949.2L1452 949.2L1453 949.2L1454 949.2L1455 949.2L1456 949.2L1457 949.2L1458 949.2L1459 949.2L1460 949.2L1461 949.2L1462 949.2L1463 949.2L1464 949.2L1465 949.2L1466 949.2L1467 949.2L1468 949.2L1469 949.2L1470 949.2L1471 949.2L1472 949.2L1473 949.2L1474 949.2L1475 949.2L1476 949.2L1477 949.2L1478 949.2L1479 949.2L1480 949.2L1481 949.2L1482 949.2L1483 949.2L1484 949.2L1485 949.2L1486 949.2L1487 949.2L1488 949.2L1489 949.2L1490 949.2L1491 949.2L1492 949.2L1493 949.2L1494 949.2L1495 949.2L1496 949.2L1497 949.2L1498 949.2L1499 949.2L1500 949.2 L1500 949.2 L837 949.2 Z" fill="#800080" fill-opacity="0.4" stroke="none"/>
<path d="M837 949.2L838 949.2L839 949.2L840 949.2L841 949.2L842 949.2L843 949.2L844 949.2L845 949.2L846 949.2L847 949.2L848 949.2L849 949.2L850 949.2L851 949.2L852 949.2L853 949.2L854 949.2L855 949.2L856 949.2L857 949.2L858 949.2L859 949.2L860 949.2L861 949.2L862 949.2L863 949.2L864 949.2L865 949.2L866 949.2L867 949.2L868 949.2L869 949.2L870 949.2L871 949.2L872 949.2L873 949.2L874 949.2L875 949.2L876 949.2L877 949.2L878 949.2L879 949.2L880 949.2L881 949.2L882 949.2L883 949.2L884 949.2L885 949.2L886 949.2L887 949.2L888 949.2L889 949.2L890 949.2L891 949.2L892 949.2L893 949.2L894 949.2L895 949.2L896 949.2L897 949.2L898 949.2L899 949.2L900 949.2L901 949.2L902 949.2L903 949.2L904 949.2L905 949.2L906 949.2L907 949.2L908 949.2L909 949.2L910 949.2L911 949.2L912 949.2L913 949.2L914 949.2L915 949.2L916 949.2L917 949.2L918 949.2L919 949.2L920 949.2L921 949.2L922 949.2L923 949.2L924 949.2L925 949.2L926 949.2L927 949.2L928 949.2L929 949.2L930 949.2L931 949.2L932 949.2L933 949.2L934 949.2L935 949.2L936 949.2L937 949.2L938 949.2L939 949.2L940 949.2L941 949.2L942 949.2L943 949.2L944 949.2L945 949.2L946 949.2L947 949.2L948 949.2L949 949.2L950 949.2L951 949.2L952 949.2L953 949.2L954 949.2L955 949.2L956 949.2L957 949.2L958 949.2L959 949.2L960 949.2L961 949.2L962 949.2L963 949.2L964 949.2L965 949.2L966 949.2L967 949.2L968 949.2L969 949.2L970 949.2L971 949.2L972 949.2L973 949.2L974 949.2L975 949.2L976 949.2L977 949.2L978 949.2L979 949.2L980 949.2L981 949.2L982 949.2L983 949.2L984 949.2L985 949.2L986 949.2L987 949.2L988 949.2L989 949.2L990 949.2L991 949.2L992 949.2L993 949.2L994 949.2L995 949.2L996 949.2L997 949.2L998 949.2L999 949.2L1000 949.2L1001 949.2L1002 949.2L1003 949.2L1004 949.2L1005 949.2L1006 949.2L1007 949.2L1008 949.2L1009 949.2L1010 949.2L1011 949.2L1012 949.2L1013 949.2L1014 949.2L1015 949.2L1016 949.2L1017 949.2L1018 949.2L1019 949.2L1020 949.2L1021 949.2L1022 949.2L1023 949.2L1024 949.2L1025 949.2L1026 949.2L1027 949.2L1028 949.2L1029 949.2L1030 949.2L1031 949.2L1032 949.2L1033 949.2L1034 949.2L1035 949.2L1036 949.2L1037 949.2L1038 949.2L1039 949.2L1040 949.2L1041 949.2L1042 949.2L1043 949.2L1044 949.2L1045 949.2L1046 949.2L1047 949.2L1048 949.2L1049 949.2L1050 949.2L1051 949.2L1052 949.2L1053 949.2L1054 949.2L1055 949.2L1056 949.2L1057 949.2L1058 949.2L1059 949.2L1060 949.2L1061 949.2L1062 949.2L1063 949.2L1064 949.2L1065 949.2L1066 949.2L1067 949.2L1068 949.2L1069 949.2L1070 949.2L1071 949.2L1072 949.2L1073 949.2L1074 949.2L1075 949.2L1076 949.2L1077 949.2L1078 949.2L1079 949.2L1080 949.2L1081 949.2L1082 949.2L1083 949.2L1084 949.2L1085 949.2L1086 949.2L1087 949.2L1088 949.2L1089 949.2L1090 949.2L1091 949.2L1092 949.2L1093 949.2L1094 949.2L1095 949.19L1096 949.19L1097 949.18L1098 949.16L1099 949.13L1100 949.08L1101 948.99L1102 948.85L1103 948.63L1104 948.3L1105 947.8L1106 947.07L1107 946.03L1108 944.58L1109 942.61L1110 940.01L1111 936.65L1112 932.43L1113 927.27L1114 921.14L1115 914.06L1116 906.14L1117 897.56L1118 888.6L1119 879.61L1120 870.99L1121 863.18L1122 856.61L1123 851.68L1124 848.68L1125 847.81L1126 849.12L1127 852.52L1128 857.81L1129 864.65L1130 872.66L1131 881.39L1132 890.41L1133 899.32L1134 907.79L1135 915.55L1136 922.44L1137 928.38L1138 933.35L1139 937.39L1140 940.58L1141 943.05L1142 944.91L1143 946.27L1144 947.24L1145 947.92L1146 948.38L1147 948.68L1148 948.88L1149 949.01L1150 949.09L1151 949.14L1152 949.16L1153 949.18L1154 949.19L1155 949.19L1156 949.2L1157 949.2L1158 949.2L1159 949.2L1160 949.2L1161 949.2L1162 949.2L1163 949.2L1164 949.2L1165 949.2L1166 949.2L1167 949.2L1168 949.2L1169 949.2L1170 949.2L1171 949.2L1172 949.2L1173 949.2L1174 949.2L1175 949.2L1176 949.2L1177 949.2L1178 949.2L1179 949.2L1180 949.2L1181 949.2L1182 949.2L1183 949.2L1184 949.2L1185 949.2L1186 949.2L1187 949.2L1188 949.2L1189 949.2L1190 949.2L1191 949.2L1192 949.2L1193 949.2L1194 949.2L1195 949.2L1196 949.2L1197 949.2L1198 949.2L1199 949.2L1200 949.2L1201 949.2L1202 949.2L1203 949.2L1204 949.2L1205 949.2L1206 949.2L1207 949.2L1208 949.2L1209 949.2L1210 949.2L1211 949.2L1212 949.2L1213 949.2L1214 949.2L1215 949.2L1216 949.2L1217 949.2L1218 949.2L1219 949.2L1220 949.2L1221 949.2L1222 949.2L1223 949.2L1224 949.2L1225 949.2L1226 949.2L1227 949.2L1228 949.2L1229 949.2L1230 949.2L1231 949.2L1232 949.2L1233 949.2L1234 949.2L1235 949.2L1236 949.2L1237 949.2L1238 949.2L1239 949.2L1240 949.2L1241 949.2L1242 949.2L1243 949.2L1244 949.2L1245 949.2L1246 949.2L1247 949.2L1248 949.2L1249 949.2L1250 949.2L1251 949.2L1252 949.2L1253 949.2L1254 949.2L1255 949.2L1256 949.2L1257 949.2L1258 949.2L1259 949.2L1260 949.2L1261 949.2L1262 949.2L1263 949.2L1264 949.2L1265 949.2L1266 949.2L1267 949.2L1268 949.2L1269 949.2L1270 949.2L1271 949.2L1272 949.2L1273 949.2L1274 949.2L1275 949.2L1276 949.2L1277 949.2L1278 949.2L1279 949.2L1280 949.2L1281 949.2L1282 949.2L1283 949.2L1284 949.2L1285 949.2L1286 949.2L1287 949.2L1288 949.2L1289 949.2L1290 949.2L1291 949.2L1292 949.2L1293 949.2L1294 949.2L1295 949.2L1296 949.2L1297 949.2L1298 949.2L1299 949.2L1300 949.2L1301 949.2L1302 949.2L1303 949.2L1304 949.2L1305 949.2L1306 949.2L1307 949.2L1308 949.2L1309 949.2L1310 949.2L1311 949.2L1312 949.2L1313 949.2L1314 949.2L1315 949.2L1316 949.2L1317 949.2L1318 949.2L1319 949.2L1320 949.2L1321 949.2L1322 949.2L1323 949.2L1324 949.2L1325 949.2L1326 949.2L1327 949.2L1328 949.2L1329 949.2L1330 949.2L1331 949.2L1332 949.2L1333 949.2L1334 949.2L1335 949.2L1336 949.2L1337 949.2L1338 949.2L1339 949.2L1340 949.2L1341 949.2L1342 949.2L1343 949.2L1344 949.2L1345 949.2L1346 949.2L1347 949.2L1348 949.2L1349 949.2L1350 949.2L1351 949.2L1352 949.2L1353 949.2L1354 949.2L1355 949.2L1356 949.2L1357 949.2L1358 949.2L1359 949.2L1360 949.2L1361 949.2L1362 949.2L1363 949.2L1364 949.2L1365 949.2L1366 949.2L1367 949.2L1368 949.2L1369 949.2L1370 949.2L1371 949.2L1372 949.2L1373 949.2L1374 949.2L1375 949.2L1376 949.2L1377 949.2L1378 949.2L1379 949.2L1380 949.2L1381 949.2L1382 949.2L1383 949.2L1384 949.2L1385 949.2L1386 949.2L1387 949.2L1388 949.2L1389 949.2L1390 949.2L1391 949.2L1392 949.2L1393 949.2L1394 949.2L1395 949.2L1396 949.2L1397 949.2L1398 949.2L1399 949.2L1400 949.2L1401 949.2L1402 949.2L1403 949.2L1404 949.2L1405 949.2L1406 949.2L1407 949.2L1408 949.2L1409 949.2L1410 949.2L1411 949.2L1412 949.2L1413 949.2L1414 949.2L1415 949.2L1416 949.2L1417 949.2L1418 949.2L1419 949.2L1420 949.2L1421 949.2L1422 949.2L1423 949.2L1424 949.2L1425 949.2L1426 949.2L1427 949.2L1428 949.2L1429 949.2L1430 949.2L1431 949.2L1432 949.2L1433 949.2L1434 949.2L1435 949.2L1436 949.2L1437 949.2L1438 949.2L1439 949.2L1440 949.2L1441 949.2L1442 949.2L1443 949.2L1444 949.2L1445 949.2L1446 949.2L1447 949.2L1448 949.2L1449 949.2L1450 949.2L1451 949.2L1452 949.2L1453 949.2L1454 949.2L1455 949.2L1456 949.2L1457 949.2L1458 949.2L1459 949.2L1460 949.2L1461 949.2L1462 949.2L1463 949.2L1464 949.2L1465 949.2L1466 949.2L1467 949.2L1468 949.2L1469 949.2L1470 949.2L1471 949.2L1472 949.2L1473 949.2L1474 949.2L1475 949.2L1476 949.2L1477 949.2L1478 949.2L1479 949.2L1480 949.2L1481 949.2L1482 949.2L1483 949.2L1484 949.2L1485 949.2L1486 949.2L1487 949.2L1488 949.2L1489 949.2L1490 949.2L1491 949.2L1492 949.2L1493 949.2L1494 949.2L1495 949.2L1496 949.2L1497 949.2L1498 949.2L1499 949.2L1500 949.2" fill="none" stroke="#800080" stroke-width="2.8"/>
<path d="M837 949.2L838 949.2L839 949.2L840 949.2L841 949.2L842 949.2L843 949.2L844 949.2L845 949.2L846 949.2L847 949.2L848 949.2L849 949.2L850 949.2L851 949.2L852 949.2L853 949.2L854 949.2L855 949.2L856 949.2L857 949.2L858 949.2L859 949.2L860 949.2L861 949.2L862 949.2L863 949.2L864 949.2L865 949.2L866 949.2L867 949.2L868 949.2L869 949.2L870 949.2L871 949.2L872 949.2L873 949.2L874 949.2L875 949.2L876 949.2L877 949.2L878 949.2L879 949.2L880 949.2L881 949.2L882 949.2L883 949.2L884 949.2L885 949.2L886 949.2L887 949.2L888 949.2L889 949.2L890 949.2L891 949.2L892 949.2L893 949.2L894 949.2L895 949.2L896 949.2L897 949.2L898 949.2L899 949.2L900 949.2L901 949.2L902 949.2L903 949.2L904 949.2L905 949.2L906 949.2L907 949.2L908 949.2L909 949.2L910 949.2L911 949.2L912 949.2L913 949.2L914 949.2L915 949.2L916 949.2L917 949.2L918 949.2L919 949.2L920 949.2L921 949.2L922 949.2L923 949.2L924 949.2L925 949.2L926 949.2L927 949.2L928 949.2L929 949.2L930 949.2L931 949.2L932 949.2L933 949.2L934 949.2L935 949.2L936 949.2L937 949.2L938 949.2L939 949.2L940 949.2L941 949.2L942 949.2L943 949.2L944 949.2L945 949.2L946 949.2L947 949.2L948 949.2L949 949.2L950 949.2L951 949.2L952 949.2L953 949.2L954 949.2L955 949.2L956 949.2L957 949.2L958 949.2L959 949.2L960 949.2L961 949.2L962 949.2L963 949.2L964 949.2L965 949.2L966 949.2L967 949.2L968 949.2L969 949.2L970 949.2L971 949.2L972 949.2L973 949.2L974 949.2L975 949.2L976 949.2L977 949.2L978 949.2L979 949.2L980 949.2L981 949.2L982 949.2L983 949.2L984 949.2L985 949.2L986 949.2L987 949.2L988 949.2L989 949.2L990 949.2L991 949.2L992 949.2L993 949.2L994 949.2L995 949.2L996 949.2L997 949.2L998 949.2L999 949.2L1000 949.2L1001 949.2L1002 949.2L1003 949.2L1004 949.2L1005 949.2L1006 949.2L1007 949.2L1008 949.2L1009 949.2L1010 949.2L1011 949.2L1012 949.2L1013 949.2L1014 949.2L1015 949.2L1016 949.2L1017 949.2L1018 949.2L1019 949.2L1020 949.2L1021 949.2L1022 949.2L1023 949.2L1024 949.2L1025 949.2L1026 949.2L1027 949.2L1028 949.2L1029 949.2L1030 949.2L1031 949.2L1032 949.2L1033 949.2L1034 949.2L1035 949.2L1036 949.2L1037 949.2L1038 949.2L1039 949.2L1040 949.2L1041 949.2L1042 949.2L1043 949.2L1044 949.2L1045 949.2L1046 949.2L1047 949.2L1048 949.2L1049 949.2L1050 949.2L1051 949.2L1052 949.2L1053 949.2L1054 949.2L1055 949.2L1056 949.2L1057 949.2L1058 949.2L1059 949.2L1060 949.2L1061 949.2L1062 949.2L1063 949.2L1064 949.2L1065 949.2L1066 949.2L1067 949.2L1068 949.2L1069 949.2L1070 949.2L1071 949.2L1072 949.2L1073 949.2L1074 949.2L1075 949.2L1076 949.2L1077 949.2L1078 949.2L1079 949.2L1080 949.2L1081 949.2L1082 949.2L1083 949.2L1084 949.2L1085 949.2L1086 949.19L1087 949.19L1088 949.19L1089 949.19L1090 949.18L1091 949.17L1092 949.16L1093 949.15L1094 949.13L1095 949.11L1096 949.07L1097 949.03L1098 948.98L1099 948.9L1100 948.81L1101 948.7L1102 948.55L1103 948.36L1104 948.13L1105 947.84L1106 947.48L1107 947.03L1108 946.49L1109 945.83L1110 945.04L1111 944.09L1112 942.96L1113 941.62L1114 940.04L1115 938.2L1116 936.06L1117 933.6L1118 930.79L1119 927.59L1120 923.99L1121 919.95L1122 915.45L1123 910.49L1124 905.05L1125 899.14L1126 892.76L1127 885.93L1128 878.69L1129 871.06L1130 863.1L1131 854.87L1132 846.45L1133 837.92L1134 829.36L1135 820.89L1136 812.61L1137 804.62L1138 797.05L1139 789.99L1140 783.56L1141 777.85L1142 772.97L1143 768.98L1144 765.95L1145 763.94L1146 762.99L1147 763.09L1148 764.26L1149 766.48L1150 769.7L1151 773.88L1152 778.93L1153 784.79L1154 791.36L1155 798.53L1156 806.19L1157 814.25L1158 822.58L1159 831.07L1160 839.63L1161 848.14L1162 856.53L1163 864.71L1164 872.61L1165 880.17L1166 887.33L1167 894.07L1168 900.36L1169 906.18L1170 911.52L1171 916.39L1172 920.79L1173 924.74L1174 928.27L1175 931.38L1176 934.12L1177 936.52L1178 938.59L1179 940.37L1180 941.9L1181 943.2L1182 944.29L1183 945.21L1184 945.98L1185 946.61L1186 947.13L1187 947.56L1188 947.9L1189 948.18L1190 948.4L1191 948.58L1192 948.72L1193 948.83L1194 948.92L1195 948.99L1196 949.04L1197 949.08L1198 949.11L1199 949.13L1200 949.15L1201 949.16L1202 949.17L1203 949.18L1204 949.19L1205 949.19L1206 949.19L1207 949.2L1208 949.2L1209 949.2L1210 949.2L1211 949.2L1212 949.2L1213 949.2L1214 949.2L1215 949.2L1216 949.2L1217 949.2L1218 949.2L1219 949.2L1220 949.2L1221 949.2L1222 949.2L1223 949.2L1224 949.2L1225 949.2L1226 949.2L1227 949.2L1228 949.2L1229 949.2L1230 949.2L1231 949.2L1232 949.2L1233 949.2L1234 949.2L1235 949.2L1236 949.2L1237 949.2L1238 949.2L1239 949.2L1240 949.2L1241 949.2L1242 949.2L1243 949.2L1244 949.2L1245 949.2L1246 949.2L1247 949.2L1248 949.2L1249 949.2L1250 949.2L1251 949.2L1252 949.2L1253 949.2L1254 949.2L1255 949.2L1256 949.2L1257 949.2L1258 949.2L1259 949.2L1260 949.2L1261 949.2L1262 949.2L1263 949.2L1264 949.2L1265 949.2L1266 949.2L1267 949.2L1268 949.2L1269 949.2L1270 949.2L1271 949.2L1272 949.2L1273 949.2L1274 949.2L1275 949.2L1276 949.2L1277 949.2L1278 949.2L1279 949.2L1280 949.2L1281 949.2L1282 949.2L1283 949.2L1284 949.2L1285 949.2L1286 949.2L1287 949.2L1288 949.2L1289 949.2L1290 949.2L1291 949.2L1292 949.2L1293 949.2L1294 949.2L1295 949.2L1296 949.2L1297 949.2L1298 949.2L1299 949.2L1300 949.2L1301 949.2L1302 949.2L1303 949.2L1304 949.2L1305 949.2L1306 949.2L1307 949.2L1308 949.2L1309 949.2L1310 949.2L1311 949.2L1312 949.2L1313 949.2L1314 949.2L1315 949.2L1316 949.2L1317 949.2L1318 949.2L1319 949.2L1320 949.2L1321 949.2L1322 949.2L1323 949.2L1324 949.2L1325 949.2L1326 949.2L1327 949.2L1328 949.2L1329 949.2L1330 949.2L1331 949.2L1332 949.2L1333 949.2L1334 949.2L1335 949.2L1336 949.2L1337 949.2L1338 949.2L1339 949.2L1340 949.2L1341 949.2L1342 949.2L1343 949.2L1344 949.2L1345 949.2L1346 949.2L1347 949.2L1348 949.2L1349 949.2L1350 949.2L1351 949.2L1352 949.2L1353 949.2L1354 949.2L1355 949.2L1356 949.2L1357 949.2L1358 949.2L1359 949.2L1360 949.2L1361 949.2L1362 949.2L1363 949.2L1364 949.2L1365 949.2L1366 949.2L1367 949.2L1368 949.2L1369 949.2L1370 949.2L1371 949.2L1372 949.2L1373 949.2L1374 949.2L1375 949.2L1376 949.2L1377 949.2L1378 949.2L1379 949.2L1380 949.2L1381 949.2L1382 949.2L1383 949.2L1384 949.2L1385 949.2L1386 949.2L1387 949.2L1388 949.2L1389 949.2L1390 949.2L1391 949.2L1392 949.2L1393 949.2L1394 949.2L1395 949.2L1396 949.2L1397 949.2L1398 949.2L1399 949.2L1400 949.2L1401 949.2L1402 949.2L1403 949.2L1404 949.2L1405 949.2L1406 949.2L1407 949.2L1408 949.2L1409 949.2L1410 949.2L1411 949.2L1412 949.2L1413 949.2L1414 949.2L1415 949.2L1416 949.2L1417 949.2L1418 949.2L1419 949.2L1420 949.2L1421 949.2L1422 949.2L1423 949.2L1424 949.2L1425 949.2L1426 949.2L1427 949.2L1428 949.2L1429 949.2L1430 949.2L1431 949.2L1432 949.2L1433 949.2L1434 949.2L1435 949.2L1436 949.2L1437 949.2L1438 949.2L1439 949.2L1440 949.2L1441 949.2L1442 949.2L1443 949.2L1444 949.2L1445 949.2L1446 949.2L1447 949.2L1448 949.2L1449 949.2L1450 949.2L1451 949.2L1452 949.2L1453 949.2L1454 949.2L1455 949.2L1456 949.2L1457 949.2L1458 949.2L1459 949.2L1460 949.2L1461 949.2L1462 949.2L1463 949.2L1464 949.2L1465 949.2L1466 949.2L1467 949.2L1468 949.2L1469 949.2L1470 949.2L1471 949.2L1472 949.2L1473 949.2L1474 949.2L1475 949.2L1476 949.2L1477 949.2L1478 949.2L1479 949.2L1480 949.2L1481 949.2L1482 949.2L1483 949.2L1484 949.2L1485 949.2L1486 949.2L1487 949.2L1488 949.2L1489 949.2L1490 949.2L1491 949.2L1492 949.2L1493 949.2L1494 949.2L1495 949.2L1496 949.2L1497 949.2L1498 949.2L1499 949.2L1500 949.2 L1500 949.2 L837 949.2 Z" fill="#008000" fill-opacity="0.4" stroke="none"/>
<path d="M837 949.2L838 949.2L839 949.2L840 949.2L841 949.2L842 949.2L843 949.2L844 949.2L845 949.2L846 949.2L847 949.2L848 949.2L849 949.2L850 949.2L851 949.2L852 949.2L853 949.2L854 949.2L855 949.2L856 949.2L857 949.2L858 949.2L859 949.2L860 949.2L861 949.2L862 949.2L863 949.2L864 949.2L865 949.2L866 949.2L867 949.2L868 949.2L869 949.2L870 949.2L871 949.2L872 949.2L873 949.2L874 949.2L875 949.2L876 949.2L877 949.2L878 949.2L879 949.2L880 949.2L881 949.2L882 949.2L883 949.2L884 949.2L885 949.2L886 949.2L887 949.2L888 949.2L889 949.2L890 949.2L891 949.2L892 949.2L893 949.2L894 949.2L895 949.2L896 949.2L897 949.2L898 949.2L899 949.2L900 949.2L901 949.2L902 949.2L903 949.2L904 949.2L905 949.2L906 949.2L907 949.2L908 949.2L909 949.2L910 949.2L911 949.2L912 949.2L913 949.2L914 949.2L915 949.2L916 949.2L917 949.2L918 949.2L919 949.2L920 949.2L921 949.2L922 949.2L923 949.2L924 949.2L925 949.2L926 949.2L927 949.2L928 949.2L929 949.2L930 949.2L931 949.2L932 949.2L933 949.2L934 949.2L935 949.2L936 949.2L937 949.2L938 949.2L939 949.2L940 949.2L941 949.2L942 949.2L943 949.2L944 949.2L945 949.2L946 949.2L947 949.2L948 949.2L949 949.2L950 949.2L951 949.2L952 949.2L953 949.2L954 949.2L955 949.2L956 949.2L957 949.2L958 949.2L959 949.2L960 949.2L961 949.2L962 949.2L963 949.2L964 949.2L965 949.2L966 949.2L967 949.2L968 949.2L969 949.2L970 949.2L971 949.2L972 949.2L973 949.2L974 949.2L975 949.2L976 949.2L977 949.2L978 949.2L979 949.2L980 949.2L981 949.2L982 949.2L983 949.2L984 949.2L985 949.2L986 949.2L987 949.2L988 949.2L989 949.2L990 949.2L991 949.2L992 949.2L993 949.2L994 949.2L995 949.2L996 949.2L997 949.2L998 949.2L999 949.2L1000 949.2L1001 949.2L1002 949.2L1003 949.2L1004 949.2L1005 949.2L1006 949.2L1007 949.2L1008 949.2L1009 949.2L1010 949.2L1011 949.2L1012 949.2L1013 949.2L1014 949.2L1015 949.2L1016 949.2L1017 949.2L1018 949.2L1019 949.2L1020 949.2L1021 949.2L1022 949.2L1023 949.2L1024 949.2L1025 949.2L1026 949.2L1027 949.2L1028 949.2L1029 949.2L1030 949.2L1031 949.2L1032 949.2L1033 949.2L1034 949.2L1035 949.2L1036 949.2L1037 949.2L1038 949.2L1039 949.2L1040 949.2L1041 949.2L1042 949.2L1043 949.2L1044 949.2L1045 949.2L1046 949.2L1047 949.2L1048 949.2L1049 949.2L1050 949.2L1051 949.2L1052 949.2L1053 949.2L1054 949.2L1055 949.2L1056 949.2L1057 949.2L1058 949.2L1059 949.2L1060 949.2L1061 949.2L1062 949.2L1063 949.2L1064 949.2L1065 949.2L1066 949.2L1067 949.2L1068 949.2L1069 949.2L1070 949.2L1071 949.2L1072 949.2L1073 949.2L1074 949.2L1075 949.2L1076 949.2L1077 949.2L1078 949.2L1079 949.2L1080 949.2L1081 949.2L1082 949.2L1083 949.2L1084 949.2L1085 949.2L1086 949.19L1087 949.19L1088 949.19L1089 949.19L1090 949.18L1091 949.17L1092 949.16L1093 949.15L1094 949.13L1095 949.11L1096 949.07L1097 949.03L1098 948.98L1099 948.9L1100 948.81L1101 948.7L1102 948.55L1103 948.36L1104 948.13L1105 947.84L1106 947.48L1107 947.03L1108 946.49L1109 945.83L1110 945.04L1111 944.09L1112 942.96L1113 941.62L1114 940.04L1115 938.2L1116 936.06L1117 933.6L1118 930.79L1119 927.59L1120 923.99L1121 919.95L1122 915.45L1123 910.49L1124 905.05L1125 899.14L1126 892.76L1127 885.93L1128 878.69L1129 871.06L1130 863.1L1131 854.87L1132 846.45L1133 837.92L1134 829.36L1135 820.89L1136 812.61L1137 804.62L1138 797.05L1139 789.99L1140 783.56L1141 777.85L1142 772.97L1143 768.98L1144 765.95L1145 763.94L1146 762.99L1147 763.09L1148 764.26L1149 766.48L1150 769.7L1151 773.88L1152 778.93L1153 784.79L1154 791.36L1155 798.53L1156 806.19L1157 814.25L1158 822.58L1159 831.07L1160 839.63L1161 848.14L1162 856.53L1163 864.71L1164 872.61L1165 880.17L1166 887.33L1167 894.07L1168 900.36L1169 906.18L1170 911.52L1171 916.39L1172 920.79L1173 924.74L1174 928.27L1175 931.38L1176 934.12L1177 936.52L1178 938.59L1179 940.37L1180 941.9L1181 943.2L1182 944.29L1183 945.21L1184 945.98L1185 946.61L1186 947.13L1187 947.56L1188 947.9L1189 948.18L1190 948.4L1191 948.58L1192 948.72L1193 948.83L1194 948.92L1195 948.99L1196 949.04L1197 949.08L1198 949.11L1199 949.13L1200 949.15L1201 949.16L1202 949.17L1203 949.18L1204 949.19L1205 949.19L1206 949.19L1207 949.2L1208 949.2L1209 949.2L1210 949.2L1211 949.2L1212 949.2L1213 949.2L1214 949.2L1215 949.2L1216 949.2L1217 949.2L1218 949.2L1219 949.2L1220 949.2L1221 949.2L1222 949.2L1223 949.2L1224 949.2L1225 949.2L1226 949.2L1227 949.2L1228 949.2L1229 949.2L1230 949.2L1231 949.2L1232 949.2L1233 949.2L1234 949.2L1235 949.2L1236 949.2L1237 949.2L1238 949.2L1239 949.2L1240 949.2L1241 949.2L1242 949.2L1243 949.2L1244 949.2L1245 949.2L1246 949.2L1247 949.2L1248 949.2L1249 949.2L1250 949.2L1251 949.2L1252 949.2L1253 949.2L1254 949.2L1255 949.2L1256 949.2L1257 949.2L1258 949.2L1259 949.2L1260 949.2L1261 949.2L1262 949.2L1263 949.2L1264 949.2L1265 949.2L1266 949.2L1267 949.2L1268 949.2L1269 949.2L1270 949.2L1271 949.2L1272 949.2L1273 949.2L1274 949.2L1275 949.2L1276 949.2L1277 949.2L1278 949.2L1279 949.2L1280 949.2L1281 949.2L1282 949.2L1283 949.2L1284 949.2L1285 949.2L1286 949.2L1287 949.2L1288 949.2L1289 949.2L1290 949.2L1291 949.2L1292 949.2L1293 949.2L1294 949.2L1295 949.2L1296 949.2L1297 949.2L1298 949.2L1299 949.2L1300 949.2L1301 949.2L1302 949.2L1303 949.2L1304 949.2L1305 949.2L1306 949.2L1307 949.2L1308 949.2L1309 949.2L1310 949.2L1311 949.2L1312 949.2L1313 949.2L1314 949.2L1315 949.2L1316 949.2L1317 949.2L1318 949.2L1319 949.2L1320 949.2L1321 949.2L1322 949.2L1323 949.2L1324 949.2L1325 949.2L1326 949.2L1327 949.2L1328 949.2L1329 949.2L1330 949.2L1331 949.2L1332 949.2L1333 949.2L1334 949.2L1335 949.2L1336 949.2L1337 949.2L1338 949.2L1339 949.2L1340 949.2L1341 949.2L1342 949.2L1343 949.2L1344 949.2L1345 949.2L1346 949.2L1347 949.2L1348 949.2L1349 949.2L1350 949.2L1351 949.2L1352 949.2L1353 949.2L1354 949.2L1355 949.2L1356 949.2L1357 949.2L1358 949.2L1359 949.2L1360 949.2L1361 949.2L1362 949.2L1363 949.2L1364 949.2L1365 949.2L1366 949.2L1367 949.2L1368 949.2L1369 949.2L1370 949.2L1371 949.2L1372 949.2L1373 949.2L1374 949.2L1375 949.2L1376 949.2L1377 949.2L1378 949.2L1379 949.2L1380 949.2L1381 949.2L1382 949.2L1383 949.2L1384 949.2L1385 949.2L1386 949.2L1387 949.2L1388 949.2L1389 949.2L1390 949.2L1391 949.2L1392 949.2L1393 949.2L1394 949.2L1395 949.2L1396 949.2L1397 949.2L1398 949.2L1399 949.2L1400 949.2L1401 949.2L1402 949.2L1403 949.2L1404 949.2L1405 949.2L1406 949.2L1407 949.2L1408 949.2L1409 949.2L1410 949.2L1411 949.2L1412 949.2L1413 949.2L1414 949.2L1415 949.2L1416 949.2L1417 949.2L1418 949.2L1419 949.2L1420 949.2L1421 949.2L1422 949.2L1423 949.2L1424 949.2L1425 949.2L1426 949.2L1427 949.2L1428 949.2L1429 949.2L1430 949.2L1431 949.2L1432 949.2L1433 949.2L1434 949.2L1435 949.2L1436 949.2L1437 949.2L1438 949.2L1439 949.2L1440 949.2L1441 949.2L1442 949.2L1443 949.2L1444 949.2L1445 949.2L1446 949.2L1447 949.2L1448 949.2L1449 949.2L1450 949.2L1451 949.2L1452 949.2L1453 949.2L1454 949.2L1455 949.2L1456 949.2L1457 949.2L1458 949.2L1459 949.2L1460 949.2L1461 949.2L1462 949.2L1463 949.2L1464 949.2L1465 949.2L1466 949.2L1467 949.2L1468 949.2L1469 949.2L1470 949.2L1471 949.2L1472 949.2L1473 949.2L1474 949.2L1475 949.2L1476 949.2L1477 949.2L1478 949.2L1479 949.2L1480 949.2L1481 949.2L1482 949.2L1483 949.2L1484 949.2L1485 949.2L1486 949.2L1487 949.2L1488 949.2L1489 949.2L1490 949.2L1491 949.2L1492 949.2L1493 949.2L1494 949.2L1495 949.2L1496 949.2L1497 949.2L1498 949.2L1499 949.2L1500 949.2" fill="none" stroke="#008000" stroke-width="2.8"/>
<path d="M837 949.2L838 949.2L839 949.2L840 949.2L841 949.2L842 949.2L843 949.2L844 949.2L845 949.2L846 949.2L847 949.2L848 949.2L849 949.2L850 949.2L851 949.2L852 949.2L853 949.2L854 949.2L855 949.2L856 949.2L857 949.2L858 949.2L859 949.2L860 949.2L861 949.2L862 949.2L863 949.2L864 949.2L865 949.2L866 949.2L867 949.2L868 949.2L869 949.2L870 949.2L871 949.2L872 949.2L873 949.2L874 949.2L875 949.2L876 949.2L877 949.2L878 949.2L879 949.2L880 949.2L881 949.2L882 949.2L883 949.2L884 949.2L885 949.2L886 949.2L887 949.2L888 949.2L889 949.2L890 949.2L891 949.2L892 949.2L893 949.2L894 949.2L895 949.2L896 949.2L897 949.2L898 949.2L899 949.2L900 949.2L901 949.2L902 949.2L903 949.2L904 949.2L905 949.2L906 949.2L907 949.2L908 949.2L909 949.2L910 949.2L911 949.2L912 949.2L913 949.2L914 949.2L915 949.2L916 949.2L917 949.2L918 949.2L919 949.2L920 949.2L921 949.2L922 949.2L923 949.2L924 949.2L925 949.2L926 949.2L927 949.2L928 949.2L929 949.2L930 949.2L931 949.2L932 949.2L933 949.2L934 949.2L935 949.2L936 949.2L937 949.2L938 949.2L939 949.2L940 949.2L941 949.2L942 949.2L943 949.2L944 949.2L945 949.2L946 949.2L947 949.2L948 949.2L949 949.2L950 949.2L951 949.2L952 949.2L953 949.2L954 949.2L955 949.2L956 949.2L957 949.2L958 949.2L959 949.2L960 949.2L961 949.2L962 949.2L963 949.2L964 949.2L965 949.2L966 949.2L967 949.2L968 949.2L969 949.2L970 949.2L971 949.2L972 949.2L973 949.2L974 949.2L975 949.2L976 949.2L977 949.2L978 949.2L979 949.2L980 949.2L981 949.2L982 949.2L983 949.2L984 949.2L985 949.2L986 949.2L987 949.2L988 949.2L989 949.2L990 949.2L991 949.2L992 949.2L993 949.2L994 949.2L995 949.2L996 949.2L997 949.2L998 949.2L999 949.2L1000 949.2L1001 949.2L1002 949.2L1003 949.2L1004 949.2L1005 949.2L1006 949.2L1007 949.2L1008 949.2L1009 949.2L1010 949.2L1011 949.2L1012 949.2L1013 949.2L1014 949.2L1015 949.2L1016 949.2L1017 949.2L1018 949.2L1019 949.2L1020 949.2L1021 949.2L1022 949.2L1023 949.2L1024 949.2L1025 949.2L1026 949.2L1027 949.2L1028 949.2L1029 949.2L1030 949.2L1031 949.2L1032 949.2L1033 949.2L1034 949.2L1035 949.2L1036 949.2L1037 949.2L1038 949.2L1039 949.2L1040 949.2L1041 949.2L1042 949.2L1043 949.2L1044 949.2L1045 949.2L1046 949.2L1047 949.2L1048 949.2L1049 949.2L1050 949.2L1051 949.2L1052 949.2L1053 949.2L1054 949.2L1055 949.2L1056 949.2L1057 949.2L1058 949.2L1059 949.2L1060 949.2L1061 949.2L1062 949.2L1063 949.2L1064 949.2L1065 949.2L1066 949.2L1067 949.2L1068 949.2L1069 949.2L1070 949.2L1071 949.2L1072 949.2L1073 949.2L1074 949.2L1075 949.2L1076 949.2L1077 949.2L1078 949.2L1079 949.2L1080 949.2L1081 949.2L1082 949.2L1083 949.2L1084 949.2L1085 949.2L1086 949.2L1087 949.2L1088 949.2L1089 949.2L1090 949.2L1091 949.2L1092 949.2L1093 949.2L1094 949.2L1095 949.2L1096 949.2L1097 949.2L1098 949.2L1099 949.2L1100 949.2L1101 949.2L1102 949.2L1103 949.2L1104 949.2L1105 949.2L1106 949.2L1107 949.2L1108 949.2L1109 949.2L1110 949.2L1111 949.2L1112 949.2L1113 949.2L1114 949.2L1115 949.2L1116 949.2L1117 949.2L1118 949.2L1119 949.2L1120 949.2L1121 949.2L1122 949.2L1123 949.2L1124 949.2L1125 949.19L1126 949.19L1127 949.18L1128 949.17L1129 949.15L1130 949.13L1131 949.08L1132 949.02L1133 948.92L1134 948.78L1135 948.58L1136 948.31L1137 947.95L1138 947.48L1139 946.87L1140 946.11L1141 945.18L1142 944.09L1143 942.83L1144 941.42L1145 939.89L1146 938.29L1147 936.66L1148 935.09L1149 933.63L1150 932.38L1151 931.39L1152 930.72L1153 930.42L1154 930.49L1155 930.95L1156 931.75L1157 932.85L1158 934.19L1159 935.7L1160 937.31L1161 938.93L1162 940.52L1163 942L1164 943.35L1165 944.55L1166 945.57L1167 946.43L1168 947.13L1169 947.68L1170 948.11L1171 948.43L1172 948.67L1173 948.84L1174 948.96L1175 949.05L1176 949.1L1177 949.14L1178 949.16L1179 949.18L1180 949.19L1181 949.19L1182 949.2L1183 949.2L1184 949.2L1185 949.2L1186 949.2L1187 949.2L1188 949.2L1189 949.2L1190 949.2L1191 949.2L1192 949.2L1193 949.2L1194 949.2L1195 949.2L1196 949.2L1197 949.2L1198 949.2L1199 949.2L1200 949.2L1201 949.2L1202 949.2L1203 949.2L1204 949.2L1205 949.2L1206 949.2L1207 949.2L1208 949.2L1209 949.2L1210 949.2L1211 949.2L1212 949.2L1213 949.2L1214 949.2L1215 949.2L1216 949.2L1217 949.2L1218 949.2L1219 949.2L1220 949.2L1221 949.2L1222 949.2L1223 949.2L1224 949.2L1225 949.2L1226 949.2L1227 949.2L1228 949.2L1229 949.2L1230 949.2L1231 949.2L1232 949.2L1233 949.2L1234 949.2L1235 949.2L1236 949.2L1237 949.2L1238 949.2L1239 949.2L1240 949.2L1241 949.2L1242 949.2L1243 949.2L1244 949.2L1245 949.2L1246 949.2L1247 949.2L1248 949.2L1249 949.2L1250 949.2L1251 949.2L1252 949.2L1253 949.2L1254 949.2L1255 949.2L1256 949.2L1257 949.2L1258 949.2L1259 949.2L1260 949.2L1261 949.2L1262 949.2L1263 949.2L1264 949.2L1265 949.2L1266 949.2L1267 949.2L1268 949.2L1269 949.2L1270 949.2L1271 949.2L1272 949.2L1273 949.2L1274 949.2L1275 949.2L1276 949.2L1277 949.2L1278 949.2L1279 949.2L1280 949.2L1281 949.2L1282 949.2L1283 949.2L1284 949.2L1285 949.2L1286 949.2L1287 949.2L1288 949.2L1289 949.2L1290 949.2L1291 949.2L1292 949.2L1293 949.2L1294 949.2L1295 949.2L1296 949.2L1297 949.2L1298 949.2L1299 949.2L1300 949.2L1301 949.2L1302 949.2L1303 949.2L1304 949.2L1305 949.2L1306 949.2L1307 949.2L1308 949.2L1309 949.2L1310 949.2L1311 949.2L1312 949.2L1313 949.2L1314 949.2L1315 949.2L1316 949.2L1317 949.2L1318 949.2L1319 949.2L1320 949.2L1321 949.2L1322 949.2L1323 949.2L1324 949.2L1325 949.2L1326 949.2L1327 949.2L1328 949.2L1329 949.2L1330 949.2L1331 949.2L1332 949.2L1333 949.2L1334 949.2L1335 949.2L1336 949.2L1337 949.2L1338 949.2L1339 949.2L1340 949.2L1341 949.2L1342 949.2L1343 949.2L1344 949.2L1345 949.2L1346 949.2L1347 949.2L1348 949.2L1349 949.2L1350 949.2L1351 949.2L1352 949.2L1353 949.2L1354 949.2L1355 949.2L1356 949.2L1357 949.2L1358 949.2L1359 949.2L1360 949.2L1361 949.2L1362 949.2L1363 949.2L1364 949.2L1365 949.2L1366 949.2L1367 949.2L1368 949.2L1369 949.2L1370 949.2L1371 949.2L1372 949.2L1373 949.2L1374 949.2L1375 949.2L1376 949.2L1377 949.2L1378 949.2L1379 949.2L1380 949.2L1381 949.2L1382 949.2L1383 949.2L1384 949.2L1385 949.2L1386 949.2L1387 949.2L1388 949.2L1389 949.2L1390 949.2L1391 949.2L1392 949.2L1393 949.2L1394 949.2L1395 949.2L1396 949.2L1397 949.2L1398 949.2L1399 949.2L1400 949.2L1401 949.2L1402 949.2L1403 949.2L1404 949.2L1405 949.2L1406 949.2L1407 949.2L1408 949.2L1409 949.2L1410 949.2L1411 949.2L1412 949.2L1413 949.2L1414 949.2L1415 949.2L1416 949.2L1417 949.2L1418 949.2L1419 949.2L1420 949.2L1421 949.2L1422 949.2L1423 949.2L1424 949.2L1425 949.2L1426 949.2L1427 949.2L1428 949.2L1429 949.2L1430 949.2L1431 949.2L1432 949.2L1433 949.2L1434 949.2L1435 949.2L1436 949.2L1437 949.2L1438 949.2L1439 949.2L1440 949.2L1441 949.2L1442 949.2L1443 949.2L1444 949.2L1445 949.2L1446 949.2L1447 949.2L1448 949.2L1449 949.2L1450 949.2L1451 949.2L1452 949.2L1453 949.2L1454 949.2L1455 949.2L1456 949.2L1457 949.2L1458 949.2L1459 949.2L1460 949.2L1461 949.2L1462 949.2L1463 949.2L1464 949.2L1465 949.2L1466 949.2L1467 949.2L1468 949.2L1469 949.2L1470 949.2L1471 949.2L1472 949.2L1473 949.2L1474 949.2L1475 949.2L1476 949.2L1477 949.2L1478 949.2L1479 949.2L1480 949.2L1481 949.2L1482 949.2L1483 949.2L1484 949.2L1485 949.2L1486 949.2L1487 949.2L1488 949.2L1489 949.2L1490 949.2L1491 949.2L1492 949.2L1493 949.2L1494 949.2L1495 949.2L1496 949.2L1497 949.2L1498 949.2L1499 949.2L1500 949.2 L1500 949.2 L837 949.2 Z" fill="#ff00ff" fill-opacity="0.5" stroke="none"/>
<path d="M837 949.2L838 949.2L839 949.2L840 949.2L841 949.2L842 949.2L843 949.2L844 949.2L845 949.2L846 949.2L847 949.2L848 949.2L849 949.2L850 949.2L851 949.2L852 949.2L853 949.2L854 949.2L855 949.2L856 949.2L857 949.2L858 949.2L859 949.2L860 949.2L861 949.2L862 949.2L863 949.2L864 949.2L865 949.2L866 949.2L867 949.2L868 949.2L869 949.2L870 949.2L871 949.2L872 949.2L873 949.2L874 949.2L875 949.2L876 949.2L877 949.2L878 949.2L879 949.2L880 949.2L881 949.2L882 949.2L883 949.2L884 949.2L885 949.2L886 949.2L887 949.2L888 949.2L889 949.2L890 949.2L891 949.2L892 949.2L893 949.2L894 949.2L895 949.2L896 949.2L897 949.2L898 949.2L899 949.2L900 949.2L901 949.2L902 949.2L903 949.2L904 949.2L905 949.2L906 949.2L907 949.2L908 949.2L909 949.2L910 949.2L911 949.2L912 949.2L913 949.2L914 949.2L915 949.2L916 949.2L917 949.2L918 949.2L919 949.2L920 949.2L921 949.2L922 949.2L923 949.2L924 949.2L925 949.2L926 949.2L927 949.2L928 949.2L929 949.2L930 949.2L931 949.2L932 949.2L933 949.2L934 949.2L935 949.2L936 949.2L937 949.2L938 949.2L939 949.2L940 949.2L941 949.2L942 949.2L943 949.2L944 949.2L945 949.2L946 949.2L947 949.2L948 949.2L949 949.2L950 949.2L951 949.2L952 949.2L953 949.2L954 949.2L955 949.2L956 949.2L957 949.2L958 949.2L959 949.2L960 949.2L961 949.2L962 949.2L963 949.2L964 949.2L965 949.2L966 949.2L967 949.2L968 949.2L969 949.2L970 949.2L971 949.2L972 949.2L973 949.2L974 949.2L975 949.2L976 949.2L977 949.2L978 949.2L979 949.2L980 949.2L981 949.2L982 949.2L983 949.2L984 949.2L985 949.2L986 949.2L987 949.2L988 949.2L989 949.2L990 949.2L991 949.2L992 949.2L993 949.2L994 949.2L995 949.2L996 949.2L997 949.2L998 949.2L999 949.2L1000 949.2L1001 949.2L1002 949.2L1003 949.2L1004 949.2L1005 949.2L1006 949.2L1007 949.2L1008 949.2L1009 949.2L1010 949.2L1011 949.2L1012 949.2L1013 949.2L1014 949.2L1015 949.2L1016 949.2L1017 949.2L1018 949.2L1019 949.2L1020 949.2L1021 949.2L1022 949.2L1023 949.2L1024 949.2L1025 949.2L1026 949.2L1027 949.2L1028 949.2L1029 949.2L1030 949.2L1031 949.2L1032 949.2L1033 949.2L1034 949.2L1035 949.2L1036 949.2L1037 949.2L1038 949.2L1039 949.2L1040 949.2L1041 949.2L1042 949.2L1043 949.2L1044 949.2L1045 949.2L1046 949.2L1047 949.2L1048 949.2L1049 949.2L1050 949.2L1051 949.2L1052 949.2L1053 949.2L1054 949.2L1055 949.2L1056 949.2L1057 949.2L1058 949.2L1059 949.2L1060 949.2L1061 949.2L1062 949.2L1063 949.2L1064 949.2L1065 949.2L1066 949.2L1067 949.2L1068 949.2L1069 949.2L1070 949.2L1071 949.2L1072 949.2L1073 949.2L1074 949.2L1075 949.2L1076 949.2L1077 949.2L1078 949.2L1079 949.2L1080 949.2L1081 949.2L1082 949.2L1083 949.2L1084 949.2L1085 949.2L1086 949.2L1087 949.2L1088 949.2L1089 949.2L1090 949.2L1091 949.2L1092 949.2L1093 949.2L1094 949.2L1095 949.2L1096 949.2L1097 949.2L1098 949.2L1099 949.2L1100 949.2L1101 949.2L1102 949.2L1103 949.2L1104 949.2L1105 949.2L1106 949.2L1107 949.2L1108 949.2L1109 949.2L1110 949.2L1111 949.2L1112 949.2L1113 949.2L1114 949.2L1115 949.2L1116 949.2L1117 949.2L1118 949.2L1119 949.2L1120 949.2L1121 949.2L1122 949.2L1123 949.2L1124 949.2L1125 949.19L1126 949.19L1127 949.18L1128 949.17L1129 949.15L1130 949.13L1131 949.08L1132 949.02L1133 948.92L1134 948.78L1135 948.58L1136 948.31L1137 947.95L1138 947.48L1139 946.87L1140 946.11L1141 945.18L1142 944.09L1143 942.83L1144 941.42L1145 939.89L1146 938.29L1147 936.66L1148 935.09L1149 933.63L1150 932.38L1151 931.39L1152 930.72L1153 930.42L1154 930.49L1155 930.95L1156 931.75L1157 932.85L1158 934.19L1159 935.7L1160 937.31L1161 938.93L1162 940.52L1163 942L1164 943.35L1165 944.55L1166 945.57L1167 946.43L1168 947.13L1169 947.68L1170 948.11L1171 948.43L1172 948.67L1173 948.84L1174 948.96L1175 949.05L1176 949.1L1177 949.14L1178 949.16L1179 949.18L1180 949.19L1181 949.19L1182 949.2L1183 949.2L1184 949.2L1185 949.2L1186 949.2L1187 949.2L1188 949.2L1189 949.2L1190 949.2L1191 949.2L1192 949.2L1193 949.2L1194 949.2L1195 949.2L1196 949.2L1197 949.2L1198 949.2L1199 949.2L1200 949.2L1201 949.2L1202 949.2L1203 949.2L1204 949.2L1205 949.2L1206 949.2L1207 949.2L1208 949.2L1209 949.2L1210 949.2L1211 949.2L1212 949.2L1213 949.2L1214 949.2L1215 949.2L1216 949.2L1217 949.2L1218 949.2L1219 949.2L1220 949.2L1221 949.2L1222 949.2L1223 949.2L1224 949.2L1225 949.2L1226 949.2L1227 949.2L1228 949.2L1229 949.2L1230 949.2L1231 949.2L1232 949.2L1233 949.2L1234 949.2L1235 949.2L1236 949.2L1237 949.2L1238 949.2L1239 949.2L1240 949.2L1241 949.2L1242 949.2L1243 949.2L1244 949.2L1245 949.2L1246 949.2L1247 949.2L1248 949.2L1249 949.2L1250 949.2L1251 949.2L1252 949.2L1253 949.2L1254 949.2L1255 949.2L1256 949.2L1257 949.2L1258 949.2L1259 949.2L1260 949.2L1261 949.2L1262 949.2L1263 949.2L1264 949.2L1265 949.2L1266 949.2L1267 949.2L1268 949.2L1269 949.2L1270 949.2L1271 949.2L1272 949.2L1273 949.2L1274 949.2L1275 949.2L1276 949.2L1277 949.2L1278 949.2L1279 949.2L1280 949.2L1281 949.2L1282 949.2L1283 949.2L1284 949.2L1285 949.2L1286 949.2L1287 949.2L1288 949.2L1289 949.2L1290 949.2L1291 949.2L1292 949.2L1293 949.2L1294 949.2L1295 949.2L1296 949.2L1297 949.2L1298 949.2L1299 949.2L1300 949.2L1301 949.2L1302 949.2L1303 949.2L1304 949.2L1305 949.2L1306 949.2L1307 949.2L1308 949.2L1309 949.2L1310 949.2L1311 949.2L1312 949.2L1313 949.2L1314 949.2L1315 949.2L1316 949.2L1317 949.2L1318 949.2L1319 949.2L1320 949.2L1321 949.2L1322 949.2L1323 949.2L1324 949.2L1325 949.2L1326 949.2L1327 949.2L1328 949.2L1329 949.2L1330 949.2L1331 949.2L1332 949.2L1333 949.2L1334 949.2L1335 949.2L1336 949.2L1337 949.2L1338 949.2L1339 949.2L1340 949.2L1341 949.2L1342 949.2L1343 949.2L1344 949.2L1345 949.2L1346 949.2L1347 949.2L1348 949.2L1349 949.2L1350 949.2L1351 949.2L1352 949.2L1353 949.2L1354 949.2L1355 949.2L1356 949.2L1357 949.2L1358 949.2L1359 949.2L1360 949.2L1361 949.2L1362 949.2L1363 949.2L1364 949.2L1365 949.2L1366 949.2L1367 949.2L1368 949.2L1369 949.2L1370 949.2L1371 949.2L1372 949.2L1373 949.2L1374 949.2L1375 949.2L1376 949.2L1377 949.2L1378 949.2L1379 949.2L1380 949.2L1381 949.2L1382 949.2L1383 949.2L1384 949.2L1385 949.2L1386 949.2L1387 949.2L1388 949.2L1389 949.2L1390 949.2L1391 949.2L1392 949.2L1393 949.2L1394 949.2L1395 949.2L1396 949.2L1397 949.2L1398 949.2L1399 949.2L1400 949.2L1401 949.2L1402 949.2L1403 949.2L1404 949.2L1405 949.2L1406 949.2L1407 949.2L1408 949.2L1409 949.2L1410 949.2L1411 949.2L1412 949.2L1413 949.2L1414 949.2L1415 949.2L1416 949.2L1417 949.2L1418 949.2L1419 949.2L1420 949.2L1421 949.2L1422 949.2L1423 949.2L1424 949.2L1425 949.2L1426 949.2L1427 949.2L1428 949.2L1429 949.2L1430 949.2L1431 949.2L1432 949.2L1433 949.2L1434 949.2L1435 949.2L1436 949.2L1437 949.2L1438 949.2L1439 949.2L1440 949.2L1441 949.2L1442 949.2L1443 949.2L1444 949.2L1445 949.2L1446 949.2L1447 949.2L1448 949.2L1449 949.2L1450 949.2L1451 949.2L1452 949.2L1453 949.2L1454 949.2L1455 949.2L1456 949.2L1457 949.2L1458 949.2L1459 949.2L1460 949.2L1461 949.2L1462 949.2L1463 949.2L1464 949.2L1465 949.2L1466 949.2L1467 949.2L1468 949.2L1469 949.2L1470 949.2L1471 949.2L1472 949.2L1473 949.2L1474 949.2L1475 949.2L1476 949.2L1477 949.2L1478 949.2L1479 949.2L1480 949.2L1481 949.2L1482 949.2L1483 949.2L1484 949.2L1485 949.2L1486 949.2L1487 949.2L1488 949.2L1489 949.2L1490 949.2L1491 949.2L1492 949.2L1493 949.2L1494 949.2L1495 949.2L1496 949.2L1497 949.2L1498 949.2L1499 949.2L1500 949.2" fill="none" stroke="#ff00ff" stroke-width="2.8"/>
<path d="M837 948.96L838 948.95L839 948.95L840 948.95L841 948.95L842 948.95L843 948.95L844 948.94L845 948.94L846 948.94L847 948.94L848 948.94L849 948.94L850 948.94L851 948.93L852 948.93L853 948.93L854 948.93L855 948.93L856 948.93L857 948.92L858 948.92L859 948.92L860 948.92L861 948.92L862 948.91L863 948.91L864 948.91L865 948.91L866 948.91L867 948.91L868 948.9L869 948.9L870 948.9L871 948.9L872 948.9L873 948.89L874 948.89L875 948.89L876 948.89L877 948.89L878 948.88L879 948.88L880 948.88L881 948.88L882 948.87L883 948.87L884 948.87L885 948.87L886 948.87L887 948.86L888 948.86L889 948.86L890 948.86L891 948.85L892 948.85L893 948.85L894 948.85L895 948.84L896 948.84L897 948.84L898 948.84L899 948.83L900 948.83L901 948.83L902 948.83L903 948.82L904 948.82L905 948.82L906 948.81L907 948.81L908 948.81L909 948.81L910 948.8L911 948.8L912 948.8L913 948.79L914 948.79L915 948.79L916 948.78L917 948.78L918 948.78L919 948.77L920 948.77L921 948.77L922 948.76L923 948.76L924 948.76L925 948.75L926 948.75L927 948.75L928 948.74L929 948.74L930 948.74L931 948.73L932 948.73L933 948.72L934 948.72L935 948.72L936 948.71L937 948.71L938 948.7L939 948.7L940 948.7L941 948.69L942 948.69L943 948.68L944 948.68L945 948.67L946 948.67L947 948.66L948 948.66L949 948.65L950 948.65L951 948.64L952 948.64L953 948.63L954 948.63L955 948.62L956 948.62L957 948.61L958 948.61L959 948.6L960 948.6L961 948.59L962 948.59L963 948.58L964 948.57L965 948.57L966 948.56L967 948.56L968 948.55L969 948.54L970 948.54L971 948.53L972 948.52L973 948.52L974 948.51L975 948.5L976 948.5L977 948.49L978 948.48L979 948.48L980 948.47L981 948.46L982 948.45L983 948.45L984 948.44L985 948.43L986 948.42L987 948.41L988 948.41L989 948.4L990 948.39L991 948.38L992 948.37L993 948.36L994 948.35L995 948.34L996 948.33L997 948.32L998 948.31L999 948.3L1000 948.29L1001 948.28L1002 948.27L1003 948.26L1004 948.25L1005 948.24L1006 948.23L1007 948.22L1008 948.21L1009 948.19L1010 948.18L1011 948.17L1012 948.16L1013 948.14L1014 948.13L1015 948.12L1016 948.1L1017 948.09L1018 948.08L1019 948.06L1020 948.05L1021 948.03L1022 948.02L1023 948L1024 947.99L1025 947.97L1026 947.95L1027 947.94L1028 947.92L1029 947.9L1030 947.89L1031 947.87L1032 947.85L1033 947.83L1034 947.81L1035 947.79L1036 947.77L1037 947.75L1038 947.73L1039 947.71L1040 947.69L1041 947.67L1042 947.64L1043 947.62L1044 947.6L1045 947.57L1046 947.55L1047 947.52L1048 947.5L1049 947.47L1050 947.44L1051 947.41L1052 947.39L1053 947.36L1054 947.33L1055 947.3L1056 947.26L1057 947.23L1058 947.2L1059 947.17L1060 947.13L1061 947.09L1062 947.06L1063 947.02L1064 946.98L1065 946.94L1066 946.9L1067 946.86L1068 946.82L1069 946.77L1070 946.73L1071 946.68L1072 946.64L1073 946.59L1074 946.54L1075 946.48L1076 946.43L1077 946.38L1078 946.32L1079 946.26L1080 946.2L1081 946.14L1082 946.08L1083 946.01L1084 945.94L1085 945.87L1086 945.8L1087 945.73L1088 945.65L1089 945.57L1090 945.49L1091 945.4L1092 945.31L1093 945.22L1094 945.13L1095 945.03L1096 944.93L1097 944.82L1098 944.72L1099 944.6L1100 944.49L1101 944.37L1102 944.24L1103 944.11L1104 943.97L1105 943.83L1106 943.69L1107 943.53L1108 943.38L1109 943.21L1110 943.04L1111 942.86L1112 942.67L1113 942.47L1114 942.27L1115 942.05L1116 941.83L1117 941.6L1118 941.35L1119 941.1L1120 940.83L1121 940.55L1122 940.25L1123 939.94L1124 939.61L1125 939.27L1126 938.91L1127 938.53L1128 938.13L1129 937.7L1130 937.26L1131 936.79L1132 936.29L1133 935.76L1134 935.21L1135 934.62L1136 933.99L1137 933.33L1138 932.62L1139 931.87L1140 931.08L1141 930.23L1142 929.33L1143 928.36L1144 927.34L1145 926.24L1146 925.08L1147 923.83L1148 922.5L1149 921.07L1150 919.55L1151 917.93L1152 916.19L1153 914.34L1154 912.36L1155 910.26L1156 908.02L1157 905.64L1158 903.12L1159 900.47L1160 897.68L1161 894.76L1162 891.73L1163 888.6L1164 885.41L1165 882.18L1166 878.96L1167 875.8L1168 872.76L1169 869.91L1170 867.32L1171 865.06L1172 863.21L1173 861.82L1174 860.94L1175 860.6L1176 860.83L1177 861.6L1178 862.89L1179 864.66L1180 866.84L1181 869.37L1182 872.17L1183 875.18L1184 878.32L1185 881.53L1186 884.76L1187 887.97L1188 891.11L1189 894.16L1190 897.1L1191 899.92L1192 902.6L1193 905.15L1194 907.55L1195 909.82L1196 911.95L1197 913.95L1198 915.83L1199 917.59L1200 919.24L1201 920.78L1202 922.22L1203 923.57L1204 924.83L1205 926.02L1206 927.12L1207 928.16L1208 929.14L1209 930.05L1210 930.91L1211 931.72L1212 932.48L1213 933.19L1214 933.86L1215 934.49L1216 935.09L1217 935.65L1218 936.19L1219 936.69L1220 937.17L1221 937.62L1222 938.04L1223 938.45L1224 938.83L1225 939.2L1226 939.55L1227 939.88L1228 940.19L1229 940.49L1230 940.77L1231 941.04L1232 941.3L1233 941.55L1234 941.79L1235 942.01L1236 942.23L1237 942.43L1238 942.63L1239 942.82L1240 943L1241 943.18L1242 943.34L1243 943.5L1244 943.66L1245 943.8L1246 943.95L1247 944.08L1248 944.21L1249 944.34L1250 944.46L1251 944.58L1252 944.69L1253 944.8L1254 944.91L1255 945.01L1256 945.11L1257 945.2L1258 945.3L1259 945.38L1260 945.47L1261 945.55L1262 945.63L1263 945.71L1264 945.78L1265 945.86L1266 945.93L1267 946L1268 946.06L1269 946.13L1270 946.19L1271 946.25L1272 946.31L1273 946.36L1274 946.42L1275 946.47L1276 946.53L1277 946.58L1278 946.63L1279 946.67L1280 946.72L1281 946.77L1282 946.81L1283 946.85L1284 946.89L1285 946.94L1286 946.97L1287 947.01L1288 947.05L1289 947.09L1290 947.12L1291 947.16L1292 947.19L1293 947.23L1294 947.26L1295 947.29L1296 947.32L1297 947.35L1298 947.38L1299 947.41L1300 947.44L1301 947.46L1302 947.49L1303 947.52L1304 947.54L1305 947.57L1306 947.59L1307 947.62L1308 947.64L1309 947.66L1310 947.68L1311 947.71L1312 947.73L1313 947.75L1314 947.77L1315 947.79L1316 947.81L1317 947.83L1318 947.85L1319 947.86L1320 947.88L1321 947.9L1322 947.92L1323 947.93L1324 947.95L1325 947.97L1326 947.98L1327 948L1328 948.02L1329 948.03L1330 948.05L1331 948.06L1332 948.07L1333 948.09L1334 948.1L1335 948.12L1336 948.13L1337 948.14L1338 948.15L1339 948.17L1340 948.18L1341 948.19L1342 948.2L1343 948.22L1344 948.23L1345 948.24L1346 948.25L1347 948.26L1348 948.27L1349 948.28L1350 948.29L1351 948.3L1352 948.31L1353 948.32L1354 948.33L1355 948.34L1356 948.35L1357 948.36L1358 948.37L1359 948.38L1360 948.39L1361 948.4L1362 948.4L1363 948.41L1364 948.42L1365 948.43L1366 948.44L1367 948.44L1368 948.45L1369 948.46L1370 948.47L1371 948.47L1372 948.48L1373 948.49L1374 948.5L1375 948.5L1376 948.51L1377 948.52L1378 948.52L1379 948.53L1380 948.54L1381 948.54L1382 948.55L1383 948.56L1384 948.56L1385 948.57L1386 948.57L1387 948.58L1388 948.58L1389 948.59L1390 948.6L1391 948.6L1392 948.61L1393 948.61L1394 948.62L1395 948.62L1396 948.63L1397 948.63L1398 948.64L1399 948.64L1400 948.65L1401 948.65L1402 948.66L1403 948.66L1404 948.67L1405 948.67L1406 948.68L1407 948.68L1408 948.69L1409 948.69L1410 948.69L1411 948.7L1412 948.7L1413 948.71L1414 948.71L1415 948.71L1416 948.72L1417 948.72L1418 948.73L1419 948.73L1420 948.73L1421 948.74L1422 948.74L1423 948.75L1424 948.75L1425 948.75L1426 948.76L1427 948.76L1428 948.76L1429 948.77L1430 948.77L1431 948.77L1432 948.78L1433 948.78L1434 948.78L1435 948.79L1436 948.79L1437 948.79L1438 948.8L1439 948.8L1440 948.8L1441 948.8L1442 948.81L1443 948.81L1444 948.81L1445 948.82L1446 948.82L1447 948.82L1448 948.82L1449 948.83L1450 948.83L1451 948.83L1452 948.84L1453 948.84L1454 948.84L1455 948.84L1456 948.85L1457 948.85L1458 948.85L1459 948.85L1460 948.86L1461 948.86L1462 948.86L1463 948.86L1464 948.86L1465 948.87L1466 948.87L1467 948.87L1468 948.87L1469 948.88L1470 948.88L1471 948.88L1472 948.88L1473 948.88L1474 948.89L1475 948.89L1476 948.89L1477 948.89L1478 948.9L1479 948.9L1480 948.9L1481 948.9L1482 948.9L1483 948.9L1484 948.91L1485 948.91L1486 948.91L1487 948.91L1488 948.91L1489 948.92L1490 948.92L1491 948.92L1492 948.92L1493 948.92L1494 948.92L1495 948.93L1496 948.93L1497 948.93L1498 948.93L1499 948.93L1500 948.93 L1500 949.2 L837 949.2 Z" fill="#808000" fill-opacity="0.4" stroke="none"/>
<path d="M837 948.96L838 948.95L839 948.95L840 948.95L841 948.95L842 948.95L843 948.95L844 948.94L845 948.94L846 948.94L847 948.94L848 948.94L849 948.94L850 948.94L851 948.93L852 948.93L853 948.93L854 948.93L855 948.93L856 948.93L857 948.92L858 948.92L859 948.92L860 948.92L861 948.92L862 948.91L863 948.91L864 948.91L865 948.91L866 948.91L867 948.91L868 948.9L869 948.9L870 948.9L871 948.9L872 948.9L873 948.89L874 948.89L875 948.89L876 948.89L877 948.89L878 948.88L879 948.88L880 948.88L881 948.88L882 948.87L883 948.87L884 948.87L885 948.87L886 948.87L887 948.86L888 948.86L889 948.86L890 948.86L891 948.85L892 948.85L893 948.85L894 948.85L895 948.84L896 948.84L897 948.84L898 948.84L899 948.83L900 948.83L901 948.83L902 948.83L903 948.82L904 948.82L905 948.82L906 948.81L907 948.81L908 948.81L909 948.81L910 948.8L911 948.8L912 948.8L913 948.79L914 948.79L915 948.79L916 948.78L917 948.78L918 948.78L919 948.77L920 948.77L921 948.77L922 948.76L923 948.76L924 948.76L925 948.75L926 948.75L927 948.75L928 948.74L929 948.74L930 948.74L931 948.73L932 948.73L933 948.72L934 948.72L935 948.72L936 948.71L937 948.71L938 948.7L939 948.7L940 948.7L941 948.69L942 948.69L943 948.68L944 948.68L945 948.67L946 948.67L947 948.66L948 948.66L949 948.65L950 948.65L951 948.64L952 948.64L953 948.63L954 948.63L955 948.62L956 948.62L957 948.61L958 948.61L959 948.6L960 948.6L961 948.59L962 948.59L963 948.58L964 948.57L965 948.57L966 948.56L967 948.56L968 948.55L969 948.54L970 948.54L971 948.53L972 948.52L973 948.52L974 948.51L975 948.5L976 948.5L977 948.49L978 948.48L979 948.48L980 948.47L981 948.46L982 948.45L983 948.45L984 948.44L985 948.43L986 948.42L987 948.41L988 948.41L989 948.4L990 948.39L991 948.38L992 948.37L993 948.36L994 948.35L995 948.34L996 948.33L997 948.32L998 948.31L999 948.3L1000 948.29L1001 948.28L1002 948.27L1003 948.26L1004 948.25L1005 948.24L1006 948.23L1007 948.22L1008 948.21L1009 948.19L1010 948.18L1011 948.17L1012 948.16L1013 948.14L1014 948.13L1015 948.12L1016 948.1L1017 948.09L1018 948.08L1019 948.06L1020 948.05L1021 948.03L1022 948.02L1023 948L1024 947.99L1025 947.97L1026 947.95L1027 947.94L1028 947.92L1029 947.9L1030 947.89L1031 947.87L1032 947.85L1033 947.83L1034 947.81L1035 947.79L1036 947.77L1037 947.75L1038 947.73L1039 947.71L1040 947.69L1041 947.67L1042 947.64L1043 947.62L1044 947.6L1045 947.57L1046 947.55L1047 947.52L1048 947.5L1049 947.47L1050 947.44L1051 947.41L1052 947.39L1053 947.36L1054 947.33L1055 947.3L1056 947.26L1057 947.23L1058 947.2L1059 947.17L1060 947.13L1061 947.09L1062 947.06L1063 947.02L1064 946.98L1065 946.94L1066 946.9L1067 946.86L1068 946.82L1069 946.77L1070 946.73L1071 946.68L1072 946.64L1073 946.59L1074 946.54L1075 946.48L1076 946.43L1077 946.38L1078 946.32L1079 946.26L1080 946.2L1081 946.14L1082 946.08L1083 946.01L1084 945.94L1085 945.87L1086 945.8L1087 945.73L1088 945.65L1089 945.57L1090 945.49L1091 945.4L1092 945.31L1093 945.22L1094 945.13L1095 945.03L1096 944.93L1097 944.82L1098 944.72L1099 944.6L1100 944.49L1101 944.37L1102 944.24L1103 944.11L1104 943.97L1105 943.83L1106 943.69L1107 943.53L1108 943.38L1109 943.21L1110 943.04L1111 942.86L1112 942.67L1113 942.47L1114 942.27L1115 942.05L1116 941.83L1117 941.6L1118 941.35L1119 941.1L1120 940.83L1121 940.55L1122 940.25L1123 939.94L1124 939.61L1125 939.27L1126 938.91L1127 938.53L1128 938.13L1129 937.7L1130 937.26L1131 936.79L1132 936.29L1133 935.76L1134 935.21L1135 934.62L1136 933.99L1137 933.33L1138 932.62L1139 931.87L1140 931.08L1141 930.23L1142 929.33L1143 928.36L1144 927.34L1145 926.24L1146 925.08L1147 923.83L1148 922.5L1149 921.07L1150 919.55L1151 917.93L1152 916.19L1153 914.34L1154 912.36L1155 910.26L1156 908.02L1157 905.64L1158 903.12L1159 900.47L1160 897.68L1161 894.76L1162 891.73L1163 888.6L1164 885.41L1165 882.18L1166 878.96L1167 875.8L1168 872.76L1169 869.91L1170 867.32L1171 865.06L1172 863.21L1173 861.82L1174 860.94L1175 860.6L1176 860.83L1177 861.6L1178 862.89L1179 864.66L1180 866.84L1181 869.37L1182 872.17L1183 875.18L1184 878.32L1185 881.53L1186 884.76L1187 887.97L1188 891.11L1189 894.16L1190 897.1L1191 899.92L1192 902.6L1193 905.15L1194 907.55L1195 909.82L1196 911.95L1197 913.95L1198 915.83L1199 917.59L1200 919.24L1201 920.78L1202 922.22L1203 923.57L1204 924.83L1205 926.02L1206 927.12L1207 928.16L1208 929.14L1209 930.05L1210 930.91L1211 931.72L1212 932.48L1213 933.19L1214 933.86L1215 934.49L1216 935.09L1217 935.65L1218 936.19L1219 936.69L1220 937.17L1221 937.62L1222 938.04L1223 938.45L1224 938.83L1225 939.2L1226 939.55L1227 939.88L1228 940.19L1229 940.49L1230 940.77L1231 941.04L1232 941.3L1233 941.55L1234 941.79L1235 942.01L1236 942.23L1237 942.43L1238 942.63L1239 942.82L1240 943L1241 943.18L1242 943.34L1243 943.5L1244 943.66L1245 943.8L1246 943.95L1247 944.08L1248 944.21L1249 944.34L1250 944.46L1251 944.58L1252 944.69L1253 944.8L1254 944.91L1255 945.01L1256 945.11L1257 945.2L1258 945.3L1259 945.38L1260 945.47L1261 945.55L1262 945.63L1263 945.71L1264 945.78L1265 945.86L1266 945.93L1267 946L1268 946.06L1269 946.13L1270 946.19L1271 946.25L1272 946.31L1273 946.36L1274 946.42L1275 946.47L1276 946.53L1277 946.58L1278 946.63L1279 946.67L1280 946.72L1281 946.77L1282 946.81L1283 946.85L1284 946.89L1285 946.94L1286 946.97L1287 947.01L1288 947.05L1289 947.09L1290 947.12L1291 947.16L1292 947.19L1293 947.23L1294 947.26L1295 947.29L1296 947.32L1297 947.35L1298 947.38L1299 947.41L1300 947.44L1301 947.46L1302 947.49L1303 947.52L1304 947.54L1305 947.57L1306 947.59L1307 947.62L1308 947.64L1309 947.66L1310 947.68L1311 947.71L1312 947.73L1313 947.75L1314 947.77L1315 947.79L1316 947.81L1317 947.83L1318 947.85L1319 947.86L1320 947.88L1321 947.9L1322 947.92L1323 947.93L1324 947.95L1325 947.97L1326 947.98L1327 948L1328 948.02L1329 948.03L1330 948.05L1331 948.06L1332 948.07L1333 948.09L1334 948.1L1335 948.12L1336 948.13L1337 948.14L1338 948.15L1339 948.17L1340 948.18L1341 948.19L1342 948.2L1343 948.22L1344 948.23L1345 948.24L1346 948.25L1347 948.26L1348 948.27L1349 948.28L1350 948.29L1351 948.3L1352 948.31L1353 948.32L1354 948.33L1355 948.34L1356 948.35L1357 948.36L1358 948.37L1359 948.38L1360 948.39L1361 948.4L1362 948.4L1363 948.41L1364 948.42L1365 948.43L1366 948.44L1367 948.44L1368 948.45L1369 948.46L1370 948.47L1371 948.47L1372 948.48L1373 948.49L1374 948.5L1375 948.5L1376 948.51L1377 948.52L1378 948.52L1379 948.53L1380 948.54L1381 948.54L1382 948.55L1383 948.56L1384 948.56L1385 948.57L1386 948.57L1387 948.58L1388 948.58L1389 948.59L1390 948.6L1391 948.6L1392 948.61L1393 948.61L1394 948.62L1395 948.62L1396 948.63L1397 948.63L1398 948.64L1399 948.64L1400 948.65L1401 948.65L1402 948.66L1403 948.66L1404 948.67L1405 948.67L1406 948.68L1407 948.68L1408 948.69L1409 948.69L1410 948.69L1411 948.7L1412 948.7L1413 948.71L1414 948.71L1415 948.71L1416 948.72L1417 948.72L1418 948.73L1419 948.73L1420 948.73L1421 948.74L1422 948.74L1423 948.75L1424 948.75L1425 948.75L1426 948.76L1427 948.76L1428 948.76L1429 948.77L1430 948.77L1431 948.77L1432 948.78L1433 948.78L1434 948.78L1435 948.79L1436 948.79L1437 948.79L1438 948.8L1439 948.8L1440 948.8L1441 948.8L1442 948.81L1443 948.81L1444 948.81L1445 948.82L1446 948.82L1447 948.82L1448 948.82L1449 948.83L1450 948.83L1451 948.83L1452 948.84L1453 948.84L1454 948.84L1455 948.84L1456 948.85L1457 948.85L1458 948.85L1459 948.85L1460 948.86L1461 948.86L1462 948.86L1463 948.86L1464 948.86L1465 948.87L1466 948.87L1467 948.87L1468 948.87L1469 948.88L1470 948.88L1471 948.88L1472 948.88L1473 948.88L1474 948.89L1475 948.89L1476 948.89L1477 948.89L1478 948.9L1479 948.9L1480 948.9L1481 948.9L1482 948.9L1483 948.9L1484 948.91L1485 948.91L1486 948.91L1487 948.91L1488 948.91L1489 948.92L1490 948.92L1491 948.92L1492 948.92L1493 948.92L1494 948.92L1495 948.93L1496 948.93L1497 948.93L1498 948.93L1499 948.93L1500 948.93" fill="none" stroke="#808000" stroke-width="2.8"/>
<path d="M837 949.3C844.17 949.12 866.17 948.52 880 948.2C893.83 947.88 908.33 947.35 920 947.4C931.67 947.45 938.33 948.1 950 948.5C961.67 948.9 978.33 949.72 990 949.8C1001.67 949.88 1011.67 949.23 1020 949C1028.33 948.77 1035 948.57 1040 948.4C1045 948.23 1047.33 948.48 1050 948C1052.67 947.52 1054.25 946.73 1056 945.5C1057.75 944.27 1058.7 943.13 1060.5 940.6C1062.3 938.07 1064.62 934.57 1066.8 930.3C1068.98 926.03 1071.33 920.82 1073.6 915C1075.87 909.18 1078.13 903.02 1080.4 895.4C1082.67 887.78 1085.13 877.63 1087.2 869.3C1089.27 860.97 1091.1 852.45 1092.8 845.4C1094.5 838.35 1096.1 831.82 1097.4 827C1098.7 822.18 1099.5 819.17 1100.6 816.5C1101.7 813.83 1102.85 812.15 1104 811C1105.15 809.85 1106.4 809.5 1107.5 809.6C1108.6 809.7 1109.65 811.28 1110.6 811.6C1111.55 811.92 1112.27 813.18 1113.2 811.5C1114.13 809.82 1115.3 806 1116.2 801.5C1117.1 797 1117.77 790.97 1118.6 784.5C1119.43 778.03 1120.4 769.78 1121.2 762.7C1122 755.62 1122.67 747.02 1123.4 742C1124.13 736.98 1124.77 734 1125.6 732.6C1126.43 731.2 1127.5 732.87 1128.4 733.6C1129.3 734.33 1130.13 735.68 1131 737C1131.87 738.32 1132.63 740.9 1133.6 741.5C1134.57 742.1 1135.72 742.08 1136.8 740.6C1137.88 739.12 1139.03 736.03 1140.1 732.6C1141.17 729.17 1142.32 723.93 1143.2 720C1144.08 716.07 1144.8 711.33 1145.4 709C1146 706.67 1146.27 706 1146.8 706C1147.33 706 1147.83 706.9 1148.6 709C1149.37 711.1 1150.37 714.6 1151.4 718.6C1152.43 722.6 1153.67 727.83 1154.8 733C1155.93 738.17 1157.07 743.57 1158.2 749.6C1159.33 755.63 1160.53 763.03 1161.6 769.2C1162.67 775.37 1163.47 780.13 1164.6 786.6C1165.73 793.07 1167.08 801.1 1168.4 808C1169.72 814.9 1171.1 821.77 1172.5 828C1173.9 834.23 1175.3 839.83 1176.8 845.4C1178.3 850.97 1179.82 856.2 1181.5 861.4C1183.18 866.6 1185.1 872.17 1186.9 876.6C1188.7 881.03 1190.95 885.77 1192.3 888C1193.65 890.23 1194.22 888.75 1195 890C1195.78 891.25 1196.17 894.25 1197 895.5C1197.83 896.75 1199.17 896.25 1200 897.5C1200.83 898.75 1201.17 901.75 1202 903C1202.83 904.25 1204.07 903.8 1205 905C1205.93 906.2 1206.43 909.12 1207.6 910.2C1208.77 911.28 1210.85 910.77 1212 911.5C1213.15 912.23 1213.6 914.55 1214.5 914.6C1215.4 914.65 1216.02 913.8 1217.4 911.8C1218.78 909.8 1220.98 906.65 1222.8 902.6C1224.62 898.55 1226.67 892.53 1228.3 887.5C1229.93 882.47 1231.15 878.18 1232.6 872.4C1234.05 866.62 1235.55 860.4 1237 852.8C1238.45 845.2 1239.85 836.27 1241.3 826.8C1242.75 817.33 1244.43 804.8 1245.7 796C1246.97 787.2 1247.82 780.47 1248.9 774C1249.98 767.53 1251.1 761.12 1252.2 757.2C1253.3 753.28 1254.48 751.63 1255.5 750.5C1256.52 749.37 1257.3 749.78 1258.3 750.4C1259.3 751.02 1260.23 751.55 1261.5 754.2C1262.77 756.85 1264.45 761.38 1265.9 766.3C1267.35 771.22 1268.78 778.27 1270.2 783.7C1271.62 789.13 1273.05 794.18 1274.4 798.9C1275.75 803.62 1276.98 808.2 1278.3 812C1279.62 815.8 1280.92 818.08 1282.3 821.7C1283.68 825.32 1285.15 829.52 1286.6 833.7C1288.05 837.88 1289.55 842.45 1291 846.8C1292.45 851.15 1293.85 855.1 1295.3 859.8C1296.75 864.5 1298.25 869.92 1299.7 875C1301.15 880.08 1302.73 886.12 1304 890.3C1305.27 894.48 1306.4 897.98 1307.3 900.1C1308.2 902.22 1308.58 903.32 1309.4 903C1310.22 902.68 1311.18 901.03 1312.2 898.2C1313.22 895.37 1314.4 889.7 1315.5 886C1316.6 882.3 1317.82 878.57 1318.8 876C1319.78 873.43 1320.6 871.82 1321.4 870.6C1322.2 869.38 1322.82 868.23 1323.6 868.7C1324.38 869.17 1325.23 870.43 1326.1 873.4C1326.97 876.37 1327.82 881 1328.8 886.5C1329.78 892 1330.92 900.5 1332 906.4C1333.08 912.3 1334.25 917.58 1335.3 921.9C1336.35 926.22 1337.1 929.57 1338.3 932.3C1339.5 935.03 1341.08 937.22 1342.5 938.3C1343.92 939.38 1345.17 939.12 1346.8 938.8C1348.43 938.48 1350.3 937.27 1352.3 936.4C1354.3 935.53 1356.63 934.45 1358.8 933.6C1360.97 932.75 1363.48 931.87 1365.3 931.3C1367.12 930.73 1367.82 930.15 1369.7 930.2C1371.58 930.25 1374.33 930.65 1376.6 931.6C1378.87 932.55 1381.07 934.38 1383.3 935.9C1385.53 937.42 1387.82 939.25 1390 940.7C1392.18 942.15 1393.98 943.35 1396.4 944.6C1398.82 945.85 1400.98 947.43 1404.5 948.2C1408.02 948.97 1409.92 949.13 1417.5 949.2C1425.08 949.27 1436.48 948.73 1450 948.6C1463.52 948.47 1490.5 948.43 1498.6 948.4" fill="none" stroke="#000" stroke-width="2.8" stroke-linejoin="round"/>
<path d="M1101.5 969 V775" fill="none" stroke="#ff8000" stroke-width="3" stroke-dasharray="7.1 5.9"/>
<path d="M1124.9 969 V706.4" fill="none" stroke="#800080" stroke-width="3" stroke-dasharray="7.1 5.9"/>
<path d="M1146.1 969 V630.3" fill="none" stroke="#008000" stroke-width="3" stroke-dasharray="7.1 5.9"/>
<path d="M1153.3 969 V673.8" fill="none" stroke="#ff00ff" stroke-width="3" stroke-dasharray="7.1 5.9"/>
<path d="M1174.8 969 V756.7" fill="none" stroke="#808000" stroke-width="3" stroke-dasharray="7.1 5.9"/>
<path d="M837 948.7C855.83 948.67 919.5 948.65 950 948.5C980.5 948.35 1005 948.12 1020 947.8C1035 947.48 1034.5 946.95 1040 946.6C1045.5 946.25 1049.25 946.62 1053 945.7C1056.75 944.78 1059.8 943.67 1062.5 941.1C1065.2 938.53 1066.95 934.65 1069.2 930.3C1071.45 925.95 1073.82 920.82 1076 915C1078.18 909.18 1080.17 903.02 1082.3 895.4C1084.43 887.78 1086.85 877.63 1088.8 869.3C1090.75 860.97 1092.47 852.45 1094 845.4C1095.53 838.35 1096.82 831.37 1098 827C1099.18 822.63 1099.88 821.03 1101.1 819.2C1102.32 817.37 1103.88 816.53 1105.3 816C1106.72 815.47 1108.33 816.53 1109.6 816C1110.87 815.47 1111.8 815.15 1112.9 812.8C1114 810.45 1115.22 806.62 1116.2 801.9C1117.18 797.18 1117.9 791.03 1118.8 784.5C1119.7 777.97 1120.77 769.6 1121.6 762.7C1122.43 755.8 1123.07 747.82 1123.8 743.1C1124.53 738.38 1125.1 735.67 1126 734.4C1126.9 733.13 1127.93 734.42 1129.2 735.5C1130.47 736.58 1132.33 740.18 1133.6 740.9C1134.87 741.62 1135.72 741.25 1136.8 739.8C1137.88 738.35 1139 735.28 1140.1 732.2C1141.2 729.12 1142.38 724.38 1143.4 721.3C1144.42 718.22 1145.3 715.15 1146.2 713.7C1147.1 712.25 1147.93 711.68 1148.8 712.6C1149.67 713.52 1150.48 715.93 1151.4 719.2C1152.32 722.47 1153.28 727.13 1154.3 732.2C1155.32 737.27 1156.42 743.43 1157.5 749.6C1158.58 755.77 1159.72 763.03 1160.8 769.2C1161.88 775.37 1162.73 780.07 1164 786.6C1165.27 793.13 1166.93 801.5 1168.4 808.4C1169.87 815.3 1171.35 821.83 1172.8 828C1174.25 834.17 1175.65 839.97 1177.1 845.4C1178.55 850.83 1179.87 855.53 1181.5 860.6C1183.13 865.67 1185.1 871.45 1186.9 875.8C1188.7 880.15 1189.95 882.33 1192.3 886.7C1194.65 891.07 1198.45 898 1201 902C1203.55 906 1205.6 908.68 1207.6 910.7C1209.6 912.72 1211.37 913.97 1213 914.1C1214.63 914.23 1215.77 913.47 1217.4 911.5C1219.03 909.53 1220.98 906.37 1222.8 902.3C1224.62 898.23 1226.67 892.17 1228.3 887.1C1229.93 882.03 1231.15 877.7 1232.6 871.9C1234.05 866.1 1235.55 859.92 1237 852.3C1238.45 844.68 1239.85 835.63 1241.3 826.2C1242.75 816.77 1244.43 804.4 1245.7 795.7C1246.97 787 1247.82 780.35 1248.9 774C1249.98 767.65 1251.1 761.6 1252.2 757.6C1253.3 753.6 1254.58 751.55 1255.5 750C1256.42 748.45 1256.8 747.93 1257.7 748.3C1258.6 748.67 1259.63 749.37 1260.9 752.2C1262.17 755.03 1263.85 760.22 1265.3 765.3C1266.75 770.38 1268.15 777.27 1269.6 782.7C1271.05 788.13 1272.55 793.18 1274 797.9C1275.45 802.62 1276.85 807.2 1278.3 811C1279.75 814.8 1281.25 817.08 1282.7 820.7C1284.15 824.32 1285.55 828.52 1287 832.7C1288.45 836.88 1289.95 841.45 1291.4 845.8C1292.85 850.15 1294.25 854.1 1295.7 858.8C1297.15 863.5 1298.65 868.92 1300.1 874C1301.55 879.08 1303.13 885.12 1304.4 889.3C1305.67 893.48 1306.87 897.12 1307.7 899.1C1308.53 901.08 1308.68 901.57 1309.4 901.2C1310.12 900.83 1311.02 899.62 1312 896.9C1312.98 894.18 1314.2 888.53 1315.3 884.9C1316.4 881.27 1317.62 877.45 1318.6 875.1C1319.58 872.75 1320.4 871.7 1321.2 870.8C1322 869.9 1322.65 869.17 1323.4 869.7C1324.15 870.23 1324.87 871.1 1325.7 874C1326.53 876.9 1327.42 881.65 1328.4 887.1C1329.38 892.55 1330.52 900.9 1331.6 906.7C1332.68 912.5 1333.82 917.73 1334.9 921.9C1335.98 926.07 1336.83 929.17 1338.1 931.7C1339.37 934.23 1341.05 936.12 1342.5 937.1C1343.95 938.08 1345.17 937.88 1346.8 937.6C1348.43 937.32 1350.3 936.2 1352.3 935.4C1354.3 934.6 1356.63 933.48 1358.8 932.8C1360.97 932.12 1363.48 931.6 1365.3 931.3C1367.12 931 1367.88 930.75 1369.7 931C1371.52 931.25 1374.03 931.78 1376.2 932.8C1378.37 933.82 1380.52 935.65 1382.7 937.1C1384.88 938.55 1387.12 940.23 1389.3 941.5C1391.48 942.77 1393.27 943.68 1395.8 944.7C1398.33 945.72 1400.88 946.98 1404.5 947.6C1408.12 948.22 1401.82 948.22 1417.5 948.4C1433.18 948.58 1485.08 948.65 1498.6 948.7" fill="none" stroke="#ff0000" stroke-width="3" stroke-linejoin="round"/>
</g>
<rect x="837" y="585.8" width="661.6" height="397.7" fill="none" stroke="#000" stroke-width="3"/>
<line x1="837" y1="983.5" x2="837" y2="995.3" stroke="#000" stroke-width="3" />
<text x="836.8" y="1022.8" font-family='"Liberation Sans", sans-serif' font-size="25.6" text-anchor="middle" fill="#000" stroke="#000" stroke-width="0.35" >2000</text>
<line x1="910.59" y1="983.5" x2="910.59" y2="989.9" stroke="#000" stroke-width="3" />
<line x1="984.17" y1="983.5" x2="984.17" y2="995.3" stroke="#000" stroke-width="3" />
<text x="983.97" y="1022.8" font-family='"Liberation Sans", sans-serif' font-size="25.6" text-anchor="middle" fill="#000" stroke="#000" stroke-width="0.35" >1800</text>
<line x1="1057.76" y1="983.5" x2="1057.76" y2="989.9" stroke="#000" stroke-width="3" />
<line x1="1131.35" y1="983.5" x2="1131.35" y2="995.3" stroke="#000" stroke-width="3" />
<text x="1131.15" y="1022.8" font-family='"Liberation Sans", sans-serif' font-size="25.6" text-anchor="middle" fill="#000" stroke="#000" stroke-width="0.35" >1600</text>
<line x1="1204.94" y1="983.5" x2="1204.94" y2="989.9" stroke="#000" stroke-width="3" />
<line x1="1278.53" y1="983.5" x2="1278.53" y2="995.3" stroke="#000" stroke-width="3" />
<text x="1278.33" y="1022.8" font-family='"Liberation Sans", sans-serif' font-size="25.6" text-anchor="middle" fill="#000" stroke="#000" stroke-width="0.35" >1400</text>
<line x1="1352.11" y1="983.5" x2="1352.11" y2="989.9" stroke="#000" stroke-width="3" />
<line x1="1425.7" y1="983.5" x2="1425.7" y2="995.3" stroke="#000" stroke-width="3" />
<text x="1425.5" y="1022.8" font-family='"Liberation Sans", sans-serif' font-size="25.6" text-anchor="middle" fill="#000" stroke="#000" stroke-width="0.35" >1200</text>
<text x="785.4" y="577.6" font-family='"Liberation Sans", sans-serif' font-size="30.5" text-anchor="start" fill="#000" font-weight="bold" >d</text>
<text x="1169" y="1069.4" font-family='"Liberation Sans", sans-serif' font-size="25.9" text-anchor="middle" fill="#000" stroke="#000" stroke-width="0.35" >Wavenumber (cm<tspan font-size="16.2" dy="-10.8">-1</tspan><tspan dy="10.8" font-size="1">&#8203;</tspan>)</text>
<text transform="translate(808.4,782.5) rotate(-90)" font-family='"Liberation Sans", sans-serif' font-size="26.1" text-anchor="middle" stroke="#000" stroke-width="0.35">Kubelka-Munk (arb. u.)</text>
<text x="846.4" y="616.4" font-family='"Liberation Sans", sans-serif' font-size="25.6" text-anchor="start" fill="#000" stroke="#000" stroke-width="0.35" >PdOAc/KOAc/SiO<tspan font-size="17" dy="6.5">2</tspan><tspan dy="-6.5" font-size="1">&#8203;</tspan></text>
<text x="1093.6" y="621.2" font-family='"Liberation Sans", sans-serif' font-size="25.6" text-anchor="start" fill="#008000" stroke="#008000" stroke-width="0.35" >1580</text>
<text x="1152.4" y="669.3" font-family='"Liberation Sans", sans-serif' font-size="25.6" text-anchor="start" fill="#ff00ff" stroke="#ff00ff" stroke-width="0.35" >1570</text>
<text x="1073" y="701.1" font-family='"Liberation Sans", sans-serif' font-size="25.6" text-anchor="start" fill="#800080" stroke="#800080" stroke-width="0.35" >1610</text>
<text x="1169.7" y="748.5" font-family='"Liberation Sans", sans-serif' font-size="25.6" text-anchor="start" fill="#808000" stroke="#808000" stroke-width="0.35" >1545</text>
<text x="1049" y="768.1" font-family='"Liberation Sans", sans-serif' font-size="25.6" text-anchor="start" fill="#ff8000" stroke="#ff8000" stroke-width="0.35" >1640</text>
<text x="1402" y="852.4" font-family='"Liberation Sans", sans-serif' font-size="25.6" text-anchor="start" fill="#000" stroke="#000" stroke-width="0.35" ><tspan font-family='"Liberation Serif", serif' font-style="italic" font-size="27" letter-spacing="-2.2">&#957;</tspan>(C-O)</text>
<line x1="1397.5" y1="861.4" x2="1378.6" y2="913.51" stroke="#000" stroke-width="2" /><polygon points="1374,926.2 1375.05,910.09 1383.51,913.16" fill="#000"/>
<rect x="70.4" y="1119.6" width="393.4" height="256.2" fill="none" stroke="#ff8000" stroke-width="2.7"/>
<line x1="169.7" y1="1143.8" x2="169.7" y2="1175.8" stroke="#000" stroke-width="1.85" /><line x1="169.7" y1="1175.8" x2="187.4" y2="1186" stroke="#000" stroke-width="1.85" /><line x1="170.2" y1="1175.6" x2="150.4" y2="1186.9" stroke="#000" stroke-width="1.85" /><line x1="153.8" y1="1192" x2="169.4" y2="1183" stroke="#000" stroke-width="1.85" /><line x1="269.3" y1="1143.8" x2="269.3" y2="1175.8" stroke="#000" stroke-width="1.85" /><line x1="269.3" y1="1175.8" x2="250.3" y2="1186.8" stroke="#000" stroke-width="1.85" /><line x1="269.3" y1="1175.8" x2="288.3" y2="1186.8" stroke="#000" stroke-width="1.85" /><line x1="252.8" y1="1191.9" x2="257.2" y2="1189.5" stroke="#000" stroke-width="1.85" /><line x1="263" y1="1186.3" x2="269.3" y2="1182.8" stroke="#000" stroke-width="1.85" /><line x1="269.3" y1="1182.8" x2="275.6" y2="1186.3" stroke="#000" stroke-width="1.85" /><line x1="281.4" y1="1189.5" x2="285.8" y2="1191.9" stroke="#000" stroke-width="1.85" /><line x1="368.9" y1="1143.8" x2="368.9" y2="1175.8" stroke="#000" stroke-width="1.85" /><line x1="368.9" y1="1175.8" x2="351.2" y2="1186" stroke="#000" stroke-width="1.85" /><line x1="368.4" y1="1175.6" x2="388.2" y2="1186.9" stroke="#000" stroke-width="1.85" /><line x1="384.8" y1="1192" x2="369.2" y2="1183" stroke="#000" stroke-width="1.85" /><line x1="169.7" y1="1283.8" x2="169.7" y2="1251.8" stroke="#000" stroke-width="1.85" /><line x1="169.7" y1="1251.8" x2="187.4" y2="1241.6" stroke="#000" stroke-width="1.85" /><line x1="170.2" y1="1252" x2="150.4" y2="1240.7" stroke="#000" stroke-width="1.85" /><line x1="153.8" y1="1235.6" x2="169.4" y2="1244.6" stroke="#000" stroke-width="1.85" /><line x1="269.3" y1="1283.8" x2="269.3" y2="1251.8" stroke="#000" stroke-width="1.85" /><line x1="269.3" y1="1251.8" x2="250.3" y2="1240.8" stroke="#000" stroke-width="1.85" /><line x1="269.3" y1="1251.8" x2="288.3" y2="1240.8" stroke="#000" stroke-width="1.85" /><line x1="252.8" y1="1235.7" x2="257.2" y2="1238.1" stroke="#000" stroke-width="1.85" /><line x1="263" y1="1241.3" x2="269.3" y2="1244.8" stroke="#000" stroke-width="1.85" /><line x1="269.3" y1="1244.8" x2="275.6" y2="1241.3" stroke="#000" stroke-width="1.85" /><line x1="281.4" y1="1238.1" x2="285.8" y2="1235.7" stroke="#000" stroke-width="1.85" /><line x1="368.9" y1="1283.8" x2="368.9" y2="1251.8" stroke="#000" stroke-width="1.85" /><line x1="368.9" y1="1251.8" x2="351.2" y2="1241.6" stroke="#000" stroke-width="1.85" /><line x1="368.4" y1="1252" x2="388.2" y2="1240.7" stroke="#000" stroke-width="1.85" /><line x1="384.8" y1="1235.6" x2="369.2" y2="1244.6" stroke="#000" stroke-width="1.85" /><line x1="204.2" y1="1199.3" x2="208.4" y2="1203.4" stroke="#000" stroke-width="1.85" /><line x1="233.8" y1="1199.9" x2="230" y2="1203.6" stroke="#000" stroke-width="1.85" /><line x1="207.7" y1="1225.9" x2="203.9" y2="1229.3" stroke="#000" stroke-width="1.85" /><line x1="230.6" y1="1225.3" x2="235" y2="1229.7" stroke="#000" stroke-width="1.85" /><line x1="334.4" y1="1199.3" x2="330.2" y2="1203.4" stroke="#000" stroke-width="1.85" /><line x1="304.8" y1="1199.9" x2="308.6" y2="1203.6" stroke="#000" stroke-width="1.85" /><line x1="330.9" y1="1225.9" x2="334.7" y2="1229.3" stroke="#000" stroke-width="1.85" /><line x1="308" y1="1225.3" x2="303.6" y2="1229.7" stroke="#000" stroke-width="1.85" />
<text x="143.3" y="1202.5" font-family='"Liberation Sans", sans-serif' font-size="21.5" text-anchor="middle" fill="#000" stroke="#000" stroke-width="0.35" >O</text>
<text x="143.3" y="1241.5" font-family='"Liberation Sans", sans-serif' font-size="21.5" text-anchor="middle" fill="#000" stroke="#000" stroke-width="0.35" >O</text>
<text x="395.3" y="1202.5" font-family='"Liberation Sans", sans-serif' font-size="21.5" text-anchor="middle" fill="#000" stroke="#000" stroke-width="0.35" >O</text>
<text x="395.3" y="1241.5" font-family='"Liberation Sans", sans-serif' font-size="21.5" text-anchor="middle" fill="#000" stroke="#000" stroke-width="0.35" >O</text>
<text x="197.8" y="1198.9" font-family='"Liberation Sans", sans-serif' font-size="21.5" text-anchor="middle" fill="#000" stroke="#000" stroke-width="0.35" >O</text>
<text x="197.8" y="1244.1" font-family='"Liberation Sans", sans-serif' font-size="21.5" text-anchor="middle" fill="#000" stroke="#000" stroke-width="0.35" >O</text>
<text x="340.8" y="1198.9" font-family='"Liberation Sans", sans-serif' font-size="21.5" text-anchor="middle" fill="#000" stroke="#000" stroke-width="0.35" >O</text>
<text x="340.8" y="1244.1" font-family='"Liberation Sans", sans-serif' font-size="21.5" text-anchor="middle" fill="#000" stroke="#000" stroke-width="0.35" >O</text>
<text x="241.7" y="1198.9" font-family='"Liberation Sans", sans-serif' font-size="21.5" text-anchor="middle" fill="#000" stroke="#000" stroke-width="0.35" >O</text>
<text x="241.7" y="1244.1" font-family='"Liberation Sans", sans-serif' font-size="21.5" text-anchor="middle" fill="#000" stroke="#000" stroke-width="0.35" >O</text>
<text x="296.9" y="1198.9" font-family='"Liberation Sans", sans-serif' font-size="21.5" text-anchor="middle" fill="#000" stroke="#000" stroke-width="0.35" >O</text>
<text x="296.9" y="1244.1" font-family='"Liberation Sans", sans-serif' font-size="21.5" text-anchor="middle" fill="#000" stroke="#000" stroke-width="0.35" >O</text>
<text x="207.6" y="1221.3" font-family='"Liberation Sans", sans-serif' font-size="21" text-anchor="start" fill="#000" stroke="#000" stroke-width="0.35" >Pd</text>
<text x="306.3" y="1221.3" font-family='"Liberation Sans", sans-serif' font-size="21" text-anchor="start" fill="#000" stroke="#000" stroke-width="0.35" >Pd</text>
<path d="M131 1135.8 H121 V1292.6 H131" fill="none" stroke="#000" stroke-width="1.85"/>
<path d="M401.8 1135.8 H411.8 V1292.6 H401.8" fill="none" stroke="#000" stroke-width="1.85"/>
<text x="416.2" y="1144.8" font-family='"Liberation Sans", sans-serif' font-size="21" text-anchor="start" fill="#000" stroke="#000" stroke-width="0.35" >2-</text>
<text x="83.8" y="1221.2" font-family='"Liberation Sans", sans-serif' font-size="22.5" text-anchor="start" fill="#000" stroke="#000" stroke-width="0.35" >K</text>
<circle cx="105.2" cy="1200.8" r="6.7" fill="none" stroke="#000" stroke-width="1.5"/><line x1="101.31" y1="1200.8" x2="109.09" y2="1200.8" stroke="#000" stroke-width="1.5" /><line x1="105.2" y1="1196.91" x2="105.2" y2="1204.69" stroke="#000" stroke-width="1.5" />
<text x="421.4" y="1221.2" font-family='"Liberation Sans", sans-serif' font-size="22.5" text-anchor="start" fill="#000" stroke="#000" stroke-width="0.35" >K</text>
<circle cx="442" cy="1200.5" r="6.7" fill="none" stroke="#000" stroke-width="1.5"/><line x1="438.11" y1="1200.5" x2="445.89" y2="1200.5" stroke="#000" stroke-width="1.5" /><line x1="442" y1="1196.61" x2="442" y2="1204.39" stroke="#000" stroke-width="1.5" />
<text x="263.9" y="1326.9" font-family='"Liberation Sans", sans-serif' font-size="25.6" text-anchor="middle" fill="#000" stroke="#000" stroke-width="0.35" ><tspan font-family='"Liberation Serif", serif' font-style="italic" font-size="27" letter-spacing="-2.2">&#957;</tspan><tspan font-size="17" dy="6">as</tspan><tspan dy="-6" font-size="1">&#8203;</tspan>(COO)</text><text x="262.3" y="1366.1" font-family='"Liberation Sans", sans-serif' font-size="25.6" text-anchor="middle" fill="#000" stroke="#000" stroke-width="0.35" >1640 cm<tspan font-size="15.6" dy="-10.8">-1</tspan><tspan dy="10.8" font-size="1">&#8203;</tspan></text>
<rect x="540" y="1113.8" width="172.7" height="264.1" fill="none" stroke="#800080" stroke-width="3.2"/>
<polygon points="563.06,1199.62 568.14,1195.78 569.37,1202.31" fill="#000"/>
<polygon points="678.74,1195.42 683.96,1198.32 679.46,1201.36" fill="#000"/>
<polygon points="575.39,1220.09 576.77,1221.03 570.09,1238.8 564.29,1235.9" fill="#000"/>
<polygon points="677.29,1225.38 678.45,1224.95 687.44,1235.9 681.64,1238.8" fill="#000"/>
<line x1="624.84" y1="1127.61" x2="624.84" y2="1160.25" stroke="#000" stroke-width="1.85" /><line x1="624.84" y1="1160.25" x2="608.17" y2="1170.04" stroke="#000" stroke-width="1.85" /><line x1="619.77" y1="1169.46" x2="624.48" y2="1166.27" stroke="#000" stroke-width="1.85" /><line x1="624.48" y1="1166.27" x2="630.28" y2="1170.04" stroke="#000" stroke-width="1.85" /><line x1="611.07" y1="1175.11" x2="616.14" y2="1171.99" stroke="#000" stroke-width="1.85" /><line x1="559.94" y1="1151.54" x2="574.81" y2="1178.74" stroke="#000" stroke-width="1.85" /><line x1="574.81" y1="1178.74" x2="594.75" y2="1195.42" stroke="#000" stroke-width="1.85" /><line x1="574.95" y1="1179.75" x2="566.47" y2="1184.54" stroke="#000" stroke-width="1.85" /><line x1="568.64" y1="1188.53" x2="574.08" y2="1185.41" stroke="#000" stroke-width="1.85" /><line x1="574.08" y1="1185.41" x2="577.35" y2="1188.53" stroke="#000" stroke-width="1.85" /><line x1="580.25" y1="1191.43" x2="584.38" y2="1194.69" stroke="#000" stroke-width="1.85" /><line x1="586.77" y1="1196.87" x2="590.76" y2="1200.13" stroke="#000" stroke-width="1.85" /><line x1="583.36" y1="1203.76" x2="586.05" y2="1204.99" stroke="#000" stroke-width="1.85" /><line x1="590.4" y1="1184.9" x2="597.65" y2="1188.53" stroke="#000" stroke-width="1.85" /><line x1="609.62" y1="1209.92" x2="616.5" y2="1216.81" stroke="#000" stroke-width="1.85" /><line x1="624.71" y1="1160.25" x2="643.21" y2="1170.4" stroke="#000" stroke-width="1.85" /><line x1="634.14" y1="1172.57" x2="640.67" y2="1175.84" stroke="#000" stroke-width="1.85" /><line x1="685.63" y1="1152.27" x2="670.04" y2="1179.46" stroke="#000" stroke-width="1.85" /><line x1="670.04" y1="1179.46" x2="656.26" y2="1194.33" stroke="#000" stroke-width="1.85" /><line x1="669.89" y1="1179.46" x2="678.38" y2="1183.45" stroke="#000" stroke-width="1.85" /><line x1="670.76" y1="1184.9" x2="676.93" y2="1187.8" stroke="#000" stroke-width="1.85" /><line x1="670.91" y1="1185.05" x2="667.28" y2="1190.49" stroke="#000" stroke-width="1.85" /><line x1="664.38" y1="1193.6" x2="659.88" y2="1198.32" stroke="#000" stroke-width="1.85" /><line x1="662.78" y1="1200.49" x2="665.69" y2="1199.41" stroke="#000" stroke-width="1.85" /><line x1="654.08" y1="1188.53" x2="659.52" y2="1185.63" stroke="#000" stroke-width="1.85" /><line x1="641.75" y1="1210.28" x2="636.53" y2="1216.45" stroke="#000" stroke-width="1.85" /><line x1="587.86" y1="1229.73" x2="593.66" y2="1226.25" stroke="#000" stroke-width="1.85" /><line x1="576.62" y1="1268.17" x2="560.67" y2="1296.45" stroke="#000" stroke-width="1.85" /><line x1="576.62" y1="1268.17" x2="568.64" y2="1255.84" stroke="#000" stroke-width="1.85" /><line x1="576.62" y1="1268.17" x2="595.47" y2="1262.22" stroke="#000" stroke-width="1.85" /><line x1="572.27" y1="1253.66" x2="574.66" y2="1257.29" stroke="#000" stroke-width="1.85" /><line x1="576.26" y1="1260.04" x2="578.29" y2="1263.23" stroke="#000" stroke-width="1.85" /><line x1="578.29" y1="1263.23" x2="583.15" y2="1261.64" stroke="#000" stroke-width="1.85" /><line x1="588.44" y1="1258.88" x2="593.66" y2="1257.29" stroke="#000" stroke-width="1.85" /><line x1="625.93" y1="1255.11" x2="625.93" y2="1288.47" stroke="#000" stroke-width="1.85" /><line x1="625.93" y1="1255.11" x2="616.14" y2="1249.31" stroke="#000" stroke-width="1.85" /><line x1="620.49" y1="1245.32" x2="625.93" y2="1248.59" stroke="#000" stroke-width="1.85" /><line x1="617.96" y1="1240.97" x2="611.43" y2="1250.76" stroke="#000" stroke-width="1.85" /><line x1="609.62" y1="1238.43" x2="613.24" y2="1240.61" stroke="#000" stroke-width="1.85" /><line x1="606.35" y1="1243.51" x2="609.98" y2="1245.69" stroke="#000" stroke-width="1.85" /><line x1="656.98" y1="1225.38" x2="662.42" y2="1229.37" stroke="#000" stroke-width="1.85" /><line x1="670.76" y1="1267.44" x2="687.08" y2="1295.72" stroke="#000" stroke-width="1.85" /><line x1="670.76" y1="1267.44" x2="682.36" y2="1255.84" stroke="#000" stroke-width="1.85" /><line x1="670.76" y1="1267.44" x2="656.98" y2="1263.45" stroke="#000" stroke-width="1.85" /><line x1="658.43" y1="1259.32" x2="663.51" y2="1260.77" stroke="#000" stroke-width="1.85" /><line x1="665.32" y1="1261.64" x2="670.04" y2="1263.09" stroke="#000" stroke-width="1.85" /><line x1="670.04" y1="1263.09" x2="673.3" y2="1259.46" stroke="#000" stroke-width="1.85" /><line x1="675.47" y1="1255.47" x2="678.74" y2="1251.85" stroke="#000" stroke-width="1.85" /><line x1="625.8" y1="1255.11" x2="635.59" y2="1249.67" stroke="#000" stroke-width="1.85" /><line x1="625.8" y1="1249.31" x2="630.51" y2="1246.05" stroke="#000" stroke-width="1.85" /><line x1="634.5" y1="1240.97" x2="641.03" y2="1251.12" stroke="#000" stroke-width="1.85" /><line x1="638.13" y1="1239.52" x2="640.67" y2="1238.29" stroke="#000" stroke-width="1.85" /><line x1="641.75" y1="1244.23" x2="644.29" y2="1243.15" stroke="#000" stroke-width="1.85" />
<text x="599.46" y="1183.53" font-family='"Liberation Sans", sans-serif' font-size="21.5" text-anchor="middle" fill="#000" stroke="#000" stroke-width="0.35" >O</text>
<text x="557.4" y="1197.31" font-family='"Liberation Sans", sans-serif' font-size="21.5" text-anchor="middle" fill="#000" stroke="#000" stroke-width="0.35" >O</text>
<text x="602.73" y="1209.64" font-family='"Liberation Sans", sans-serif' font-size="21.5" text-anchor="middle" fill="#000" stroke="#000" stroke-width="0.35" >O</text>
<text x="652.99" y="1183.53" font-family='"Liberation Sans", sans-serif' font-size="21.5" text-anchor="middle" fill="#000" stroke="#000" stroke-width="0.35" >O</text>
<text x="688.17" y="1195.5" font-family='"Liberation Sans", sans-serif' font-size="21.5" text-anchor="middle" fill="#000" stroke="#000" stroke-width="0.35" >O</text>
<text x="650.09" y="1209.64" font-family='"Liberation Sans", sans-serif' font-size="21.5" text-anchor="middle" fill="#000" stroke="#000" stroke-width="0.35" >O</text>
<text x="562.48" y="1255.2" font-family='"Liberation Sans", sans-serif' font-size="21.5" text-anchor="middle" fill="#000" stroke="#000" stroke-width="0.35" >O</text>
<text x="597.29" y="1246.13" font-family='"Liberation Sans", sans-serif' font-size="21.5" text-anchor="middle" fill="#000" stroke="#000" stroke-width="0.35" >O</text>
<text x="606.35" y="1267.52" font-family='"Liberation Sans", sans-serif' font-size="21.5" text-anchor="middle" fill="#000" stroke="#000" stroke-width="0.35" >O</text>
<text x="689.98" y="1255.56" font-family='"Liberation Sans", sans-serif' font-size="21.5" text-anchor="middle" fill="#000" stroke="#000" stroke-width="0.35" >O</text>
<text x="652.99" y="1244.68" font-family='"Liberation Sans", sans-serif' font-size="21.5" text-anchor="middle" fill="#000" stroke="#000" stroke-width="0.35" >O</text>
<text x="647.92" y="1269.34" font-family='"Liberation Sans", sans-serif' font-size="21.5" text-anchor="middle" fill="#000" stroke="#000" stroke-width="0.35" >O</text>
<text x="566.78" y="1221.39" font-family='"Liberation Sans", sans-serif' font-size="21" text-anchor="start" fill="#000" stroke="#000" stroke-width="0.35" >Pd</text>
<text x="614.28" y="1235.17" font-family='"Liberation Sans", sans-serif' font-size="21" text-anchor="start" fill="#000" stroke="#000" stroke-width="0.35" >Pd</text>
<text x="657.66" y="1219.58" font-family='"Liberation Sans", sans-serif' font-size="21" text-anchor="start" fill="#000" stroke="#000" stroke-width="0.35" >Pd</text>
<text x="629.4" y="1326.3" font-family='"Liberation Sans", sans-serif' font-size="25.6" text-anchor="middle" fill="#000" stroke="#000" stroke-width="0.35" ><tspan font-family='"Liberation Serif", serif' font-style="italic" font-size="27" letter-spacing="-2.2">&#957;</tspan><tspan font-size="17" dy="6">as</tspan><tspan dy="-6" font-size="1">&#8203;</tspan>(COO)</text><text x="626.5" y="1366.6" font-family='"Liberation Sans", sans-serif' font-size="25.6" text-anchor="middle" fill="#000" stroke="#000" stroke-width="0.35" >1610 cm<tspan font-size="15.6" dy="-10.8">-1</tspan><tspan dy="10.8" font-size="1">&#8203;</tspan></text>
<rect x="788.6" y="1210.6" width="133.3" height="166.2" fill="none" stroke="#008000" stroke-width="3"/>
<line x1="871.2" y1="1225.4" x2="871.2" y2="1257.2" stroke="#000" stroke-width="1.85" /><line x1="871.2" y1="1257.2" x2="852.7" y2="1267.9" stroke="#000" stroke-width="1.85" /><line x1="871" y1="1257" x2="889.5" y2="1267.9" stroke="#000" stroke-width="1.85" /><line x1="870.1" y1="1263.1" x2="886.3" y2="1272.3" stroke="#000" stroke-width="1.85" />
<text x="843.8" y="1281.6" font-family='"Liberation Sans", sans-serif' font-size="21.5" text-anchor="middle" fill="#000" stroke="#000" stroke-width="0.35" >O</text>
<text x="896.1" y="1283.4" font-family='"Liberation Sans", sans-serif' font-size="21.5" text-anchor="middle" fill="#000" stroke="#000" stroke-width="0.35" >O</text>
<text x="802.6" y="1286.8" font-family='"Liberation Sans", sans-serif' font-size="21" text-anchor="start" fill="#000" stroke="#000" stroke-width="0.35" >K</text>
<circle cx="823.2" cy="1265.7" r="6.7" fill="none" stroke="#000" stroke-width="1.5"/><line x1="819.31" y1="1265.7" x2="827.09" y2="1265.7" stroke="#000" stroke-width="1.5" /><line x1="823.2" y1="1261.81" x2="823.2" y2="1269.59" stroke="#000" stroke-width="1.5" />
<circle cx="843.8" cy="1253.3" r="6.7" fill="none" stroke="#000" stroke-width="1.5"/><line x1="839.91" y1="1253.3" x2="847.69" y2="1253.3" stroke="#000" stroke-width="1.5" />
<text x="861.7" y="1321.6" font-family='"Liberation Sans", sans-serif' font-size="25.6" text-anchor="middle" fill="#000" stroke="#000" stroke-width="0.35" ><tspan font-family='"Liberation Serif", serif' font-style="italic" font-size="27" letter-spacing="-2.2">&#957;</tspan><tspan font-size="17" dy="6">as</tspan><tspan dy="-6" font-size="1">&#8203;</tspan>(COO)</text><text x="858.6" y="1362.2" font-family='"Liberation Sans", sans-serif' font-size="25.6" text-anchor="middle" fill="#000" stroke="#000" stroke-width="0.35" >1580 cm<tspan font-size="15.6" dy="-10.8">-1</tspan><tspan dy="10.8" font-size="1">&#8203;</tspan></text>
<rect x="989" y="1140.7" width="271.4" height="233" fill="none" stroke="#ff00ff" stroke-width="2.9"/>
<line x1="999.57" y1="1225.06" x2="1031.88" y2="1225.06" stroke="#000" stroke-width="1.85" /><line x1="1031.66" y1="1225.27" x2="1045.48" y2="1211.46" stroke="#000" stroke-width="1.85" /><line x1="1031.66" y1="1224.84" x2="1045.48" y2="1239.42" stroke="#000" stroke-width="1.85" /><line x1="1043.85" y1="1222.66" x2="1039.82" y2="1225.06" stroke="#000" stroke-width="1.85" /><line x1="1039.82" y1="1225.06" x2="1043.85" y2="1227.56" stroke="#000" stroke-width="1.85" /><line x1="1046.35" y1="1219.62" x2="1050.05" y2="1215.48" stroke="#000" stroke-width="1.85" /><line x1="1046.35" y1="1231.15" x2="1050.15" y2="1235.5" stroke="#000" stroke-width="1.85" /><line x1="1061.25" y1="1210.37" x2="1065.6" y2="1214.4" stroke="#000" stroke-width="1.85" /><line x1="1061.25" y1="1240.07" x2="1065.27" y2="1236.48" stroke="#000" stroke-width="1.85" /><line x1="1091.16" y1="1210.37" x2="1087.36" y2="1214.72" stroke="#000" stroke-width="1.85" /><line x1="1087.36" y1="1236.48" x2="1091.16" y2="1240.29" stroke="#000" stroke-width="1.85" /><line x1="1253.46" y1="1225.06" x2="1221.15" y2="1225.06" stroke="#000" stroke-width="1.85" /><line x1="1221.37" y1="1225.27" x2="1207.56" y2="1211.46" stroke="#000" stroke-width="1.85" /><line x1="1221.37" y1="1224.84" x2="1207.56" y2="1239.42" stroke="#000" stroke-width="1.85" /><line x1="1209.19" y1="1222.66" x2="1213.21" y2="1225.06" stroke="#000" stroke-width="1.85" /><line x1="1213.21" y1="1225.06" x2="1209.19" y2="1227.56" stroke="#000" stroke-width="1.85" /><line x1="1206.69" y1="1219.62" x2="1202.99" y2="1215.48" stroke="#000" stroke-width="1.85" /><line x1="1206.69" y1="1231.15" x2="1202.88" y2="1235.5" stroke="#000" stroke-width="1.85" /><line x1="1191.78" y1="1210.37" x2="1187.43" y2="1214.4" stroke="#000" stroke-width="1.85" /><line x1="1191.78" y1="1240.07" x2="1187.76" y2="1236.48" stroke="#000" stroke-width="1.85" /><line x1="1161.87" y1="1210.37" x2="1165.68" y2="1214.72" stroke="#000" stroke-width="1.85" /><line x1="1165.68" y1="1236.48" x2="1161.87" y2="1240.29" stroke="#000" stroke-width="1.85" /><line x1="1126.52" y1="1154.35" x2="1126.52" y2="1187.53" stroke="#000" stroke-width="1.85" /><line x1="1126.52" y1="1187.53" x2="1107.48" y2="1197.32" stroke="#000" stroke-width="1.85" /><line x1="1110.2" y1="1203.3" x2="1116.73" y2="1200.04" stroke="#000" stroke-width="1.85" /><line x1="1121.08" y1="1196.45" x2="1126.52" y2="1193.51" stroke="#000" stroke-width="1.85" /><line x1="1126.52" y1="1187.53" x2="1145.55" y2="1197.32" stroke="#000" stroke-width="1.85" /><line x1="1142.83" y1="1203.3" x2="1136.31" y2="1200.04" stroke="#000" stroke-width="1.85" /><line x1="1131.96" y1="1196.45" x2="1126.52" y2="1193.51" stroke="#000" stroke-width="1.85" /><line x1="1126.52" y1="1295.76" x2="1126.52" y2="1262.59" stroke="#000" stroke-width="1.85" /><line x1="1126.52" y1="1262.59" x2="1107.48" y2="1252.8" stroke="#000" stroke-width="1.85" /><line x1="1110.2" y1="1246.81" x2="1116.73" y2="1250.08" stroke="#000" stroke-width="1.85" /><line x1="1121.08" y1="1253.67" x2="1126.52" y2="1256.6" stroke="#000" stroke-width="1.85" /><line x1="1126.52" y1="1262.59" x2="1145.55" y2="1252.8" stroke="#000" stroke-width="1.85" /><line x1="1142.83" y1="1246.81" x2="1136.31" y2="1250.08" stroke="#000" stroke-width="1.85" /><line x1="1131.96" y1="1253.67" x2="1126.52" y2="1256.6" stroke="#000" stroke-width="1.85" />
<text x="1054.94" y="1209.51" font-family='"Liberation Sans", sans-serif' font-size="21" text-anchor="middle" fill="#000" stroke="#000" stroke-width="0.35" >O</text>
<text x="1054.94" y="1255.64" font-family='"Liberation Sans", sans-serif' font-size="21" text-anchor="middle" fill="#000" stroke="#000" stroke-width="0.35" >O</text>
<text x="1198.09" y="1209.51" font-family='"Liberation Sans", sans-serif' font-size="21" text-anchor="middle" fill="#000" stroke="#000" stroke-width="0.35" >O</text>
<text x="1198.09" y="1255.64" font-family='"Liberation Sans", sans-serif' font-size="21" text-anchor="middle" fill="#000" stroke="#000" stroke-width="0.35" >O</text>
<text x="1098.45" y="1209.51" font-family='"Liberation Sans", sans-serif' font-size="21" text-anchor="middle" fill="#000" stroke="#000" stroke-width="0.35" >O</text>
<text x="1098.45" y="1255.64" font-family='"Liberation Sans", sans-serif' font-size="21" text-anchor="middle" fill="#000" stroke="#000" stroke-width="0.35" >O</text>
<text x="1154.58" y="1209.51" font-family='"Liberation Sans", sans-serif' font-size="21" text-anchor="middle" fill="#000" stroke="#000" stroke-width="0.35" >O</text>
<text x="1154.58" y="1255.64" font-family='"Liberation Sans", sans-serif' font-size="21" text-anchor="middle" fill="#000" stroke="#000" stroke-width="0.35" >O</text>
<text x="1065.17" y="1231.58" font-family='"Liberation Sans", sans-serif' font-size="20.2" text-anchor="start" fill="#000" stroke="#000" stroke-width="0.35" >Pd</text>
<text x="1163.29" y="1231.58" font-family='"Liberation Sans", sans-serif' font-size="20.2" text-anchor="start" fill="#000" stroke="#000" stroke-width="0.35" >Pd</text>
<text x="1131.6" y="1325.2" font-family='"Liberation Sans", sans-serif' font-size="25.6" text-anchor="middle" fill="#000" stroke="#000" stroke-width="0.35" ><tspan font-family='"Liberation Serif", serif' font-style="italic" font-size="27" letter-spacing="-2.2">&#957;</tspan><tspan font-size="17" dy="6">as</tspan><tspan dy="-6" font-size="1">&#8203;</tspan>(COO)</text><text x="1128.3" y="1366.2" font-family='"Liberation Sans", sans-serif' font-size="25.6" text-anchor="middle" fill="#000" stroke="#000" stroke-width="0.35" >1570 cm<tspan font-size="15.6" dy="-10.8">-1</tspan><tspan dy="10.8" font-size="1">&#8203;</tspan></text>
<rect x="1336.6" y="1172.1" width="133.4" height="198.6" fill="none" stroke="#808000" stroke-width="3"/>
<line x1="1402.2" y1="1183.21" x2="1402.2" y2="1215.09" stroke="#000" stroke-width="1.85" /><line x1="1402.2" y1="1215.09" x2="1383.93" y2="1225.56" stroke="#000" stroke-width="1.85" /><line x1="1386.42" y1="1230.87" x2="1392.24" y2="1227.55" stroke="#000" stroke-width="1.85" /><line x1="1396.72" y1="1224.89" x2="1402.2" y2="1221.57" stroke="#000" stroke-width="1.85" /><line x1="1375.13" y1="1241.33" x2="1375.13" y2="1256.61" stroke="#000" stroke-width="1.85" /><line x1="1402.2" y1="1215.09" x2="1420.46" y2="1225.56" stroke="#000" stroke-width="1.85" /><line x1="1417.97" y1="1230.87" x2="1412.16" y2="1227.55" stroke="#000" stroke-width="1.85" /><line x1="1407.68" y1="1224.89" x2="1402.2" y2="1221.57" stroke="#000" stroke-width="1.85" /><line x1="1429.27" y1="1241.33" x2="1429.27" y2="1256.61" stroke="#000" stroke-width="1.85" />
<text x="1375.13" y="1238.39" font-family='"Liberation Sans", sans-serif' font-size="21" text-anchor="middle" fill="#000" stroke="#000" stroke-width="0.35" >O</text>
<text x="1429.6" y="1238.39" font-family='"Liberation Sans", sans-serif' font-size="21" text-anchor="middle" fill="#000" stroke="#000" stroke-width="0.35" >O</text>
<rect x="1359.52" y="1256.61" width="83.03" height="25.07" fill="none" stroke="#000" stroke-width="1.85"/>
<text x="1384.2" y="1274.3" font-family='"Liberation Sans", sans-serif' font-size="19.7" text-anchor="start" fill="#000" stroke="#000" stroke-width="0.35" >SiO<tspan font-size="15" dy="5.2">2</tspan><tspan dy="-5.2" font-size="1">&#8203;</tspan></text>
<text x="1406.2" y="1317.7" font-family='"Liberation Sans", sans-serif' font-size="25.6" text-anchor="middle" fill="#000" stroke="#000" stroke-width="0.35" ><tspan font-family='"Liberation Serif", serif' font-style="italic" font-size="27" letter-spacing="-2.2">&#957;</tspan><tspan font-size="17" dy="6">as</tspan><tspan dy="-6" font-size="1">&#8203;</tspan>(COO)</text><text x="1403" y="1357.6" font-family='"Liberation Sans", sans-serif' font-size="25.6" text-anchor="middle" fill="#000" stroke="#000" stroke-width="0.35" >1545 cm<tspan font-size="15.6" dy="-10.8">-1</tspan><tspan dy="10.8" font-size="1">&#8203;</tspan></text>
</svg>
</body></html>
